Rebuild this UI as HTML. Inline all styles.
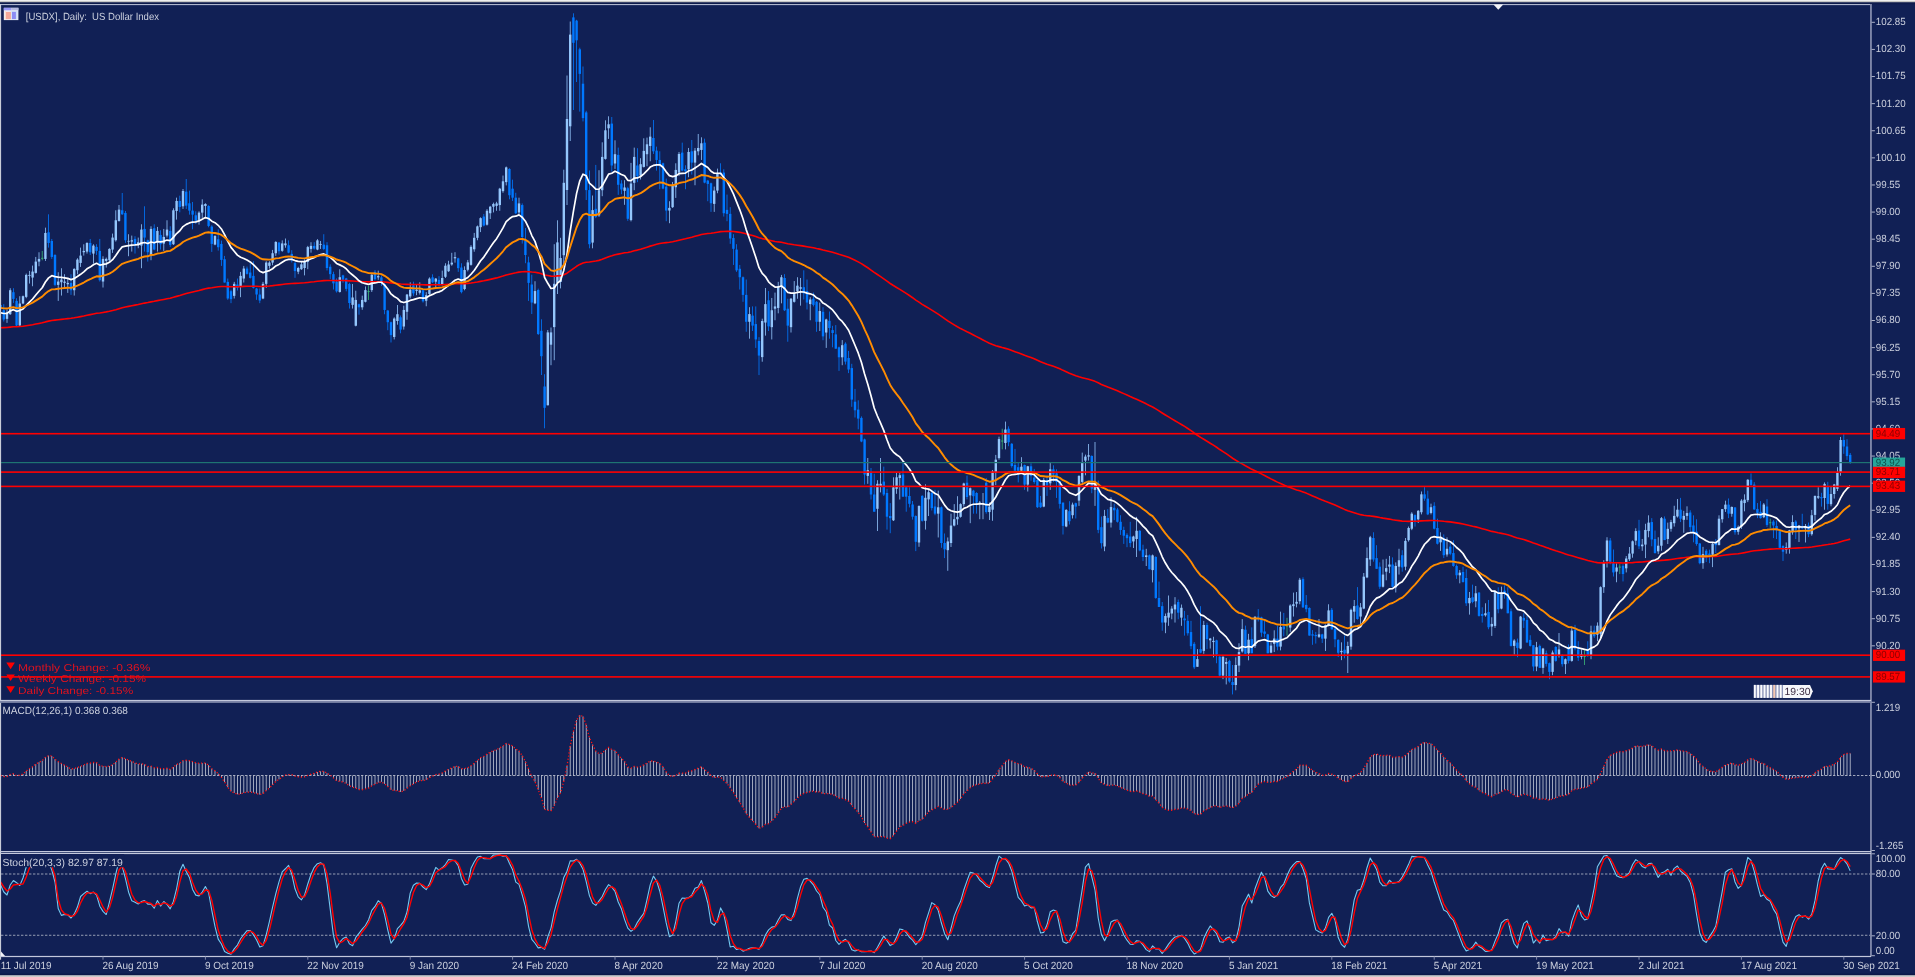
<!DOCTYPE html><html><head><meta charset="utf-8"><style>html,body{margin:0;padding:0;background:#112055;}body{width:1915px;height:977px;overflow:hidden;position:relative}svg{display:block;position:absolute;left:0;top:0}.ov{will-change:transform}</style></head><body><svg width="1915" height="977" viewBox="0 0 1915 977"><rect x="0" y="0" width="1915" height="977" fill="#112055"/><defs><clipPath id="cm"><rect x="1" y="5" width="1869.5" height="695"/></clipPath><clipPath id="cmacd"><rect x="1" y="703" width="1869.5" height="148"/></clipPath><clipPath id="cst"><rect x="1" y="854" width="1869.5" height="101.5"/></clipPath></defs><g clip-path="url(#cm)"><rect x="0.2" y="304.5" width="0.8" height="5" fill="#0078ff"/><rect x="-0.6" y="305" width="2.4" height="4" fill="#0078ff"/><rect x="3.4" y="304.2" width="0.8" height="17.31" fill="#0078ff"/><rect x="2.6" y="310.19" width="2.4" height="9.32" fill="#0078ff"/><rect x="6.6" y="309.53" width="0.8" height="13.32" fill="#94c6fc"/><rect x="5.8" y="312.19" width="2.4" height="6.66" fill="#94c6fc"/><rect x="9.8" y="288.22" width="0.8" height="26.63" fill="#94c6fc"/><rect x="9" y="290.22" width="2.4" height="23.97" fill="#94c6fc"/><rect x="13" y="288.22" width="0.8" height="14.65" fill="#0078ff"/><rect x="12.2" y="292.22" width="2.4" height="6.66" fill="#0078ff"/><rect x="16.2" y="298.21" width="0.8" height="27.96" fill="#0078ff"/><rect x="15.4" y="300.87" width="2.4" height="24.63" fill="#0078ff"/><rect x="19.4" y="296.21" width="0.8" height="29.96" fill="#94c6fc"/><rect x="18.6" y="303.54" width="2.4" height="21.97" fill="#94c6fc"/><rect x="22.6" y="295.55" width="0.8" height="8.66" fill="#94c6fc"/><rect x="21.8" y="296.21" width="2.4" height="7.32" fill="#94c6fc"/><rect x="25.8" y="273.58" width="0.8" height="24.63" fill="#94c6fc"/><rect x="25" y="274.91" width="2.4" height="21.97" fill="#94c6fc"/><rect x="29" y="270.91" width="0.8" height="12.65" fill="#94c6fc"/><rect x="28.2" y="274.91" width="2.4" height="0.93" fill="#94c6fc"/><rect x="32.2" y="265.59" width="0.8" height="20.64" fill="#94c6fc"/><rect x="31.4" y="271.58" width="2.4" height="5.99" fill="#94c6fc"/><rect x="35.4" y="256.93" width="0.8" height="16.64" fill="#94c6fc"/><rect x="34.6" y="261.59" width="2.4" height="11.32" fill="#94c6fc"/><rect x="38.6" y="252.27" width="0.8" height="13.98" fill="#94c6fc"/><rect x="37.8" y="258.93" width="2.4" height="2.66" fill="#94c6fc"/><rect x="41.8" y="250.94" width="0.8" height="9.32" fill="#3cb878"/><rect x="41" y="257.86" width="2.4" height="0.8" fill="#3cb878"/><rect x="45" y="227.64" width="0.8" height="33.29" fill="#94c6fc"/><rect x="44.2" y="232.96" width="2.4" height="25.97" fill="#94c6fc"/><rect x="48.2" y="214.32" width="0.8" height="33.29" fill="#0078ff"/><rect x="47.4" y="232.3" width="2.4" height="10.65" fill="#0078ff"/><rect x="51.4" y="238.95" width="0.8" height="19.97" fill="#0078ff"/><rect x="50.6" y="240.95" width="2.4" height="15.98" fill="#0078ff"/><rect x="54.6" y="254.27" width="0.8" height="31.96" fill="#0078ff"/><rect x="53.8" y="254.93" width="2.4" height="29.96" fill="#0078ff"/><rect x="57.8" y="272.24" width="0.8" height="28.63" fill="#94c6fc"/><rect x="57" y="281.56" width="2.4" height="3.33" fill="#94c6fc"/><rect x="61" y="268.25" width="0.8" height="27.3" fill="#94c6fc"/><rect x="60.2" y="279.57" width="2.4" height="2.66" fill="#94c6fc"/><rect x="64.2" y="274.24" width="0.8" height="14.65" fill="#94c6fc"/><rect x="63.4" y="281.56" width="2.4" height="1.33" fill="#94c6fc"/><rect x="67.4" y="278.9" width="0.8" height="13.98" fill="#94c6fc"/><rect x="66.6" y="282.9" width="2.4" height="1.33" fill="#94c6fc"/><rect x="70.6" y="274.24" width="0.8" height="20.64" fill="#0078ff"/><rect x="69.8" y="282.9" width="2.4" height="7.32" fill="#0078ff"/><rect x="73.8" y="268.25" width="0.8" height="27.3" fill="#94c6fc"/><rect x="73" y="268.91" width="2.4" height="21.3" fill="#94c6fc"/><rect x="77" y="258.26" width="0.8" height="15.98" fill="#94c6fc"/><rect x="76.2" y="259.59" width="2.4" height="10.65" fill="#94c6fc"/><rect x="80.2" y="247.61" width="0.8" height="19.31" fill="#94c6fc"/><rect x="79.4" y="255.6" width="2.4" height="7.32" fill="#94c6fc"/><rect x="83.4" y="244.28" width="0.8" height="11.32" fill="#94c6fc"/><rect x="82.6" y="250.94" width="2.4" height="1.33" fill="#94c6fc"/><rect x="86.6" y="242.28" width="0.8" height="11.32" fill="#94c6fc"/><rect x="85.8" y="242.95" width="2.4" height="8.66" fill="#94c6fc"/><rect x="89.8" y="238.95" width="0.8" height="15.98" fill="#0078ff"/><rect x="89" y="242.95" width="2.4" height="9.32" fill="#0078ff"/><rect x="93" y="244.28" width="0.8" height="19.31" fill="#94c6fc"/><rect x="92.2" y="245.61" width="2.4" height="7.99" fill="#94c6fc"/><rect x="96.2" y="244.24" width="0.8" height="10.65" fill="#0078ff"/><rect x="95.4" y="246.9" width="2.4" height="3.99" fill="#0078ff"/><rect x="99.4" y="238.91" width="0.8" height="42.61" fill="#0078ff"/><rect x="98.6" y="250.9" width="2.4" height="29.29" fill="#0078ff"/><rect x="102.6" y="256.23" width="0.8" height="31.29" fill="#94c6fc"/><rect x="101.8" y="258.89" width="2.4" height="22.64" fill="#94c6fc"/><rect x="105.8" y="257.56" width="0.8" height="9.99" fill="#94c6fc"/><rect x="105" y="258.89" width="2.4" height="2" fill="#94c6fc"/><rect x="109" y="248.24" width="0.8" height="13.32" fill="#94c6fc"/><rect x="108.2" y="248.9" width="2.4" height="11.32" fill="#94c6fc"/><rect x="112.2" y="233.59" width="0.8" height="19.31" fill="#94c6fc"/><rect x="111.4" y="237.58" width="2.4" height="11.98" fill="#94c6fc"/><rect x="115.4" y="210.29" width="0.8" height="31.29" fill="#94c6fc"/><rect x="114.6" y="220.27" width="2.4" height="19.97" fill="#94c6fc"/><rect x="118.6" y="204.96" width="0.8" height="16.64" fill="#94c6fc"/><rect x="117.8" y="209.62" width="2.4" height="11.32" fill="#94c6fc"/><rect x="121.8" y="192.98" width="0.8" height="21.97" fill="#0078ff"/><rect x="121" y="210.29" width="2.4" height="3.99" fill="#0078ff"/><rect x="125" y="210.95" width="0.8" height="31.96" fill="#0078ff"/><rect x="124.2" y="212.95" width="2.4" height="27.3" fill="#0078ff"/><rect x="128.2" y="234.25" width="0.8" height="21.97" fill="#94c6fc"/><rect x="127.4" y="240.85" width="2.4" height="0.8" fill="#94c6fc"/><rect x="131.4" y="235.59" width="0.8" height="15.98" fill="#94c6fc"/><rect x="130.6" y="240.25" width="2.4" height="1.33" fill="#94c6fc"/><rect x="134.6" y="236.25" width="0.8" height="17.31" fill="#0078ff"/><rect x="133.8" y="238.91" width="2.4" height="5.33" fill="#0078ff"/><rect x="137.8" y="237.58" width="0.8" height="10.65" fill="#94c6fc"/><rect x="137" y="242.24" width="2.4" height="2" fill="#94c6fc"/><rect x="141" y="224.27" width="0.8" height="43.94" fill="#94c6fc"/><rect x="140.2" y="229.59" width="2.4" height="15.98" fill="#94c6fc"/><rect x="144.2" y="206.29" width="0.8" height="45.27" fill="#0078ff"/><rect x="143.4" y="228.93" width="2.4" height="8.66" fill="#0078ff"/><rect x="147.4" y="239.58" width="0.8" height="21.97" fill="#0078ff"/><rect x="146.6" y="240.25" width="2.4" height="11.98" fill="#0078ff"/><rect x="150.6" y="226.26" width="0.8" height="33.95" fill="#94c6fc"/><rect x="149.8" y="228.93" width="2.4" height="25.97" fill="#94c6fc"/><rect x="153.8" y="224.27" width="0.8" height="25.97" fill="#0078ff"/><rect x="153" y="228.26" width="2.4" height="21.3" fill="#0078ff"/><rect x="157" y="226.93" width="0.8" height="24.63" fill="#94c6fc"/><rect x="156.2" y="230.93" width="2.4" height="11.98" fill="#94c6fc"/><rect x="160.2" y="230.26" width="0.8" height="19.31" fill="#0078ff"/><rect x="159.4" y="234.92" width="2.4" height="9.32" fill="#0078ff"/><rect x="163.4" y="228.93" width="0.8" height="21.97" fill="#94c6fc"/><rect x="162.6" y="236.92" width="2.4" height="6.66" fill="#94c6fc"/><rect x="166.6" y="220.27" width="0.8" height="17.31" fill="#94c6fc"/><rect x="165.8" y="229.59" width="2.4" height="5.99" fill="#94c6fc"/><rect x="169.8" y="226.26" width="0.8" height="20.64" fill="#0078ff"/><rect x="169" y="230.93" width="2.4" height="13.98" fill="#0078ff"/><rect x="173" y="208.29" width="0.8" height="36.62" fill="#94c6fc"/><rect x="172.2" y="210.29" width="2.4" height="33.95" fill="#94c6fc"/><rect x="176.2" y="197.64" width="0.8" height="21.97" fill="#94c6fc"/><rect x="175.4" y="200.97" width="2.4" height="9.99" fill="#94c6fc"/><rect x="179.4" y="195.64" width="0.8" height="16.64" fill="#0078ff"/><rect x="178.6" y="200.97" width="2.4" height="5.99" fill="#0078ff"/><rect x="182.6" y="188.98" width="0.8" height="19.97" fill="#94c6fc"/><rect x="181.8" y="190.98" width="2.4" height="15.31" fill="#94c6fc"/><rect x="185.8" y="178.99" width="0.8" height="29.96" fill="#0078ff"/><rect x="185" y="191.64" width="2.4" height="13.98" fill="#0078ff"/><rect x="189" y="190.65" width="0.8" height="23.97" fill="#0078ff"/><rect x="188.2" y="203.3" width="2.4" height="7.32" fill="#0078ff"/><rect x="192.2" y="201.97" width="0.8" height="27.3" fill="#0078ff"/><rect x="191.4" y="210.63" width="2.4" height="3.99" fill="#0078ff"/><rect x="195.4" y="211.29" width="0.8" height="12.65" fill="#0078ff"/><rect x="194.6" y="215.29" width="2.4" height="5.33" fill="#0078ff"/><rect x="198.6" y="211.29" width="0.8" height="13.32" fill="#94c6fc"/><rect x="197.8" y="212.62" width="2.4" height="7.32" fill="#94c6fc"/><rect x="201.8" y="199.31" width="0.8" height="18.64" fill="#94c6fc"/><rect x="201" y="204.63" width="2.4" height="7.99" fill="#94c6fc"/><rect x="205" y="203.3" width="0.8" height="13.98" fill="#94c6fc"/><rect x="204.2" y="203.97" width="2.4" height="2" fill="#94c6fc"/><rect x="208.2" y="205.3" width="0.8" height="21.97" fill="#0078ff"/><rect x="207.4" y="205.97" width="2.4" height="19.97" fill="#0078ff"/><rect x="211.4" y="225.27" width="0.8" height="26.63" fill="#0078ff"/><rect x="210.6" y="226.6" width="2.4" height="17.31" fill="#0078ff"/><rect x="214.6" y="235.26" width="0.8" height="9.99" fill="#94c6fc"/><rect x="213.8" y="235.93" width="2.4" height="8.66" fill="#94c6fc"/><rect x="217.8" y="229.27" width="0.8" height="21.3" fill="#0078ff"/><rect x="217" y="239.25" width="2.4" height="7.99" fill="#0078ff"/><rect x="221" y="240.59" width="0.8" height="25.3" fill="#0078ff"/><rect x="220.2" y="243.91" width="2.4" height="15.98" fill="#0078ff"/><rect x="224.2" y="255.9" width="0.8" height="26.63" fill="#0078ff"/><rect x="223.4" y="259.23" width="2.4" height="23.3" fill="#0078ff"/><rect x="227.4" y="278.54" width="0.8" height="21.3" fill="#0078ff"/><rect x="226.6" y="281.86" width="2.4" height="16.64" fill="#0078ff"/><rect x="230.6" y="289.85" width="0.8" height="13.32" fill="#0078ff"/><rect x="229.8" y="291.19" width="2.4" height="7.99" fill="#0078ff"/><rect x="233.8" y="281.86" width="0.8" height="16.64" fill="#94c6fc"/><rect x="233" y="283.86" width="2.4" height="11.98" fill="#94c6fc"/><rect x="237" y="278.54" width="0.8" height="11.98" fill="#0078ff"/><rect x="236.2" y="284.53" width="2.4" height="3.33" fill="#0078ff"/><rect x="240.2" y="271.88" width="0.8" height="25.3" fill="#94c6fc"/><rect x="239.4" y="275.87" width="2.4" height="10.65" fill="#94c6fc"/><rect x="243.4" y="265.89" width="0.8" height="16.64" fill="#94c6fc"/><rect x="242.6" y="268.55" width="2.4" height="9.99" fill="#94c6fc"/><rect x="246.6" y="266.55" width="0.8" height="7.99" fill="#0078ff"/><rect x="245.8" y="268.55" width="2.4" height="5.33" fill="#0078ff"/><rect x="249.8" y="263.22" width="0.8" height="15.31" fill="#0078ff"/><rect x="249" y="272.54" width="2.4" height="5.33" fill="#0078ff"/><rect x="253" y="261.23" width="0.8" height="27.3" fill="#0078ff"/><rect x="252.2" y="275.87" width="2.4" height="11.98" fill="#0078ff"/><rect x="256.2" y="287.86" width="0.8" height="11.98" fill="#0078ff"/><rect x="255.4" y="288.52" width="2.4" height="5.99" fill="#0078ff"/><rect x="259.4" y="288.52" width="0.8" height="14.65" fill="#0078ff"/><rect x="258.6" y="294.51" width="2.4" height="5.99" fill="#0078ff"/><rect x="262.6" y="281.86" width="0.8" height="17.31" fill="#94c6fc"/><rect x="261.8" y="283.86" width="2.4" height="14.65" fill="#94c6fc"/><rect x="265.8" y="261.23" width="0.8" height="26.63" fill="#94c6fc"/><rect x="265" y="262.56" width="2.4" height="21.3" fill="#94c6fc"/><rect x="269" y="261.23" width="0.8" height="7.32" fill="#94c6fc"/><rect x="268.2" y="262.56" width="2.4" height="3.33" fill="#94c6fc"/><rect x="272.2" y="249.91" width="0.8" height="15.31" fill="#94c6fc"/><rect x="271.4" y="253.24" width="2.4" height="9.32" fill="#94c6fc"/><rect x="275.4" y="241.25" width="0.8" height="14.65" fill="#94c6fc"/><rect x="274.6" y="241.92" width="2.4" height="11.32" fill="#94c6fc"/><rect x="278.6" y="241.92" width="0.8" height="12.65" fill="#0078ff"/><rect x="277.8" y="242.58" width="2.4" height="8.66" fill="#0078ff"/><rect x="281.8" y="240.36" width="0.8" height="11.43" fill="#94c6fc"/><rect x="281" y="243.43" width="2.4" height="7.37" fill="#94c6fc"/><rect x="285" y="238.51" width="0.8" height="9.21" fill="#94c6fc"/><rect x="284.2" y="243.43" width="2.4" height="1.84" fill="#94c6fc"/><rect x="288.2" y="240.36" width="0.8" height="12.9" fill="#0078ff"/><rect x="287.4" y="245.27" width="2.4" height="7.37" fill="#0078ff"/><rect x="291.4" y="250.18" width="0.8" height="12.29" fill="#0078ff"/><rect x="290.6" y="253.87" width="2.4" height="4.91" fill="#0078ff"/><rect x="294.6" y="261.86" width="0.8" height="15.97" fill="#0078ff"/><rect x="293.8" y="263.08" width="2.4" height="7.99" fill="#0078ff"/><rect x="297.8" y="266.77" width="0.8" height="7.37" fill="#94c6fc"/><rect x="297" y="268" width="2.4" height="3.69" fill="#94c6fc"/><rect x="301" y="261.86" width="0.8" height="7.99" fill="#94c6fc"/><rect x="300.2" y="264.31" width="2.4" height="4.91" fill="#94c6fc"/><rect x="304.2" y="259.4" width="0.8" height="15.97" fill="#94c6fc"/><rect x="303.4" y="261.86" width="2.4" height="6.14" fill="#94c6fc"/><rect x="307.4" y="245.88" width="0.8" height="23.34" fill="#94c6fc"/><rect x="306.6" y="247.11" width="2.4" height="14.74" fill="#94c6fc"/><rect x="310.6" y="242.2" width="0.8" height="10.44" fill="#94c6fc"/><rect x="309.8" y="245.88" width="2.4" height="3.07" fill="#94c6fc"/><rect x="313.8" y="242.2" width="0.8" height="7.37" fill="#0078ff"/><rect x="313" y="245.88" width="2.4" height="2.7" fill="#0078ff"/><rect x="317" y="239.13" width="0.8" height="11.06" fill="#94c6fc"/><rect x="316.2" y="240.36" width="2.4" height="9.21" fill="#94c6fc"/><rect x="320.2" y="240.97" width="0.8" height="7.99" fill="#94c6fc"/><rect x="319.4" y="243.95" width="2.4" height="0.8" fill="#94c6fc"/><rect x="323.4" y="234.21" width="0.8" height="15.97" fill="#0078ff"/><rect x="322.6" y="244.66" width="2.4" height="4.3" fill="#0078ff"/><rect x="326.6" y="242.2" width="0.8" height="28.26" fill="#0078ff"/><rect x="325.8" y="245.27" width="2.4" height="22.73" fill="#0078ff"/><rect x="329.8" y="264.31" width="0.8" height="14.74" fill="#0078ff"/><rect x="329" y="266.77" width="2.4" height="7.37" fill="#0078ff"/><rect x="333" y="271.68" width="0.8" height="17.81" fill="#0078ff"/><rect x="332.2" y="274.14" width="2.4" height="9.21" fill="#0078ff"/><rect x="336.2" y="278.44" width="0.8" height="14.13" fill="#0078ff"/><rect x="335.4" y="281.51" width="2.4" height="9.83" fill="#0078ff"/><rect x="339.4" y="269.23" width="0.8" height="23.34" fill="#94c6fc"/><rect x="338.6" y="277.21" width="2.4" height="14.74" fill="#94c6fc"/><rect x="342.6" y="274.75" width="0.8" height="7.99" fill="#0078ff"/><rect x="341.8" y="275.37" width="2.4" height="4.3" fill="#0078ff"/><rect x="345.8" y="277.83" width="0.8" height="13.51" fill="#0078ff"/><rect x="345" y="278.44" width="2.4" height="10.44" fill="#0078ff"/><rect x="349" y="282.74" width="0.8" height="25.8" fill="#0078ff"/><rect x="348.2" y="283.97" width="2.4" height="19.04" fill="#0078ff"/><rect x="352.2" y="283.97" width="0.8" height="24.57" fill="#94c6fc"/><rect x="351.4" y="297.48" width="2.4" height="7.37" fill="#94c6fc"/><rect x="355.4" y="290.72" width="0.8" height="35.63" fill="#94c6fc"/><rect x="354.6" y="299.94" width="2.4" height="25.8" fill="#94c6fc"/><rect x="358.6" y="303.62" width="0.8" height="11.06" fill="#0078ff"/><rect x="357.8" y="304.24" width="2.4" height="3.07" fill="#0078ff"/><rect x="361.8" y="295.64" width="0.8" height="14.13" fill="#94c6fc"/><rect x="361" y="299.94" width="2.4" height="7.37" fill="#94c6fc"/><rect x="365" y="286.43" width="0.8" height="15.97" fill="#94c6fc"/><rect x="364.2" y="290.11" width="2.4" height="11.67" fill="#94c6fc"/><rect x="368.2" y="285.81" width="0.8" height="14.13" fill="#3cb878"/><rect x="367.4" y="291.25" width="2.4" height="0.8" fill="#3cb878"/><rect x="371.4" y="274.14" width="0.8" height="17.81" fill="#94c6fc"/><rect x="370.6" y="274.75" width="2.4" height="15.36" fill="#94c6fc"/><rect x="374.6" y="270.01" width="0.8" height="10.44" fill="#0078ff"/><rect x="373.8" y="271.86" width="2.4" height="7.37" fill="#0078ff"/><rect x="377.8" y="270.63" width="0.8" height="9.21" fill="#94c6fc"/><rect x="377" y="276.15" width="2.4" height="1.23" fill="#94c6fc"/><rect x="381" y="275.54" width="0.8" height="10.44" fill="#0078ff"/><rect x="380.2" y="277.38" width="2.4" height="4.91" fill="#0078ff"/><rect x="384.2" y="282.3" width="0.8" height="31.94" fill="#0078ff"/><rect x="383.4" y="284.14" width="2.4" height="25.8" fill="#0078ff"/><rect x="387.4" y="309.94" width="0.8" height="20.27" fill="#0078ff"/><rect x="386.6" y="310.55" width="2.4" height="11.67" fill="#0078ff"/><rect x="390.6" y="321.61" width="0.8" height="20.88" fill="#0078ff"/><rect x="389.8" y="322.22" width="2.4" height="12.9" fill="#0078ff"/><rect x="393.8" y="317.31" width="0.8" height="22.11" fill="#94c6fc"/><rect x="393" y="318.54" width="2.4" height="18.43" fill="#94c6fc"/><rect x="397" y="305.02" width="0.8" height="19.66" fill="#94c6fc"/><rect x="396.2" y="314.24" width="2.4" height="6.76" fill="#94c6fc"/><rect x="400.2" y="315.47" width="0.8" height="17.81" fill="#0078ff"/><rect x="399.4" y="317.31" width="2.4" height="12.29" fill="#0078ff"/><rect x="403.4" y="305.64" width="0.8" height="23.96" fill="#94c6fc"/><rect x="402.6" y="309.94" width="2.4" height="16.58" fill="#94c6fc"/><rect x="406.6" y="293.97" width="0.8" height="25.8" fill="#94c6fc"/><rect x="405.8" y="294.58" width="2.4" height="17.2" fill="#94c6fc"/><rect x="409.8" y="282.3" width="0.8" height="15.97" fill="#94c6fc"/><rect x="409" y="289.67" width="2.4" height="6.76" fill="#94c6fc"/><rect x="413" y="281.68" width="0.8" height="14.13" fill="#0078ff"/><rect x="412.2" y="285.37" width="2.4" height="7.99" fill="#0078ff"/><rect x="416.2" y="284.75" width="0.8" height="10.44" fill="#94c6fc"/><rect x="415.4" y="289.67" width="2.4" height="1.23" fill="#94c6fc"/><rect x="419.4" y="282.3" width="0.8" height="12.29" fill="#94c6fc"/><rect x="418.6" y="290.28" width="2.4" height="2.46" fill="#94c6fc"/><rect x="422.6" y="289.67" width="0.8" height="12.9" fill="#0078ff"/><rect x="421.8" y="290.28" width="2.4" height="11.06" fill="#0078ff"/><rect x="425.8" y="292.13" width="0.8" height="14.13" fill="#94c6fc"/><rect x="425" y="295.2" width="2.4" height="5.53" fill="#94c6fc"/><rect x="429" y="277.38" width="0.8" height="17.81" fill="#94c6fc"/><rect x="428.2" y="278.61" width="2.4" height="15.36" fill="#94c6fc"/><rect x="432.2" y="274.31" width="0.8" height="8.6" fill="#0078ff"/><rect x="431.4" y="277.38" width="2.4" height="4.91" fill="#0078ff"/><rect x="435.4" y="278" width="0.8" height="9.83" fill="#94c6fc"/><rect x="434.6" y="278.61" width="2.4" height="3.07" fill="#94c6fc"/><rect x="438.6" y="276.15" width="0.8" height="10.44" fill="#0078ff"/><rect x="437.8" y="279.84" width="2.4" height="4.91" fill="#0078ff"/><rect x="441.8" y="270.63" width="0.8" height="14.74" fill="#94c6fc"/><rect x="441" y="278" width="2.4" height="6.14" fill="#94c6fc"/><rect x="445" y="263.26" width="0.8" height="14.74" fill="#94c6fc"/><rect x="444.2" y="265.71" width="2.4" height="11.06" fill="#94c6fc"/><rect x="448.2" y="260.8" width="0.8" height="11.06" fill="#94c6fc"/><rect x="447.4" y="264.48" width="2.4" height="6.76" fill="#94c6fc"/><rect x="451.4" y="252.81" width="0.8" height="12.9" fill="#94c6fc"/><rect x="450.6" y="262.64" width="2.4" height="1.84" fill="#94c6fc"/><rect x="454.6" y="252.2" width="0.8" height="10.44" fill="#94c6fc"/><rect x="453.8" y="257.11" width="2.4" height="1.23" fill="#94c6fc"/><rect x="457.8" y="257.73" width="0.8" height="14.13" fill="#0078ff"/><rect x="457" y="258.34" width="2.4" height="9.83" fill="#0078ff"/><rect x="461" y="263.26" width="0.8" height="30.1" fill="#0078ff"/><rect x="460.2" y="267.56" width="2.4" height="24.57" fill="#0078ff"/><rect x="464.2" y="266.33" width="0.8" height="23.96" fill="#94c6fc"/><rect x="463.4" y="270.01" width="2.4" height="19.04" fill="#94c6fc"/><rect x="467.4" y="259.93" width="0.8" height="11.47" fill="#94c6fc"/><rect x="466.6" y="262.39" width="2.4" height="7.37" fill="#94c6fc"/><rect x="470.6" y="245.19" width="0.8" height="20.48" fill="#94c6fc"/><rect x="469.8" y="246.83" width="2.4" height="18.02" fill="#94c6fc"/><rect x="473.8" y="232.9" width="0.8" height="18.84" fill="#94c6fc"/><rect x="473" y="237.82" width="2.4" height="11.47" fill="#94c6fc"/><rect x="477" y="225.53" width="0.8" height="14.74" fill="#94c6fc"/><rect x="476.2" y="226.35" width="2.4" height="11.47" fill="#94c6fc"/><rect x="480.2" y="217.34" width="0.8" height="14.74" fill="#94c6fc"/><rect x="479.4" y="218.16" width="2.4" height="9.01" fill="#94c6fc"/><rect x="483.4" y="214.06" width="0.8" height="12.29" fill="#0078ff"/><rect x="482.6" y="216.52" width="2.4" height="9.01" fill="#0078ff"/><rect x="486.6" y="209.15" width="0.8" height="16.38" fill="#94c6fc"/><rect x="485.8" y="210.79" width="2.4" height="13.93" fill="#94c6fc"/><rect x="489.8" y="205.87" width="0.8" height="13.11" fill="#94c6fc"/><rect x="489" y="206.69" width="2.4" height="6.55" fill="#94c6fc"/><rect x="493" y="202.6" width="0.8" height="9.83" fill="#94c6fc"/><rect x="492.2" y="203.91" width="2.4" height="2.79" fill="#94c6fc"/><rect x="496.2" y="201.78" width="0.8" height="9.01" fill="#94c6fc"/><rect x="495.4" y="203.41" width="2.4" height="2.46" fill="#94c6fc"/><rect x="499.4" y="187.85" width="0.8" height="22.94" fill="#94c6fc"/><rect x="498.6" y="188.67" width="2.4" height="16.38" fill="#94c6fc"/><rect x="502.6" y="175.56" width="0.8" height="17.2" fill="#94c6fc"/><rect x="501.8" y="181.3" width="2.4" height="9.83" fill="#94c6fc"/><rect x="505.8" y="166.55" width="0.8" height="18.84" fill="#94c6fc"/><rect x="505" y="167.37" width="2.4" height="14.74" fill="#94c6fc"/><rect x="509" y="168.19" width="0.8" height="31.13" fill="#0078ff"/><rect x="508.2" y="169.01" width="2.4" height="26.21" fill="#0078ff"/><rect x="512.2" y="179.66" width="0.8" height="21.3" fill="#0078ff"/><rect x="511.4" y="188.67" width="2.4" height="9.01" fill="#0078ff"/><rect x="515.4" y="192.77" width="0.8" height="21.3" fill="#0078ff"/><rect x="514.6" y="197.68" width="2.4" height="15.56" fill="#0078ff"/><rect x="518.6" y="197.68" width="0.8" height="16.38" fill="#94c6fc"/><rect x="517.8" y="203.41" width="2.4" height="9.01" fill="#94c6fc"/><rect x="521.8" y="203.41" width="0.8" height="40.14" fill="#0078ff"/><rect x="521" y="205.05" width="2.4" height="31.95" fill="#0078ff"/><rect x="525" y="227.99" width="0.8" height="35.22" fill="#0078ff"/><rect x="524.2" y="240.28" width="2.4" height="14.74" fill="#0078ff"/><rect x="528.2" y="256.66" width="0.8" height="44.23" fill="#0078ff"/><rect x="527.4" y="262.39" width="2.4" height="20.48" fill="#0078ff"/><rect x="531.4" y="274.68" width="0.8" height="39.32" fill="#0078ff"/><rect x="530.6" y="284.51" width="2.4" height="18.02" fill="#0078ff"/><rect x="534.6" y="281.23" width="0.8" height="22.94" fill="#94c6fc"/><rect x="533.8" y="291.06" width="2.4" height="12.29" fill="#94c6fc"/><rect x="537.8" y="288.6" width="0.8" height="46.4" fill="#0078ff"/><rect x="537" y="290" width="2.4" height="44" fill="#0078ff"/><rect x="541" y="319.3" width="0.8" height="55.7" fill="#0078ff"/><rect x="540.2" y="330.8" width="2.4" height="25.4" fill="#0078ff"/><rect x="544.2" y="374.2" width="0.8" height="54.1" fill="#0078ff"/><rect x="543.4" y="386.5" width="2.4" height="21.3" fill="#0078ff"/><rect x="547.4" y="330" width="0.8" height="75.3" fill="#94c6fc"/><rect x="546.6" y="332.4" width="2.4" height="72.9" fill="#94c6fc"/><rect x="550.6" y="327.5" width="0.8" height="37.7" fill="#94c6fc"/><rect x="549.8" y="332.4" width="2.4" height="12.3" fill="#94c6fc"/><rect x="553.8" y="244.2" width="0.8" height="116" fill="#94c6fc"/><rect x="553" y="283.8" width="2.4" height="43.3" fill="#94c6fc"/><rect x="557" y="220.3" width="0.8" height="73.7" fill="#94c6fc"/><rect x="556.2" y="242.4" width="2.4" height="40.5" fill="#94c6fc"/><rect x="560.2" y="237.8" width="0.8" height="50.6" fill="#94c6fc"/><rect x="559.4" y="258" width="2.4" height="24" fill="#94c6fc"/><rect x="563.4" y="169.7" width="0.8" height="95" fill="#94c6fc"/><rect x="562.6" y="182.8" width="2.4" height="72.4" fill="#94c6fc"/><rect x="566.6" y="75.5" width="0.8" height="129.5" fill="#94c6fc"/><rect x="565.8" y="119" width="2.4" height="71" fill="#94c6fc"/><rect x="569.8" y="21.5" width="0.8" height="119.5" fill="#94c6fc"/><rect x="569" y="34.6" width="2.4" height="91.7" fill="#94c6fc"/><rect x="573" y="13.3" width="0.8" height="96.7" fill="#0078ff"/><rect x="572.2" y="17.4" width="2.4" height="25.4" fill="#0078ff"/><rect x="576.2" y="19.8" width="0.8" height="62.2" fill="#0078ff"/><rect x="575.4" y="20.6" width="2.4" height="19.7" fill="#0078ff"/><rect x="579.4" y="47.7" width="0.8" height="63.9" fill="#0078ff"/><rect x="578.6" y="49.3" width="2.4" height="24.6" fill="#0078ff"/><rect x="582.6" y="66.5" width="0.8" height="54.9" fill="#0078ff"/><rect x="581.8" y="83.7" width="2.4" height="34.4" fill="#0078ff"/><rect x="585.8" y="110.8" width="0.8" height="89.2" fill="#0078ff"/><rect x="585" y="112.4" width="2.4" height="77.7" fill="#0078ff"/><rect x="589" y="170.5" width="0.8" height="77.8" fill="#0078ff"/><rect x="588.2" y="190.1" width="2.4" height="54.1" fill="#0078ff"/><rect x="592.2" y="195.5" width="0.8" height="52.8" fill="#94c6fc"/><rect x="591.4" y="210.1" width="2.4" height="32.5" fill="#94c6fc"/><rect x="595.4" y="164.9" width="0.8" height="53.2" fill="#0078ff"/><rect x="594.6" y="208.8" width="2.4" height="8" fill="#0078ff"/><rect x="598.6" y="170.2" width="0.8" height="46.6" fill="#94c6fc"/><rect x="597.8" y="190.2" width="2.4" height="25.2" fill="#94c6fc"/><rect x="601.8" y="142.3" width="0.8" height="53.9" fill="#94c6fc"/><rect x="601" y="156.9" width="2.4" height="33.3" fill="#94c6fc"/><rect x="605" y="120.3" width="0.8" height="39.3" fill="#94c6fc"/><rect x="604.2" y="130.3" width="2.4" height="28.6" fill="#94c6fc"/><rect x="608.2" y="116.3" width="0.8" height="22.6" fill="#94c6fc"/><rect x="607.4" y="124.3" width="2.4" height="4" fill="#94c6fc"/><rect x="611.4" y="117" width="0.8" height="54.5" fill="#0078ff"/><rect x="610.6" y="123.6" width="2.4" height="41.9" fill="#0078ff"/><rect x="614.6" y="140.3" width="0.8" height="28.6" fill="#94c6fc"/><rect x="613.8" y="154.2" width="2.4" height="9.3" fill="#94c6fc"/><rect x="617.8" y="147.6" width="0.8" height="47.2" fill="#0078ff"/><rect x="617" y="154.9" width="2.4" height="29.9" fill="#0078ff"/><rect x="621" y="180.2" width="0.8" height="14" fill="#0078ff"/><rect x="620.2" y="183.5" width="2.4" height="6" fill="#0078ff"/><rect x="624.2" y="180.2" width="0.8" height="24.6" fill="#94c6fc"/><rect x="623.4" y="187.5" width="2.4" height="3.3" fill="#94c6fc"/><rect x="627.4" y="186.8" width="0.8" height="34" fill="#0078ff"/><rect x="626.6" y="188.2" width="2.4" height="30.6" fill="#0078ff"/><rect x="630.6" y="162.9" width="0.8" height="58.5" fill="#94c6fc"/><rect x="629.8" y="183.5" width="2.4" height="36.6" fill="#94c6fc"/><rect x="633.8" y="147.6" width="0.8" height="42.6" fill="#94c6fc"/><rect x="633" y="156.9" width="2.4" height="25.9" fill="#94c6fc"/><rect x="637" y="148.2" width="0.8" height="34" fill="#0078ff"/><rect x="636.2" y="165.5" width="2.4" height="10.7" fill="#0078ff"/><rect x="640.2" y="158.2" width="0.8" height="21.3" fill="#94c6fc"/><rect x="639.4" y="164.2" width="2.4" height="11.3" fill="#94c6fc"/><rect x="643.4" y="138.3" width="0.8" height="29.2" fill="#94c6fc"/><rect x="642.6" y="150.9" width="2.4" height="16" fill="#94c6fc"/><rect x="646.6" y="137.6" width="0.8" height="28.6" fill="#94c6fc"/><rect x="645.8" y="144.3" width="2.4" height="9.9" fill="#94c6fc"/><rect x="649.8" y="127.32" width="0.8" height="33.95" fill="#94c6fc"/><rect x="649" y="136.64" width="2.4" height="9.32" fill="#94c6fc"/><rect x="653" y="120" width="0.8" height="33.95" fill="#0078ff"/><rect x="652.2" y="137.98" width="2.4" height="13.32" fill="#0078ff"/><rect x="656.2" y="146.63" width="0.8" height="23.97" fill="#0078ff"/><rect x="655.4" y="150.63" width="2.4" height="9.32" fill="#0078ff"/><rect x="659.4" y="151.29" width="0.8" height="37.95" fill="#0078ff"/><rect x="658.6" y="159.95" width="2.4" height="3.99" fill="#0078ff"/><rect x="662.6" y="162.61" width="0.8" height="26.63" fill="#0078ff"/><rect x="661.8" y="163.28" width="2.4" height="25.3" fill="#0078ff"/><rect x="665.8" y="178.59" width="0.8" height="42.61" fill="#0078ff"/><rect x="665" y="186.58" width="2.4" height="23.97" fill="#0078ff"/><rect x="669" y="201.23" width="0.8" height="21.97" fill="#94c6fc"/><rect x="668.2" y="207.88" width="2.4" height="2.66" fill="#94c6fc"/><rect x="672.2" y="181.92" width="0.8" height="25.97" fill="#94c6fc"/><rect x="671.4" y="185.25" width="2.4" height="21.97" fill="#94c6fc"/><rect x="675.4" y="163.28" width="0.8" height="34.62" fill="#94c6fc"/><rect x="674.6" y="169.93" width="2.4" height="17.31" fill="#94c6fc"/><rect x="678.6" y="151.96" width="0.8" height="23.97" fill="#94c6fc"/><rect x="677.8" y="153.95" width="2.4" height="18.64" fill="#94c6fc"/><rect x="681.8" y="142.64" width="0.8" height="28.63" fill="#0078ff"/><rect x="681" y="152.62" width="2.4" height="17.98" fill="#0078ff"/><rect x="685" y="165.27" width="0.8" height="23.97" fill="#0078ff"/><rect x="684.2" y="169.27" width="2.4" height="2" fill="#0078ff"/><rect x="688.2" y="147.96" width="0.8" height="29.29" fill="#94c6fc"/><rect x="687.4" y="151.96" width="2.4" height="17.31" fill="#94c6fc"/><rect x="691.4" y="139.97" width="0.8" height="34.62" fill="#0078ff"/><rect x="690.6" y="151.29" width="2.4" height="11.32" fill="#0078ff"/><rect x="694.6" y="147.96" width="0.8" height="37.28" fill="#94c6fc"/><rect x="693.8" y="150.63" width="2.4" height="11.98" fill="#94c6fc"/><rect x="697.8" y="133.98" width="0.8" height="21.3" fill="#94c6fc"/><rect x="697" y="147.96" width="2.4" height="3.33" fill="#94c6fc"/><rect x="701" y="137.31" width="0.8" height="22.64" fill="#94c6fc"/><rect x="700.2" y="143.3" width="2.4" height="6.66" fill="#94c6fc"/><rect x="704.2" y="138.64" width="0.8" height="44.61" fill="#0078ff"/><rect x="703.4" y="142.64" width="2.4" height="39.95" fill="#0078ff"/><rect x="707.4" y="179.92" width="0.8" height="21.3" fill="#0078ff"/><rect x="706.6" y="180.59" width="2.4" height="3.33" fill="#0078ff"/><rect x="710.6" y="182.58" width="0.8" height="29.29" fill="#0078ff"/><rect x="709.8" y="183.25" width="2.4" height="19.97" fill="#0078ff"/><rect x="713.8" y="186.58" width="0.8" height="25.3" fill="#94c6fc"/><rect x="713" y="190.57" width="2.4" height="13.32" fill="#94c6fc"/><rect x="717" y="168.6" width="0.8" height="24.63" fill="#94c6fc"/><rect x="716.2" y="173.26" width="2.4" height="17.31" fill="#94c6fc"/><rect x="720.2" y="163.28" width="0.8" height="11.98" fill="#0078ff"/><rect x="719.4" y="172.6" width="2.4" height="1.33" fill="#0078ff"/><rect x="723.4" y="169.27" width="0.8" height="47.27" fill="#0078ff"/><rect x="722.6" y="172.6" width="2.4" height="40.61" fill="#0078ff"/><rect x="726.6" y="194.57" width="0.8" height="26.63" fill="#0078ff"/><rect x="725.8" y="209.88" width="2.4" height="3.99" fill="#0078ff"/><rect x="729.8" y="207.22" width="0.8" height="36.62" fill="#0078ff"/><rect x="729" y="213.87" width="2.4" height="24.63" fill="#0078ff"/><rect x="733" y="234.22" width="0.8" height="30.72" fill="#0078ff"/><rect x="732.2" y="238.06" width="2.4" height="10.75" fill="#0078ff"/><rect x="736.2" y="244.2" width="0.8" height="27.65" fill="#0078ff"/><rect x="735.4" y="249.58" width="2.4" height="20.74" fill="#0078ff"/><rect x="739.4" y="264.94" width="0.8" height="24.58" fill="#0078ff"/><rect x="738.6" y="268.78" width="2.4" height="8.45" fill="#0078ff"/><rect x="742.6" y="276.46" width="0.8" height="25.35" fill="#0078ff"/><rect x="741.8" y="277.23" width="2.4" height="17.67" fill="#0078ff"/><rect x="745.8" y="279.53" width="0.8" height="52.23" fill="#0078ff"/><rect x="745" y="294.89" width="2.4" height="26.88" fill="#0078ff"/><rect x="749" y="307.18" width="0.8" height="31.49" fill="#94c6fc"/><rect x="748.2" y="314.09" width="2.4" height="7.68" fill="#94c6fc"/><rect x="752.2" y="306.41" width="0.8" height="24.58" fill="#0078ff"/><rect x="751.4" y="315.63" width="2.4" height="9.98" fill="#0078ff"/><rect x="755.4" y="306.41" width="0.8" height="41.47" fill="#0078ff"/><rect x="754.6" y="324.08" width="2.4" height="15.36" fill="#0078ff"/><rect x="758.6" y="337.14" width="0.8" height="37.94" fill="#0078ff"/><rect x="757.8" y="340.98" width="2.4" height="14.59" fill="#0078ff"/><rect x="761.8" y="318.7" width="0.8" height="43.01" fill="#94c6fc"/><rect x="761" y="321.01" width="2.4" height="36.1" fill="#94c6fc"/><rect x="765" y="287.98" width="0.8" height="47.62" fill="#94c6fc"/><rect x="764.2" y="304.11" width="2.4" height="18.43" fill="#94c6fc"/><rect x="768.2" y="291.05" width="0.8" height="39.94" fill="#0078ff"/><rect x="767.4" y="300.27" width="2.4" height="26.11" fill="#0078ff"/><rect x="771.4" y="297.96" width="0.8" height="41.47" fill="#94c6fc"/><rect x="770.6" y="310.25" width="2.4" height="16.9" fill="#94c6fc"/><rect x="774.6" y="292.59" width="0.8" height="27.65" fill="#94c6fc"/><rect x="773.8" y="306.41" width="2.4" height="2.3" fill="#94c6fc"/><rect x="777.8" y="281.84" width="0.8" height="31.49" fill="#94c6fc"/><rect x="777" y="286.44" width="2.4" height="21.51" fill="#94c6fc"/><rect x="781" y="274.92" width="0.8" height="28.42" fill="#94c6fc"/><rect x="780.2" y="277.23" width="2.4" height="9.22" fill="#94c6fc"/><rect x="784.2" y="274.16" width="0.8" height="36.87" fill="#0078ff"/><rect x="783.4" y="278" width="2.4" height="32.26" fill="#0078ff"/><rect x="787.4" y="298.73" width="0.8" height="43.01" fill="#0078ff"/><rect x="786.6" y="308.72" width="2.4" height="16.9" fill="#0078ff"/><rect x="790.6" y="297.96" width="0.8" height="34.56" fill="#94c6fc"/><rect x="789.8" y="298.73" width="2.4" height="28.42" fill="#94c6fc"/><rect x="793.8" y="281.07" width="0.8" height="21.51" fill="#94c6fc"/><rect x="793" y="294.12" width="2.4" height="7.68" fill="#94c6fc"/><rect x="797" y="277.23" width="0.8" height="21.51" fill="#94c6fc"/><rect x="796.2" y="285.68" width="2.4" height="5.38" fill="#94c6fc"/><rect x="800.2" y="278" width="0.8" height="27.65" fill="#94c6fc"/><rect x="799.4" y="287.21" width="2.4" height="1.54" fill="#94c6fc"/><rect x="803.4" y="270.31" width="0.8" height="29.19" fill="#0078ff"/><rect x="802.6" y="287.21" width="2.4" height="6.14" fill="#0078ff"/><rect x="806.6" y="279.53" width="0.8" height="29.95" fill="#0078ff"/><rect x="805.8" y="291.05" width="2.4" height="11.52" fill="#0078ff"/><rect x="809.8" y="297.2" width="0.8" height="23.04" fill="#94c6fc"/><rect x="809" y="299.5" width="2.4" height="4.61" fill="#94c6fc"/><rect x="813" y="292.59" width="0.8" height="13.82" fill="#0078ff"/><rect x="812.2" y="298.73" width="2.4" height="6.14" fill="#0078ff"/><rect x="816.2" y="301.04" width="0.8" height="30.72" fill="#0078ff"/><rect x="815.4" y="301.8" width="2.4" height="19.97" fill="#0078ff"/><rect x="819.4" y="302.57" width="0.8" height="28.42" fill="#94c6fc"/><rect x="818.6" y="311.02" width="2.4" height="10.75" fill="#94c6fc"/><rect x="822.6" y="307.18" width="0.8" height="33.03" fill="#0078ff"/><rect x="821.8" y="311.79" width="2.4" height="24.58" fill="#0078ff"/><rect x="825.8" y="318.7" width="0.8" height="29.19" fill="#94c6fc"/><rect x="825" y="319.47" width="2.4" height="13.06" fill="#94c6fc"/><rect x="829" y="311.5" width="0.8" height="27.2" fill="#0078ff"/><rect x="828.2" y="320.8" width="2.4" height="7.2" fill="#0078ff"/><rect x="832.2" y="325.8" width="0.8" height="21.5" fill="#0078ff"/><rect x="831.4" y="330.1" width="2.4" height="2.9" fill="#0078ff"/><rect x="835.4" y="325.1" width="0.8" height="23.6" fill="#0078ff"/><rect x="834.6" y="334.4" width="2.4" height="14.3" fill="#0078ff"/><rect x="838.6" y="346.6" width="0.8" height="24.3" fill="#0078ff"/><rect x="837.8" y="347.3" width="2.4" height="10" fill="#0078ff"/><rect x="841.8" y="340.1" width="0.8" height="25.1" fill="#94c6fc"/><rect x="841" y="345.2" width="2.4" height="12.1" fill="#94c6fc"/><rect x="845" y="342.3" width="0.8" height="22.2" fill="#0078ff"/><rect x="844.2" y="343.7" width="2.4" height="17.9" fill="#0078ff"/><rect x="848.2" y="350.9" width="0.8" height="22.2" fill="#0078ff"/><rect x="847.4" y="358" width="2.4" height="11.5" fill="#0078ff"/><rect x="851.4" y="363.8" width="0.8" height="43" fill="#0078ff"/><rect x="850.6" y="368.1" width="2.4" height="31.5" fill="#0078ff"/><rect x="854.6" y="388.9" width="0.8" height="28.6" fill="#0078ff"/><rect x="853.8" y="401.7" width="2.4" height="8.6" fill="#0078ff"/><rect x="857.8" y="400.3" width="0.8" height="29" fill="#0078ff"/><rect x="857" y="409.6" width="2.4" height="9" fill="#0078ff"/><rect x="861" y="416.4" width="0.8" height="25.8" fill="#0078ff"/><rect x="860.2" y="417.9" width="2.4" height="23.6" fill="#0078ff"/><rect x="864.2" y="438.6" width="0.8" height="45.9" fill="#0078ff"/><rect x="863.4" y="439.4" width="2.4" height="35.1" fill="#0078ff"/><rect x="867.4" y="458" width="0.8" height="25.8" fill="#94c6fc"/><rect x="866.6" y="470.2" width="2.4" height="5.7" fill="#94c6fc"/><rect x="870.6" y="468" width="0.8" height="31.5" fill="#0078ff"/><rect x="869.8" y="472.3" width="2.4" height="22.2" fill="#0078ff"/><rect x="873.8" y="473.7" width="0.8" height="38" fill="#0078ff"/><rect x="873" y="494.5" width="2.4" height="17.2" fill="#0078ff"/><rect x="877" y="480.2" width="0.8" height="50.8" fill="#94c6fc"/><rect x="876.2" y="483.8" width="2.4" height="25" fill="#94c6fc"/><rect x="880.2" y="458" width="0.8" height="34.4" fill="#94c6fc"/><rect x="879.4" y="483.8" width="2.4" height="2.1" fill="#94c6fc"/><rect x="883.4" y="466.6" width="0.8" height="29.4" fill="#0078ff"/><rect x="882.6" y="481.6" width="2.4" height="12.9" fill="#0078ff"/><rect x="886.6" y="488.8" width="0.8" height="40.8" fill="#0078ff"/><rect x="885.8" y="493" width="2.4" height="23.7" fill="#0078ff"/><rect x="889.8" y="503.1" width="0.8" height="30.1" fill="#0078ff"/><rect x="889" y="516" width="2.4" height="2.2" fill="#0078ff"/><rect x="893" y="477.3" width="0.8" height="43.7" fill="#94c6fc"/><rect x="892.2" y="487.3" width="2.4" height="33" fill="#94c6fc"/><rect x="896.2" y="473" width="0.8" height="20.8" fill="#94c6fc"/><rect x="895.4" y="477.3" width="2.4" height="11.5" fill="#94c6fc"/><rect x="899.4" y="473" width="0.8" height="26.5" fill="#94c6fc"/><rect x="898.6" y="475.2" width="2.4" height="2.8" fill="#94c6fc"/><rect x="902.6" y="463" width="0.8" height="33.7" fill="#0078ff"/><rect x="901.8" y="474.5" width="2.4" height="22.2" fill="#0078ff"/><rect x="905.8" y="486.6" width="0.8" height="25.1" fill="#0078ff"/><rect x="905" y="487.3" width="2.4" height="9.4" fill="#0078ff"/><rect x="909" y="487.3" width="0.8" height="20.1" fill="#0078ff"/><rect x="908.2" y="496" width="2.4" height="7.8" fill="#0078ff"/><rect x="912.2" y="501" width="0.8" height="18.6" fill="#0078ff"/><rect x="911.4" y="504.5" width="2.4" height="12.2" fill="#0078ff"/><rect x="915.4" y="515.3" width="0.8" height="35.8" fill="#0078ff"/><rect x="914.6" y="516" width="2.4" height="25.8" fill="#0078ff"/><rect x="918.6" y="505.3" width="0.8" height="41.5" fill="#94c6fc"/><rect x="917.8" y="506" width="2.4" height="36.5" fill="#94c6fc"/><rect x="921.8" y="495.24" width="0.8" height="26.35" fill="#0078ff"/><rect x="921" y="495.87" width="2.4" height="24.92" fill="#0078ff"/><rect x="925" y="484.29" width="0.8" height="45.24" fill="#94c6fc"/><rect x="924.2" y="497.78" width="2.4" height="23.02" fill="#94c6fc"/><rect x="928.2" y="489.84" width="0.8" height="26.19" fill="#94c6fc"/><rect x="927.4" y="492.22" width="2.4" height="7.14" fill="#94c6fc"/><rect x="931.4" y="490.63" width="0.8" height="19.84" fill="#0078ff"/><rect x="930.6" y="493.02" width="2.4" height="15.08" fill="#0078ff"/><rect x="934.6" y="489.84" width="0.8" height="25.4" fill="#0078ff"/><rect x="933.8" y="506.51" width="2.4" height="7.14" fill="#0078ff"/><rect x="937.8" y="490.63" width="0.8" height="46.83" fill="#94c6fc"/><rect x="937" y="507.3" width="2.4" height="6.35" fill="#94c6fc"/><rect x="941" y="506.51" width="0.8" height="41.27" fill="#0078ff"/><rect x="940.2" y="507.3" width="2.4" height="35.71" fill="#0078ff"/><rect x="944.2" y="533.49" width="0.8" height="24.6" fill="#0078ff"/><rect x="943.4" y="543.02" width="2.4" height="6.35" fill="#0078ff"/><rect x="947.4" y="537.46" width="0.8" height="33.33" fill="#94c6fc"/><rect x="946.6" y="541.43" width="2.4" height="8.73" fill="#94c6fc"/><rect x="950.6" y="513.65" width="0.8" height="33.33" fill="#94c6fc"/><rect x="949.8" y="525.56" width="2.4" height="17.46" fill="#94c6fc"/><rect x="953.8" y="504.13" width="0.8" height="22.22" fill="#94c6fc"/><rect x="953" y="519.21" width="2.4" height="6.35" fill="#94c6fc"/><rect x="957" y="496.19" width="0.8" height="28.57" fill="#94c6fc"/><rect x="956.2" y="516.83" width="2.4" height="2.38" fill="#94c6fc"/><rect x="960.2" y="503.33" width="0.8" height="14.29" fill="#94c6fc"/><rect x="959.4" y="504.13" width="2.4" height="12.7" fill="#94c6fc"/><rect x="963.4" y="482.7" width="0.8" height="23.81" fill="#94c6fc"/><rect x="962.6" y="483.49" width="2.4" height="20.63" fill="#94c6fc"/><rect x="966.6" y="475.56" width="0.8" height="23.81" fill="#0078ff"/><rect x="965.8" y="482.7" width="2.4" height="14.29" fill="#0078ff"/><rect x="969.8" y="487.46" width="0.8" height="35.71" fill="#94c6fc"/><rect x="969" y="488.25" width="2.4" height="7.14" fill="#94c6fc"/><rect x="973" y="489.84" width="0.8" height="23.81" fill="#0078ff"/><rect x="972.2" y="490.63" width="2.4" height="5.56" fill="#0078ff"/><rect x="976.2" y="492.22" width="0.8" height="21.43" fill="#0078ff"/><rect x="975.4" y="493.02" width="2.4" height="9.52" fill="#0078ff"/><rect x="979.4" y="500.95" width="0.8" height="18.25" fill="#94c6fc"/><rect x="978.6" y="502.54" width="2.4" height="0.8" fill="#94c6fc"/><rect x="982.6" y="493.02" width="0.8" height="26.19" fill="#94c6fc"/><rect x="981.8" y="503.33" width="2.4" height="0.8" fill="#94c6fc"/><rect x="985.8" y="477.94" width="0.8" height="35.71" fill="#0078ff"/><rect x="985" y="482.7" width="2.4" height="29.37" fill="#0078ff"/><rect x="989" y="502.54" width="0.8" height="17.46" fill="#94c6fc"/><rect x="988.2" y="506.51" width="2.4" height="5.56" fill="#94c6fc"/><rect x="992.2" y="470" width="0.8" height="50.79" fill="#94c6fc"/><rect x="991.4" y="471.59" width="2.4" height="38.1" fill="#94c6fc"/><rect x="995.4" y="454.92" width="0.8" height="30.16" fill="#94c6fc"/><rect x="994.6" y="459.68" width="2.4" height="12.7" fill="#94c6fc"/><rect x="998.6" y="436.67" width="0.8" height="23.02" fill="#94c6fc"/><rect x="997.8" y="439.05" width="2.4" height="19.05" fill="#94c6fc"/><rect x="1001.8" y="428.73" width="0.8" height="20.63" fill="#3cb878"/><rect x="1001" y="440.63" width="2.4" height="0.8" fill="#3cb878"/><rect x="1005" y="421.59" width="0.8" height="27.78" fill="#94c6fc"/><rect x="1004.2" y="429.52" width="2.4" height="13.49" fill="#94c6fc"/><rect x="1008.2" y="426.35" width="0.8" height="19.84" fill="#0078ff"/><rect x="1007.4" y="428.73" width="2.4" height="13.49" fill="#0078ff"/><rect x="1011.4" y="443.02" width="0.8" height="24.6" fill="#0078ff"/><rect x="1010.6" y="443.81" width="2.4" height="22.22" fill="#0078ff"/><rect x="1014.6" y="448.9" width="0.8" height="21.8" fill="#0078ff"/><rect x="1013.8" y="465" width="2.4" height="5.7" fill="#0078ff"/><rect x="1017.8" y="462.4" width="0.8" height="20" fill="#0078ff"/><rect x="1017" y="467.2" width="2.4" height="3.5" fill="#0078ff"/><rect x="1021" y="457.2" width="0.8" height="13.5" fill="#94c6fc"/><rect x="1020.2" y="466.7" width="2.4" height="4" fill="#94c6fc"/><rect x="1024.2" y="464.6" width="0.8" height="25.2" fill="#0078ff"/><rect x="1023.4" y="465" width="2.4" height="19.6" fill="#0078ff"/><rect x="1027.4" y="465.9" width="0.8" height="25.6" fill="#94c6fc"/><rect x="1026.6" y="466.3" width="2.4" height="18.3" fill="#94c6fc"/><rect x="1030.6" y="463.3" width="0.8" height="17.4" fill="#0078ff"/><rect x="1029.8" y="466.3" width="2.4" height="9.6" fill="#0078ff"/><rect x="1033.8" y="468.9" width="0.8" height="14.8" fill="#0078ff"/><rect x="1033" y="477.6" width="2.4" height="4.4" fill="#0078ff"/><rect x="1037" y="479.3" width="0.8" height="28.6" fill="#0078ff"/><rect x="1036.2" y="479.9" width="2.4" height="27.3" fill="#0078ff"/><rect x="1040.2" y="495.9" width="0.8" height="12" fill="#0078ff"/><rect x="1039.4" y="502.6" width="2.4" height="4.6" fill="#0078ff"/><rect x="1043.4" y="477.9" width="0.8" height="29.3" fill="#94c6fc"/><rect x="1042.6" y="479.9" width="2.4" height="26.7" fill="#94c6fc"/><rect x="1046.6" y="475.3" width="0.8" height="20.6" fill="#0078ff"/><rect x="1045.8" y="479.9" width="2.4" height="5.4" fill="#0078ff"/><rect x="1049.8" y="462.6" width="0.8" height="27.3" fill="#94c6fc"/><rect x="1049" y="469.3" width="2.4" height="14" fill="#94c6fc"/><rect x="1053" y="465.3" width="0.8" height="16.6" fill="#0078ff"/><rect x="1052.2" y="469.3" width="2.4" height="5.3" fill="#0078ff"/><rect x="1056.2" y="469.3" width="0.8" height="28.6" fill="#0078ff"/><rect x="1055.4" y="473.3" width="2.4" height="8.6" fill="#0078ff"/><rect x="1059.4" y="480.6" width="0.8" height="28" fill="#0078ff"/><rect x="1058.6" y="481.3" width="2.4" height="22.6" fill="#0078ff"/><rect x="1062.6" y="502.6" width="0.8" height="31.9" fill="#0078ff"/><rect x="1061.8" y="502.6" width="2.4" height="23.3" fill="#0078ff"/><rect x="1065.8" y="509.2" width="0.8" height="18" fill="#94c6fc"/><rect x="1065" y="509.9" width="2.4" height="16.6" fill="#94c6fc"/><rect x="1069" y="501.2" width="0.8" height="23.3" fill="#0078ff"/><rect x="1068.2" y="511.2" width="2.4" height="10" fill="#0078ff"/><rect x="1072.2" y="502.6" width="0.8" height="15.9" fill="#94c6fc"/><rect x="1071.4" y="504.6" width="2.4" height="10.6" fill="#94c6fc"/><rect x="1075.4" y="502.6" width="0.8" height="15.9" fill="#0078ff"/><rect x="1074.6" y="503.2" width="2.4" height="3.4" fill="#0078ff"/><rect x="1078.6" y="475.3" width="0.8" height="30.6" fill="#94c6fc"/><rect x="1077.8" y="475.9" width="2.4" height="24.7" fill="#94c6fc"/><rect x="1081.8" y="452.6" width="0.8" height="30.7" fill="#94c6fc"/><rect x="1081" y="462" width="2.4" height="19.9" fill="#94c6fc"/><rect x="1085" y="454.6" width="0.8" height="20.7" fill="#94c6fc"/><rect x="1084.2" y="456.6" width="2.4" height="4" fill="#94c6fc"/><rect x="1088.2" y="444" width="0.8" height="16.6" fill="#94c6fc"/><rect x="1087.4" y="455.3" width="2.4" height="1.3" fill="#94c6fc"/><rect x="1091.4" y="455.3" width="0.8" height="37.9" fill="#0078ff"/><rect x="1090.6" y="456" width="2.4" height="32.6" fill="#0078ff"/><rect x="1094.6" y="442" width="0.8" height="63.9" fill="#94c6fc"/><rect x="1093.8" y="483.3" width="2.4" height="6.6" fill="#94c6fc"/><rect x="1097.8" y="480.6" width="0.8" height="52.6" fill="#0078ff"/><rect x="1097" y="485.9" width="2.4" height="44" fill="#0078ff"/><rect x="1101" y="516.5" width="0.8" height="32" fill="#0078ff"/><rect x="1100.2" y="527.2" width="2.4" height="16" fill="#0078ff"/><rect x="1104.2" y="509.9" width="0.8" height="41.3" fill="#94c6fc"/><rect x="1103.4" y="515.9" width="2.4" height="30.6" fill="#94c6fc"/><rect x="1107.4" y="509.2" width="0.8" height="14" fill="#0078ff"/><rect x="1106.6" y="517.9" width="2.4" height="4.6" fill="#0078ff"/><rect x="1110.6" y="497.2" width="0.8" height="30.31" fill="#94c6fc"/><rect x="1109.8" y="507.03" width="2.4" height="15.56" fill="#94c6fc"/><rect x="1113.8" y="503.75" width="0.8" height="16.38" fill="#0078ff"/><rect x="1113" y="507.85" width="2.4" height="2.46" fill="#0078ff"/><rect x="1117" y="507.85" width="0.8" height="14.74" fill="#0078ff"/><rect x="1116.2" y="509.49" width="2.4" height="12.29" fill="#0078ff"/><rect x="1120.2" y="515.22" width="0.8" height="19.66" fill="#0078ff"/><rect x="1119.4" y="521.78" width="2.4" height="8.19" fill="#0078ff"/><rect x="1123.4" y="526.69" width="0.8" height="17.2" fill="#0078ff"/><rect x="1122.6" y="529.97" width="2.4" height="5.73" fill="#0078ff"/><rect x="1126.6" y="533.24" width="0.8" height="13.93" fill="#0078ff"/><rect x="1125.8" y="534.88" width="2.4" height="3.28" fill="#0078ff"/><rect x="1129.8" y="521.78" width="0.8" height="25.39" fill="#0078ff"/><rect x="1129" y="536.52" width="2.4" height="6.55" fill="#0078ff"/><rect x="1133" y="535.7" width="0.8" height="12.29" fill="#94c6fc"/><rect x="1132.2" y="536.52" width="2.4" height="4.91" fill="#94c6fc"/><rect x="1136.2" y="516.86" width="0.8" height="40.14" fill="#94c6fc"/><rect x="1135.4" y="530.79" width="2.4" height="8.19" fill="#94c6fc"/><rect x="1139.4" y="529.97" width="0.8" height="21.3" fill="#0078ff"/><rect x="1138.6" y="530.79" width="2.4" height="19.66" fill="#0078ff"/><rect x="1142.6" y="544.71" width="0.8" height="16.38" fill="#0078ff"/><rect x="1141.8" y="549.63" width="2.4" height="7.37" fill="#0078ff"/><rect x="1145.8" y="548.81" width="0.8" height="17.2" fill="#94c6fc"/><rect x="1145" y="555.36" width="2.4" height="1.64" fill="#94c6fc"/><rect x="1149" y="554.54" width="0.8" height="14.74" fill="#0078ff"/><rect x="1148.2" y="555.36" width="2.4" height="13.93" fill="#0078ff"/><rect x="1152.2" y="554.54" width="0.8" height="27.85" fill="#94c6fc"/><rect x="1151.4" y="555.36" width="2.4" height="14.74" fill="#94c6fc"/><rect x="1155.4" y="556.18" width="0.8" height="42.6" fill="#0078ff"/><rect x="1154.6" y="557" width="2.4" height="40.96" fill="#0078ff"/><rect x="1158.6" y="581.57" width="0.8" height="25.39" fill="#0078ff"/><rect x="1157.8" y="597.96" width="2.4" height="9.01" fill="#0078ff"/><rect x="1161.8" y="602.05" width="0.8" height="28.67" fill="#0078ff"/><rect x="1161" y="606.15" width="2.4" height="16.38" fill="#0078ff"/><rect x="1165" y="613.52" width="0.8" height="19.66" fill="#94c6fc"/><rect x="1164.2" y="615.98" width="2.4" height="6.55" fill="#94c6fc"/><rect x="1168.2" y="595.5" width="0.8" height="30.31" fill="#94c6fc"/><rect x="1167.4" y="612.7" width="2.4" height="4.91" fill="#94c6fc"/><rect x="1171.4" y="606.15" width="0.8" height="13.11" fill="#94c6fc"/><rect x="1170.6" y="608.6" width="2.4" height="4.91" fill="#94c6fc"/><rect x="1174.6" y="597.14" width="0.8" height="25.39" fill="#94c6fc"/><rect x="1173.8" y="604.51" width="2.4" height="4.91" fill="#94c6fc"/><rect x="1177.8" y="599.59" width="0.8" height="19.66" fill="#0078ff"/><rect x="1177" y="602.05" width="2.4" height="10.65" fill="#0078ff"/><rect x="1181" y="604.51" width="0.8" height="21.3" fill="#94c6fc"/><rect x="1180.2" y="607.79" width="2.4" height="9.83" fill="#94c6fc"/><rect x="1184.2" y="610.88" width="0.8" height="24.71" fill="#0078ff"/><rect x="1183.4" y="618.53" width="2.4" height="1.76" fill="#0078ff"/><rect x="1187.4" y="615" width="0.8" height="20.59" fill="#0078ff"/><rect x="1186.6" y="620.88" width="2.4" height="12.35" fill="#0078ff"/><rect x="1190.6" y="620.88" width="0.8" height="28.24" fill="#0078ff"/><rect x="1189.8" y="632.06" width="2.4" height="14.12" fill="#0078ff"/><rect x="1193.8" y="642.06" width="0.8" height="27.06" fill="#0078ff"/><rect x="1193" y="643.82" width="2.4" height="23.53" fill="#0078ff"/><rect x="1197" y="649.12" width="0.8" height="17.65" fill="#94c6fc"/><rect x="1196.2" y="659.12" width="2.4" height="7.65" fill="#94c6fc"/><rect x="1200.2" y="606.18" width="0.8" height="47.06" fill="#0078ff"/><rect x="1199.4" y="649.12" width="2.4" height="3.53" fill="#0078ff"/><rect x="1203.4" y="620.88" width="0.8" height="32.94" fill="#94c6fc"/><rect x="1202.6" y="625" width="2.4" height="25.88" fill="#94c6fc"/><rect x="1206.6" y="622.65" width="0.8" height="26.47" fill="#0078ff"/><rect x="1205.8" y="625" width="2.4" height="14.12" fill="#0078ff"/><rect x="1209.8" y="637.94" width="0.8" height="10.59" fill="#94c6fc"/><rect x="1209" y="638.53" width="2.4" height="1.76" fill="#94c6fc"/><rect x="1213" y="636.76" width="0.8" height="20.59" fill="#94c6fc"/><rect x="1212.2" y="640.88" width="2.4" height="1.18" fill="#94c6fc"/><rect x="1216.2" y="639.71" width="0.8" height="23.53" fill="#0078ff"/><rect x="1215.4" y="640.29" width="2.4" height="14.12" fill="#0078ff"/><rect x="1219.4" y="655.59" width="0.8" height="21.18" fill="#0078ff"/><rect x="1218.6" y="656.76" width="2.4" height="18.82" fill="#0078ff"/><rect x="1222.6" y="656.18" width="0.8" height="22.94" fill="#94c6fc"/><rect x="1221.8" y="656.76" width="2.4" height="18.82" fill="#94c6fc"/><rect x="1225.8" y="657.94" width="0.8" height="26.47" fill="#94c6fc"/><rect x="1225" y="662.06" width="2.4" height="1.76" fill="#94c6fc"/><rect x="1229" y="659.71" width="0.8" height="22.94" fill="#0078ff"/><rect x="1228.2" y="660.88" width="2.4" height="20.59" fill="#0078ff"/><rect x="1232.2" y="665" width="0.8" height="29.41" fill="#0078ff"/><rect x="1231.4" y="682.06" width="2.4" height="2.94" fill="#0078ff"/><rect x="1235.4" y="657.35" width="0.8" height="32.94" fill="#94c6fc"/><rect x="1234.6" y="665" width="2.4" height="20" fill="#94c6fc"/><rect x="1238.6" y="643.24" width="0.8" height="28.82" fill="#94c6fc"/><rect x="1237.8" y="652.06" width="2.4" height="13.53" fill="#94c6fc"/><rect x="1241.8" y="619.12" width="0.8" height="33.53" fill="#94c6fc"/><rect x="1241" y="629.12" width="2.4" height="22.35" fill="#94c6fc"/><rect x="1245" y="625.59" width="0.8" height="28.24" fill="#0078ff"/><rect x="1244.2" y="629.71" width="2.4" height="24.12" fill="#0078ff"/><rect x="1248.2" y="633.82" width="0.8" height="26.47" fill="#94c6fc"/><rect x="1247.4" y="639.71" width="2.4" height="13.53" fill="#94c6fc"/><rect x="1251.4" y="627.35" width="0.8" height="25.88" fill="#0078ff"/><rect x="1250.6" y="639.12" width="2.4" height="14.12" fill="#0078ff"/><rect x="1254.6" y="616.18" width="0.8" height="31.76" fill="#94c6fc"/><rect x="1253.8" y="616.76" width="2.4" height="29.41" fill="#94c6fc"/><rect x="1257.8" y="609.12" width="0.8" height="12.35" fill="#0078ff"/><rect x="1257" y="616.66" width="2.4" height="0.8" fill="#0078ff"/><rect x="1261" y="616.76" width="0.8" height="20" fill="#0078ff"/><rect x="1260.2" y="617.35" width="2.4" height="15.29" fill="#0078ff"/><rect x="1264.2" y="620.29" width="0.8" height="17.06" fill="#0078ff"/><rect x="1263.4" y="631.47" width="2.4" height="2.35" fill="#0078ff"/><rect x="1267.4" y="633.82" width="0.8" height="19.41" fill="#0078ff"/><rect x="1266.6" y="634.41" width="2.4" height="18.82" fill="#0078ff"/><rect x="1270.6" y="642.65" width="0.8" height="10.59" fill="#94c6fc"/><rect x="1269.8" y="645.59" width="2.4" height="7.06" fill="#94c6fc"/><rect x="1273.8" y="630.29" width="0.8" height="21.76" fill="#94c6fc"/><rect x="1273" y="638.53" width="2.4" height="5.29" fill="#94c6fc"/><rect x="1277" y="625.77" width="0.8" height="24.55" fill="#0078ff"/><rect x="1276.2" y="638.66" width="2.4" height="7.98" fill="#0078ff"/><rect x="1280.2" y="611.65" width="0.8" height="38.67" fill="#94c6fc"/><rect x="1279.4" y="626.99" width="2.4" height="19.64" fill="#94c6fc"/><rect x="1283.4" y="612.88" width="0.8" height="23.32" fill="#0078ff"/><rect x="1282.6" y="626.38" width="2.4" height="3.07" fill="#0078ff"/><rect x="1286.6" y="617.79" width="0.8" height="17.8" fill="#3cb878"/><rect x="1285.8" y="625.67" width="2.4" height="0.8" fill="#3cb878"/><rect x="1289.8" y="604.28" width="0.8" height="27.62" fill="#94c6fc"/><rect x="1289" y="605.51" width="2.4" height="22.1" fill="#94c6fc"/><rect x="1293" y="592.62" width="0.8" height="23.94" fill="#94c6fc"/><rect x="1292.2" y="604.28" width="2.4" height="1.84" fill="#94c6fc"/><rect x="1296.2" y="592.01" width="0.8" height="15.34" fill="#94c6fc"/><rect x="1295.4" y="601.83" width="2.4" height="1.84" fill="#94c6fc"/><rect x="1299.4" y="577.89" width="0.8" height="26.39" fill="#94c6fc"/><rect x="1298.6" y="579.73" width="2.4" height="21.48" fill="#94c6fc"/><rect x="1302.6" y="577.28" width="0.8" height="30.69" fill="#0078ff"/><rect x="1301.8" y="579.12" width="2.4" height="28.23" fill="#0078ff"/><rect x="1305.8" y="595.08" width="0.8" height="17.19" fill="#0078ff"/><rect x="1305" y="604.9" width="2.4" height="4.3" fill="#0078ff"/><rect x="1309" y="607.35" width="0.8" height="28.23" fill="#0078ff"/><rect x="1308.2" y="607.97" width="2.4" height="27.62" fill="#0078ff"/><rect x="1312.2" y="630.06" width="0.8" height="14.73" fill="#0078ff"/><rect x="1311.4" y="634.36" width="2.4" height="1.23" fill="#0078ff"/><rect x="1315.4" y="631.9" width="0.8" height="11.66" fill="#0078ff"/><rect x="1314.6" y="634.97" width="2.4" height="1.23" fill="#0078ff"/><rect x="1318.6" y="619.01" width="0.8" height="19.03" fill="#94c6fc"/><rect x="1317.8" y="634.36" width="2.4" height="2.46" fill="#94c6fc"/><rect x="1321.8" y="633.75" width="0.8" height="9.21" fill="#0078ff"/><rect x="1321" y="634.36" width="2.4" height="4.3" fill="#0078ff"/><rect x="1325" y="624.54" width="0.8" height="26.39" fill="#94c6fc"/><rect x="1324.2" y="625.15" width="2.4" height="13.5" fill="#94c6fc"/><rect x="1328.2" y="604.28" width="0.8" height="22.1" fill="#94c6fc"/><rect x="1327.4" y="610.42" width="2.4" height="15.34" fill="#94c6fc"/><rect x="1331.4" y="607.97" width="0.8" height="21.48" fill="#0078ff"/><rect x="1330.6" y="609.81" width="2.4" height="19.64" fill="#0078ff"/><rect x="1334.6" y="627.61" width="0.8" height="19.64" fill="#0078ff"/><rect x="1333.8" y="628.84" width="2.4" height="10.43" fill="#0078ff"/><rect x="1337.8" y="639.27" width="0.8" height="17.8" fill="#0078ff"/><rect x="1337" y="639.88" width="2.4" height="12.89" fill="#0078ff"/><rect x="1341" y="642.34" width="0.8" height="17.8" fill="#94c6fc"/><rect x="1340.2" y="650.93" width="2.4" height="1.23" fill="#94c6fc"/><rect x="1344.2" y="635.59" width="0.8" height="22.71" fill="#0078ff"/><rect x="1343.4" y="649.7" width="2.4" height="3.68" fill="#0078ff"/><rect x="1347.4" y="641.72" width="0.8" height="31.3" fill="#94c6fc"/><rect x="1346.6" y="646.02" width="2.4" height="7.37" fill="#94c6fc"/><rect x="1350.6" y="608.58" width="0.8" height="41.12" fill="#94c6fc"/><rect x="1349.8" y="609.81" width="2.4" height="36.83" fill="#94c6fc"/><rect x="1353.8" y="599.99" width="0.8" height="22.71" fill="#94c6fc"/><rect x="1353" y="606.12" width="2.4" height="5.52" fill="#94c6fc"/><rect x="1357" y="587.1" width="0.8" height="32.53" fill="#0078ff"/><rect x="1356.2" y="605.51" width="2.4" height="13.5" fill="#0078ff"/><rect x="1360.2" y="603.06" width="0.8" height="20.87" fill="#94c6fc"/><rect x="1359.4" y="607.35" width="2.4" height="9.21" fill="#94c6fc"/><rect x="1363.4" y="572.98" width="0.8" height="36.21" fill="#94c6fc"/><rect x="1362.6" y="576.66" width="2.4" height="31.92" fill="#94c6fc"/><rect x="1366.6" y="547.34" width="0.8" height="30.8" fill="#94c6fc"/><rect x="1365.8" y="558.08" width="2.4" height="19.34" fill="#94c6fc"/><rect x="1369.8" y="535.87" width="0.8" height="30.09" fill="#94c6fc"/><rect x="1369" y="537.31" width="2.4" height="22.21" fill="#94c6fc"/><rect x="1373" y="532.29" width="0.8" height="29.37" fill="#0078ff"/><rect x="1372.2" y="538.02" width="2.4" height="21.49" fill="#0078ff"/><rect x="1376.2" y="545.19" width="0.8" height="23.64" fill="#0078ff"/><rect x="1375.4" y="558.08" width="2.4" height="10.74" fill="#0078ff"/><rect x="1379.4" y="562.38" width="0.8" height="26.5" fill="#0078ff"/><rect x="1378.6" y="566.68" width="2.4" height="20.06" fill="#0078ff"/><rect x="1382.6" y="559.51" width="0.8" height="27.94" fill="#94c6fc"/><rect x="1381.8" y="574.56" width="2.4" height="12.18" fill="#94c6fc"/><rect x="1385.8" y="558.8" width="0.8" height="21.49" fill="#94c6fc"/><rect x="1385" y="568.11" width="2.4" height="3.58" fill="#94c6fc"/><rect x="1389" y="555.93" width="0.8" height="17.19" fill="#94c6fc"/><rect x="1388.2" y="564.53" width="2.4" height="2.15" fill="#94c6fc"/><rect x="1392.2" y="557.36" width="0.8" height="30.09" fill="#0078ff"/><rect x="1391.4" y="564.53" width="2.4" height="22.21" fill="#0078ff"/><rect x="1395.4" y="562.38" width="0.8" height="30.09" fill="#94c6fc"/><rect x="1394.6" y="565.96" width="2.4" height="21.49" fill="#94c6fc"/><rect x="1398.6" y="548.77" width="0.8" height="25.79" fill="#94c6fc"/><rect x="1397.8" y="560.23" width="2.4" height="6.45" fill="#94c6fc"/><rect x="1401.8" y="550.2" width="0.8" height="21.49" fill="#0078ff"/><rect x="1401" y="555.21" width="2.4" height="12.18" fill="#0078ff"/><rect x="1405" y="538.02" width="0.8" height="32.23" fill="#94c6fc"/><rect x="1404.2" y="540.89" width="2.4" height="25.79" fill="#94c6fc"/><rect x="1408.2" y="526.56" width="0.8" height="15.04" fill="#94c6fc"/><rect x="1407.4" y="527.99" width="2.4" height="12.18" fill="#94c6fc"/><rect x="1411.4" y="512.23" width="0.8" height="17.91" fill="#94c6fc"/><rect x="1410.6" y="513.67" width="2.4" height="15.04" fill="#94c6fc"/><rect x="1414.6" y="514.38" width="0.8" height="12.18" fill="#0078ff"/><rect x="1413.8" y="515.1" width="2.4" height="6.45" fill="#0078ff"/><rect x="1417.8" y="510.09" width="0.8" height="12.89" fill="#94c6fc"/><rect x="1417" y="510.8" width="2.4" height="8.6" fill="#94c6fc"/><rect x="1421" y="491.46" width="0.8" height="22.92" fill="#94c6fc"/><rect x="1420.2" y="494.33" width="2.4" height="17.91" fill="#94c6fc"/><rect x="1424.2" y="487.16" width="0.8" height="13.61" fill="#0078ff"/><rect x="1423.4" y="494.33" width="2.4" height="4.3" fill="#0078ff"/><rect x="1427.4" y="490.74" width="0.8" height="24.36" fill="#0078ff"/><rect x="1426.6" y="498.62" width="2.4" height="15.76" fill="#0078ff"/><rect x="1430.6" y="503.64" width="0.8" height="10.74" fill="#94c6fc"/><rect x="1429.8" y="507.22" width="2.4" height="5.73" fill="#94c6fc"/><rect x="1433.8" y="502.21" width="0.8" height="27.22" fill="#0078ff"/><rect x="1433" y="505.79" width="2.4" height="22.92" fill="#0078ff"/><rect x="1437" y="518.68" width="0.8" height="25.79" fill="#0078ff"/><rect x="1436.2" y="527.99" width="2.4" height="15.76" fill="#0078ff"/><rect x="1440.2" y="532.29" width="0.8" height="18.62" fill="#94c6fc"/><rect x="1439.4" y="537.31" width="2.4" height="5.01" fill="#94c6fc"/><rect x="1443.4" y="534.44" width="0.8" height="23.64" fill="#0078ff"/><rect x="1442.6" y="538.02" width="2.4" height="17.19" fill="#0078ff"/><rect x="1446.6" y="537.31" width="0.8" height="19.34" fill="#94c6fc"/><rect x="1445.8" y="548.77" width="2.4" height="5.73" fill="#94c6fc"/><rect x="1449.8" y="543.04" width="0.8" height="12.18" fill="#0078ff"/><rect x="1449" y="546.62" width="2.4" height="7.16" fill="#0078ff"/><rect x="1453" y="540.17" width="0.8" height="26.5" fill="#0078ff"/><rect x="1452.2" y="553.07" width="2.4" height="12.89" fill="#0078ff"/><rect x="1456.2" y="564.53" width="0.8" height="14.33" fill="#0078ff"/><rect x="1455.4" y="565.96" width="2.4" height="9.31" fill="#0078ff"/><rect x="1459.4" y="569.99" width="0.8" height="13.32" fill="#94c6fc"/><rect x="1458.6" y="572.65" width="2.4" height="2.66" fill="#94c6fc"/><rect x="1462.6" y="566.66" width="0.8" height="15.98" fill="#0078ff"/><rect x="1461.8" y="571.98" width="2.4" height="9.99" fill="#0078ff"/><rect x="1465.8" y="569.32" width="0.8" height="36.62" fill="#0078ff"/><rect x="1465" y="577.98" width="2.4" height="25.3" fill="#0078ff"/><rect x="1469" y="591.96" width="0.8" height="22.64" fill="#94c6fc"/><rect x="1468.2" y="597.95" width="2.4" height="5.33" fill="#94c6fc"/><rect x="1472.2" y="584.63" width="0.8" height="18.64" fill="#0078ff"/><rect x="1471.4" y="597.28" width="2.4" height="4.66" fill="#0078ff"/><rect x="1475.4" y="585.97" width="0.8" height="21.3" fill="#94c6fc"/><rect x="1474.6" y="593.29" width="2.4" height="7.99" fill="#94c6fc"/><rect x="1478.6" y="591.96" width="0.8" height="24.63" fill="#0078ff"/><rect x="1477.8" y="592.62" width="2.4" height="23.3" fill="#0078ff"/><rect x="1481.8" y="607.27" width="0.8" height="15.31" fill="#0078ff"/><rect x="1481" y="613.93" width="2.4" height="2" fill="#0078ff"/><rect x="1485" y="603.28" width="0.8" height="13.32" fill="#94c6fc"/><rect x="1484.2" y="613.26" width="2.4" height="2" fill="#94c6fc"/><rect x="1488.2" y="599.95" width="0.8" height="29.29" fill="#0078ff"/><rect x="1487.4" y="611.93" width="2.4" height="15.31" fill="#0078ff"/><rect x="1491.4" y="617.26" width="0.8" height="18.64" fill="#94c6fc"/><rect x="1490.6" y="623.91" width="2.4" height="2.66" fill="#94c6fc"/><rect x="1494.6" y="590.63" width="0.8" height="37.28" fill="#94c6fc"/><rect x="1493.8" y="591.96" width="2.4" height="33.95" fill="#94c6fc"/><rect x="1497.8" y="587.3" width="0.8" height="25.97" fill="#0078ff"/><rect x="1497" y="591.96" width="2.4" height="17.31" fill="#0078ff"/><rect x="1501" y="586.63" width="0.8" height="22.64" fill="#94c6fc"/><rect x="1500.2" y="592.62" width="2.4" height="15.98" fill="#94c6fc"/><rect x="1504.2" y="585.3" width="0.8" height="13.32" fill="#0078ff"/><rect x="1503.4" y="590.63" width="2.4" height="2.66" fill="#0078ff"/><rect x="1507.4" y="587.3" width="0.8" height="25.97" fill="#0078ff"/><rect x="1506.6" y="593.29" width="2.4" height="19.97" fill="#0078ff"/><rect x="1510.6" y="608.6" width="0.8" height="37.95" fill="#0078ff"/><rect x="1509.8" y="611.26" width="2.4" height="34.62" fill="#0078ff"/><rect x="1513.8" y="639.23" width="0.8" height="15.31" fill="#94c6fc"/><rect x="1513" y="640.56" width="2.4" height="5.33" fill="#94c6fc"/><rect x="1517" y="638.56" width="0.8" height="18.64" fill="#0078ff"/><rect x="1516.2" y="642.56" width="2.4" height="5.33" fill="#0078ff"/><rect x="1520.2" y="615.93" width="0.8" height="33.29" fill="#94c6fc"/><rect x="1519.4" y="616.59" width="2.4" height="31.96" fill="#94c6fc"/><rect x="1523.4" y="613.26" width="0.8" height="14.65" fill="#0078ff"/><rect x="1522.6" y="617.92" width="2.4" height="2.66" fill="#0078ff"/><rect x="1526.6" y="615.93" width="0.8" height="26.63" fill="#0078ff"/><rect x="1525.8" y="619.92" width="2.4" height="22.64" fill="#0078ff"/><rect x="1529.8" y="635.23" width="0.8" height="11.32" fill="#0078ff"/><rect x="1529" y="639.89" width="2.4" height="5.99" fill="#0078ff"/><rect x="1533" y="645.22" width="0.8" height="25.97" fill="#0078ff"/><rect x="1532.2" y="645.22" width="2.4" height="21.3" fill="#0078ff"/><rect x="1536.2" y="641.89" width="0.8" height="29.29" fill="#94c6fc"/><rect x="1535.4" y="647.22" width="2.4" height="19.31" fill="#94c6fc"/><rect x="1539.4" y="644.55" width="0.8" height="23.3" fill="#0078ff"/><rect x="1538.6" y="645.89" width="2.4" height="21.97" fill="#0078ff"/><rect x="1542.6" y="647.88" width="0.8" height="25.97" fill="#94c6fc"/><rect x="1541.8" y="648.55" width="2.4" height="19.31" fill="#94c6fc"/><rect x="1545.8" y="650.55" width="0.8" height="15.98" fill="#0078ff"/><rect x="1545" y="653.21" width="2.4" height="10.65" fill="#0078ff"/><rect x="1549" y="662.53" width="0.8" height="16.64" fill="#0078ff"/><rect x="1548.2" y="663.2" width="2.4" height="8.66" fill="#0078ff"/><rect x="1552.2" y="650.55" width="0.8" height="24.63" fill="#94c6fc"/><rect x="1551.4" y="652.54" width="2.4" height="19.31" fill="#94c6fc"/><rect x="1555.4" y="646.15" width="0.8" height="15.56" fill="#0078ff"/><rect x="1554.6" y="646.97" width="2.4" height="13.93" fill="#0078ff"/><rect x="1558.6" y="633.04" width="0.8" height="24.57" fill="#94c6fc"/><rect x="1557.8" y="649.42" width="2.4" height="5.73" fill="#94c6fc"/><rect x="1561.8" y="654.34" width="0.8" height="12.29" fill="#0078ff"/><rect x="1561" y="655.16" width="2.4" height="9.01" fill="#0078ff"/><rect x="1565" y="658.43" width="0.8" height="15.56" fill="#94c6fc"/><rect x="1564.2" y="659.25" width="2.4" height="4.91" fill="#94c6fc"/><rect x="1568.2" y="644.51" width="0.8" height="18.84" fill="#0078ff"/><rect x="1567.4" y="648.6" width="2.4" height="12.29" fill="#0078ff"/><rect x="1571.4" y="628.13" width="0.8" height="33.58" fill="#94c6fc"/><rect x="1570.6" y="630.58" width="2.4" height="30.31" fill="#94c6fc"/><rect x="1574.6" y="624.85" width="0.8" height="25.39" fill="#0078ff"/><rect x="1573.8" y="629.76" width="2.4" height="18.84" fill="#0078ff"/><rect x="1577.8" y="641.23" width="0.8" height="19.66" fill="#0078ff"/><rect x="1577" y="649.42" width="2.4" height="8.19" fill="#0078ff"/><rect x="1581" y="649.42" width="0.8" height="9.83" fill="#94c6fc"/><rect x="1580.2" y="654.34" width="2.4" height="2.46" fill="#94c6fc"/><rect x="1584.2" y="650.24" width="0.8" height="14.74" fill="#3cb878"/><rect x="1583.4" y="655.99" width="2.4" height="0.8" fill="#3cb878"/><rect x="1587.4" y="641.23" width="0.8" height="15.56" fill="#0078ff"/><rect x="1586.6" y="649.42" width="2.4" height="6.55" fill="#0078ff"/><rect x="1590.6" y="625.67" width="0.8" height="33.58" fill="#94c6fc"/><rect x="1589.8" y="631.4" width="2.4" height="24.57" fill="#94c6fc"/><rect x="1593.8" y="625.67" width="0.8" height="12.29" fill="#0078ff"/><rect x="1593" y="630.58" width="2.4" height="5.73" fill="#0078ff"/><rect x="1597" y="622.39" width="0.8" height="18.84" fill="#94c6fc"/><rect x="1596.2" y="625.67" width="2.4" height="9.01" fill="#94c6fc"/><rect x="1600.2" y="586.35" width="0.8" height="51.61" fill="#94c6fc"/><rect x="1599.4" y="587.17" width="2.4" height="46.69" fill="#94c6fc"/><rect x="1603.4" y="560.14" width="0.8" height="32.77" fill="#94c6fc"/><rect x="1602.6" y="562.6" width="2.4" height="24.57" fill="#94c6fc"/><rect x="1606.6" y="537.2" width="0.8" height="30.31" fill="#94c6fc"/><rect x="1605.8" y="540.48" width="2.4" height="20.48" fill="#94c6fc"/><rect x="1609.8" y="538.02" width="0.8" height="26.21" fill="#0078ff"/><rect x="1609" y="540.48" width="2.4" height="21.3" fill="#0078ff"/><rect x="1613" y="549.49" width="0.8" height="27.03" fill="#0078ff"/><rect x="1612.2" y="563.41" width="2.4" height="9.01" fill="#0078ff"/><rect x="1616.2" y="563.41" width="0.8" height="18.84" fill="#94c6fc"/><rect x="1615.4" y="567.51" width="2.4" height="4.1" fill="#94c6fc"/><rect x="1619.4" y="564.23" width="0.8" height="9.83" fill="#3cb878"/><rect x="1618.6" y="566.7" width="2.4" height="0.8" fill="#3cb878"/><rect x="1622.6" y="564.23" width="0.8" height="17.2" fill="#0078ff"/><rect x="1621.8" y="565.87" width="2.4" height="8.19" fill="#0078ff"/><rect x="1625.8" y="556.04" width="0.8" height="16.38" fill="#94c6fc"/><rect x="1625" y="558.5" width="2.4" height="9.83" fill="#94c6fc"/><rect x="1629" y="547.03" width="0.8" height="13.93" fill="#94c6fc"/><rect x="1628.2" y="553.58" width="2.4" height="5.73" fill="#94c6fc"/><rect x="1632.2" y="540.48" width="0.8" height="17.2" fill="#94c6fc"/><rect x="1631.4" y="541.3" width="2.4" height="12.29" fill="#94c6fc"/><rect x="1635.4" y="528.27" width="0.8" height="16.88" fill="#94c6fc"/><rect x="1634.6" y="531.08" width="2.4" height="9.57" fill="#94c6fc"/><rect x="1638.6" y="519.83" width="0.8" height="29.26" fill="#0078ff"/><rect x="1637.8" y="530.52" width="2.4" height="15.76" fill="#0078ff"/><rect x="1641.8" y="538.96" width="0.8" height="11.82" fill="#94c6fc"/><rect x="1641" y="544.59" width="2.4" height="1.69" fill="#94c6fc"/><rect x="1645" y="523.76" width="0.8" height="34.33" fill="#94c6fc"/><rect x="1644.2" y="529.95" width="2.4" height="14.63" fill="#94c6fc"/><rect x="1648.2" y="515.32" width="0.8" height="21.95" fill="#94c6fc"/><rect x="1647.4" y="522.64" width="2.4" height="8.44" fill="#94c6fc"/><rect x="1651.4" y="518.14" width="0.8" height="28.14" fill="#0078ff"/><rect x="1650.6" y="522.08" width="2.4" height="17.45" fill="#0078ff"/><rect x="1654.6" y="530.52" width="0.8" height="23.07" fill="#0078ff"/><rect x="1653.8" y="538.96" width="2.4" height="14.07" fill="#0078ff"/><rect x="1657.8" y="537.27" width="0.8" height="16.88" fill="#94c6fc"/><rect x="1657" y="545.71" width="2.4" height="5.63" fill="#94c6fc"/><rect x="1661" y="517.01" width="0.8" height="33.76" fill="#94c6fc"/><rect x="1660.2" y="518.14" width="2.4" height="27.57" fill="#94c6fc"/><rect x="1664.2" y="516.45" width="0.8" height="23.64" fill="#0078ff"/><rect x="1663.4" y="518.7" width="2.4" height="21.38" fill="#0078ff"/><rect x="1667.4" y="522.64" width="0.8" height="21.38" fill="#94c6fc"/><rect x="1666.6" y="528.83" width="2.4" height="10.13" fill="#94c6fc"/><rect x="1670.6" y="519.83" width="0.8" height="11.82" fill="#94c6fc"/><rect x="1669.8" y="522.08" width="2.4" height="6.75" fill="#94c6fc"/><rect x="1673.8" y="505.76" width="0.8" height="20.82" fill="#94c6fc"/><rect x="1673" y="515.89" width="2.4" height="7.32" fill="#94c6fc"/><rect x="1677" y="499" width="0.8" height="18.57" fill="#94c6fc"/><rect x="1676.2" y="509.7" width="2.4" height="6.75" fill="#94c6fc"/><rect x="1680.2" y="497.88" width="0.8" height="24.2" fill="#0078ff"/><rect x="1679.4" y="509.7" width="2.4" height="9" fill="#0078ff"/><rect x="1683.4" y="510.82" width="0.8" height="21.95" fill="#94c6fc"/><rect x="1682.6" y="515.89" width="2.4" height="3.94" fill="#94c6fc"/><rect x="1686.6" y="506.32" width="0.8" height="13.51" fill="#94c6fc"/><rect x="1685.8" y="513.07" width="2.4" height="2.81" fill="#94c6fc"/><rect x="1689.8" y="510.26" width="0.8" height="21.38" fill="#0078ff"/><rect x="1689" y="512.51" width="2.4" height="14.63" fill="#0078ff"/><rect x="1693" y="515.32" width="0.8" height="27.01" fill="#0078ff"/><rect x="1692.2" y="525.45" width="2.4" height="6.75" fill="#0078ff"/><rect x="1696.2" y="519.26" width="0.8" height="26.45" fill="#0078ff"/><rect x="1695.4" y="531.64" width="2.4" height="12.38" fill="#0078ff"/><rect x="1699.4" y="542.9" width="0.8" height="21.38" fill="#0078ff"/><rect x="1698.6" y="543.46" width="2.4" height="19.7" fill="#0078ff"/><rect x="1702.6" y="546.84" width="0.8" height="21.95" fill="#94c6fc"/><rect x="1701.8" y="554.15" width="2.4" height="9" fill="#94c6fc"/><rect x="1705.8" y="549.09" width="0.8" height="12.94" fill="#0078ff"/><rect x="1705" y="550.78" width="2.4" height="6.75" fill="#0078ff"/><rect x="1709" y="549.65" width="0.8" height="13.51" fill="#0078ff"/><rect x="1708.2" y="553.59" width="2.4" height="1.69" fill="#0078ff"/><rect x="1712.2" y="542.9" width="0.8" height="24.2" fill="#94c6fc"/><rect x="1711.4" y="544.02" width="2.4" height="10.69" fill="#94c6fc"/><rect x="1715.4" y="538.96" width="0.8" height="14.07" fill="#0078ff"/><rect x="1714.6" y="542.9" width="2.4" height="2.25" fill="#0078ff"/><rect x="1718.6" y="515.32" width="0.8" height="29.83" fill="#94c6fc"/><rect x="1717.8" y="518.7" width="2.4" height="26.45" fill="#94c6fc"/><rect x="1721.8" y="509.13" width="0.8" height="13.51" fill="#94c6fc"/><rect x="1721" y="509.13" width="2.4" height="10.13" fill="#94c6fc"/><rect x="1725" y="500.69" width="0.8" height="11.25" fill="#94c6fc"/><rect x="1724.2" y="504.63" width="2.4" height="4.5" fill="#94c6fc"/><rect x="1728.2" y="498.44" width="0.8" height="19.7" fill="#0078ff"/><rect x="1727.4" y="504.63" width="2.4" height="9" fill="#0078ff"/><rect x="1731.4" y="506.48" width="0.8" height="10.21" fill="#94c6fc"/><rect x="1730.6" y="506.96" width="2.4" height="6.81" fill="#94c6fc"/><rect x="1734.6" y="506.96" width="0.8" height="27.72" fill="#0078ff"/><rect x="1733.8" y="507.45" width="2.4" height="24.81" fill="#0078ff"/><rect x="1737.8" y="525.45" width="0.8" height="9.24" fill="#94c6fc"/><rect x="1737" y="526.91" width="2.4" height="4.86" fill="#94c6fc"/><rect x="1741" y="499.18" width="0.8" height="29.67" fill="#94c6fc"/><rect x="1740.2" y="500.64" width="2.4" height="25.78" fill="#94c6fc"/><rect x="1744.2" y="494.32" width="0.8" height="17.02" fill="#94c6fc"/><rect x="1743.4" y="499.67" width="2.4" height="3.4" fill="#94c6fc"/><rect x="1747.4" y="479.24" width="0.8" height="22.86" fill="#94c6fc"/><rect x="1746.6" y="479.73" width="2.4" height="20.43" fill="#94c6fc"/><rect x="1750.6" y="473.4" width="0.8" height="12.16" fill="#0078ff"/><rect x="1749.8" y="479.73" width="2.4" height="5.35" fill="#0078ff"/><rect x="1753.8" y="482.16" width="0.8" height="27.72" fill="#0078ff"/><rect x="1753" y="484.59" width="2.4" height="24.81" fill="#0078ff"/><rect x="1757" y="503.07" width="0.8" height="15.08" fill="#0078ff"/><rect x="1756.2" y="508.91" width="2.4" height="3.89" fill="#0078ff"/><rect x="1760.2" y="501.13" width="0.8" height="17.51" fill="#0078ff"/><rect x="1759.4" y="511.83" width="2.4" height="6.32" fill="#0078ff"/><rect x="1763.4" y="503.07" width="0.8" height="15.08" fill="#94c6fc"/><rect x="1762.6" y="504.53" width="2.4" height="12.65" fill="#94c6fc"/><rect x="1766.6" y="499.18" width="0.8" height="27.72" fill="#0078ff"/><rect x="1765.8" y="506.48" width="2.4" height="18.48" fill="#0078ff"/><rect x="1769.8" y="518.64" width="0.8" height="9.73" fill="#3cb878"/><rect x="1769" y="522.37" width="2.4" height="0.8" fill="#3cb878"/><rect x="1773" y="520.1" width="0.8" height="18" fill="#0078ff"/><rect x="1772.2" y="521.56" width="2.4" height="3.89" fill="#0078ff"/><rect x="1776.2" y="520.58" width="0.8" height="18.48" fill="#0078ff"/><rect x="1775.4" y="525.93" width="2.4" height="4.38" fill="#0078ff"/><rect x="1779.4" y="530.8" width="0.8" height="17.02" fill="#0078ff"/><rect x="1778.6" y="531.28" width="2.4" height="16.54" fill="#0078ff"/><rect x="1782.6" y="545.39" width="0.8" height="15.56" fill="#0078ff"/><rect x="1781.8" y="545.88" width="2.4" height="5.84" fill="#0078ff"/><rect x="1785.8" y="542.47" width="0.8" height="11.19" fill="#94c6fc"/><rect x="1785" y="547.33" width="2.4" height="2.43" fill="#94c6fc"/><rect x="1789" y="529.82" width="0.8" height="23.83" fill="#94c6fc"/><rect x="1788.2" y="530.31" width="2.4" height="18" fill="#94c6fc"/><rect x="1792.2" y="515.23" width="0.8" height="19.46" fill="#94c6fc"/><rect x="1791.4" y="522.04" width="2.4" height="10.21" fill="#94c6fc"/><rect x="1795.4" y="520.1" width="0.8" height="18.97" fill="#0078ff"/><rect x="1794.6" y="521.56" width="2.4" height="8.27" fill="#0078ff"/><rect x="1798.6" y="524.96" width="0.8" height="17.02" fill="#94c6fc"/><rect x="1797.8" y="525.45" width="2.4" height="2.92" fill="#94c6fc"/><rect x="1801.8" y="513.77" width="0.8" height="15.56" fill="#0078ff"/><rect x="1801" y="526.42" width="2.4" height="1.95" fill="#0078ff"/><rect x="1805" y="523.99" width="0.8" height="18.48" fill="#94c6fc"/><rect x="1804.2" y="526.42" width="2.4" height="1.95" fill="#94c6fc"/><rect x="1808.2" y="522.53" width="0.8" height="14.59" fill="#0078ff"/><rect x="1807.4" y="525.45" width="2.4" height="8.75" fill="#0078ff"/><rect x="1811.4" y="509.88" width="0.8" height="25.78" fill="#94c6fc"/><rect x="1810.6" y="515.23" width="2.4" height="18.97" fill="#94c6fc"/><rect x="1814.6" y="495.6" width="0.8" height="25.2" fill="#94c6fc"/><rect x="1813.8" y="495.9" width="2.4" height="19" fill="#94c6fc"/><rect x="1817.8" y="487.3" width="0.8" height="11.7" fill="#94c6fc"/><rect x="1817" y="496.2" width="2.4" height="1.5" fill="#94c6fc"/><rect x="1821" y="492.8" width="0.8" height="13.8" fill="#0078ff"/><rect x="1820.2" y="497.1" width="2.4" height="1.2" fill="#0078ff"/><rect x="1824.2" y="482.4" width="0.8" height="27.3" fill="#94c6fc"/><rect x="1823.4" y="483.9" width="2.4" height="14.1" fill="#94c6fc"/><rect x="1827.4" y="481.8" width="0.8" height="27.9" fill="#0078ff"/><rect x="1826.6" y="487" width="2.4" height="16.9" fill="#0078ff"/><rect x="1830.6" y="487" width="0.8" height="19.3" fill="#94c6fc"/><rect x="1829.8" y="494" width="2.4" height="10.2" fill="#94c6fc"/><rect x="1833.8" y="483.9" width="0.8" height="14.7" fill="#94c6fc"/><rect x="1833" y="484.5" width="2.4" height="9.5" fill="#94c6fc"/><rect x="1837" y="467.2" width="0.8" height="23.8" fill="#94c6fc"/><rect x="1836.2" y="473" width="2.4" height="15.8" fill="#94c6fc"/><rect x="1840.2" y="436.9" width="0.8" height="38.8" fill="#94c6fc"/><rect x="1839.4" y="440" width="2.4" height="32.2" fill="#94c6fc"/><rect x="1843.4" y="434.2" width="0.8" height="19.6" fill="#0078ff"/><rect x="1842.6" y="440" width="2.4" height="6.5" fill="#0078ff"/><rect x="1846.6" y="439.2" width="0.8" height="20.7" fill="#0078ff"/><rect x="1845.8" y="446.5" width="2.4" height="9.6" fill="#0078ff"/><rect x="1849.8" y="453" width="0.8" height="10.8" fill="#0078ff"/><rect x="1849" y="454.9" width="2.4" height="7.1" fill="#0078ff"/><polyline points="0.6,327.7 3.8,327.62 7,327.47 10.2,327.09 13.4,326.81 16.6,326.8 19.8,326.57 23,326.27 26.2,325.76 29.4,325.25 32.6,324.72 35.8,324.09 39,323.44 42.2,322.79 45.4,321.9 48.6,321.11 51.8,320.47 55,320.12 58.2,319.74 61.4,319.34 64.6,318.96 67.8,318.6 71,318.32 74.2,317.83 77.4,317.25 80.6,316.63 83.8,315.98 87,315.25 90.2,314.63 93.4,313.94 96.6,313.31 99.8,312.98 103,312.45 106.2,311.91 109.4,311.29 112.6,310.55 115.8,309.65 119,308.66 122.2,307.72 125.4,307.05 128.6,306.39 131.8,305.73 135,305.12 138.2,304.49 141.4,303.75 144.6,303.09 147.8,302.58 151,301.85 154.2,301.33 157.4,300.63 160.6,300.07 163.8,299.44 167,298.75 170.2,298.21 173.4,297.34 176.6,296.38 179.8,295.49 183,294.45 186.2,293.56 189.4,292.74 192.6,291.96 195.8,291.25 199,290.47 202.2,289.61 205.4,288.76 208.6,288.14 211.8,287.7 215,287.18 218.2,286.78 221.4,286.52 224.6,286.48 227.8,286.6 231,286.72 234.2,286.69 237.4,286.71 240.6,286.6 243.8,286.42 247,286.29 250.2,286.21 253.4,286.23 256.6,286.31 259.8,286.45 263,286.42 266.2,286.19 269.4,285.95 272.6,285.63 275.8,285.19 279,284.85 282.2,284.44 285.4,284.03 288.6,283.72 291.8,283.47 295,283.35 298.2,283.2 301.4,283.01 304.6,282.8 307.8,282.44 311,282.08 314.2,281.75 317.4,281.33 320.6,280.96 323.8,280.64 327,280.52 330.2,280.45 333.4,280.48 336.6,280.59 339.8,280.56 343,280.55 346.2,280.63 349.4,280.85 352.6,281.02 355.8,281.21 359,281.47 362.2,281.65 365.4,281.74 368.6,281.83 371.8,281.76 375,281.74 378.2,281.68 381.4,281.69 384.6,281.97 387.8,282.37 391,282.9 394.2,283.25 397.4,283.56 400.6,284.02 403.8,284.28 407,284.38 410.2,284.43 413.4,284.52 416.6,284.57 419.8,284.63 423,284.79 426.2,284.9 429.4,284.83 432.6,284.81 435.8,284.75 439,284.75 442.2,284.68 445.4,284.49 448.6,284.29 451.8,284.08 455,283.81 458.2,283.65 461.4,283.74 464.6,283.6 467.8,283.39 471,283.03 474.2,282.58 477.4,282.02 480.6,281.38 483.8,280.83 487,280.13 490.2,279.4 493.4,278.65 496.6,277.9 499.8,277.01 503,276.06 506.2,274.98 509.4,274.18 512.6,273.42 515.8,272.82 519,272.13 522.2,271.78 525.4,271.62 528.6,271.73 531.8,272.03 535,272.22 538.2,272.84 541.4,273.67 544.6,275 547.8,275.57 551,276.14 554.2,276.22 557.4,275.88 560.6,275.7 563.8,274.78 567,273.23 570.2,270.85 573.4,268.58 576.6,266.31 579.8,264.4 583,262.94 586.2,262.22 589.4,262.04 592.6,261.52 595.8,261.08 599,260.37 602.2,259.34 605.4,258.06 608.6,256.73 611.8,255.82 615,254.81 618.2,254.11 621.4,253.47 624.6,252.81 627.8,252.47 631,251.79 634.2,250.84 637.4,250.1 640.6,249.24 643.8,248.27 647,247.23 650.2,246.13 653.4,245.19 656.6,244.34 659.8,243.54 663,242.99 666.2,242.67 669.4,242.32 672.6,241.76 675.8,241.04 679,240.17 682.2,239.48 685.4,238.8 688.6,237.94 691.8,237.19 695,236.33 698.2,235.45 701.4,234.53 704.6,234.02 707.8,233.52 711,233.22 714.2,232.79 717.4,232.2 720.6,231.62 723.8,231.44 727,231.26 730.2,231.33 733.4,231.51 736.6,231.89 739.8,232.34 743,232.97 746.2,233.85 749.4,234.65 752.6,235.55 755.8,236.59 759,237.77 762.2,238.6 765.4,239.25 768.6,240.12 771.8,240.82 775,241.47 778.2,241.92 781.4,242.27 784.6,242.94 787.8,243.77 791,244.31 794.2,244.81 797.4,245.22 800.6,245.63 803.8,246.11 807,246.67 810.2,247.2 813.4,247.77 816.6,248.51 819.8,249.13 823,250 826.2,250.69 829.4,251.46 832.6,252.27 835.8,253.23 839,254.26 842.2,255.17 845.4,256.23 848.6,257.35 851.8,258.77 855,260.28 858.2,261.85 861.4,263.64 864.6,265.74 867.8,267.77 871,270.03 874.2,272.43 877.4,274.54 880.6,276.62 883.8,278.79 887,281.15 890.2,283.51 893.4,285.54 896.6,287.45 899.8,289.32 903,291.38 906.2,293.42 909.4,295.52 912.6,297.72 915.8,300.15 919,302.19 922.2,304.37 925.4,306.29 928.6,308.14 931.8,310.13 935,312.16 938.2,314.1 941.4,316.38 944.6,318.7 947.8,320.91 951,322.95 954.2,324.9 957.4,326.81 960.6,328.58 963.8,330.12 967,331.78 970.2,333.33 973.4,334.96 976.6,336.62 979.8,338.27 983,339.92 986.2,341.63 989.4,343.27 992.6,344.55 995.8,345.69 999,346.62 1002.2,347.56 1005.4,348.38 1008.6,349.31 1011.8,350.47 1015,351.67 1018.2,352.85 1021.4,353.98 1024.6,355.28 1027.8,356.39 1031,357.58 1034.2,358.82 1037.4,360.29 1040.6,361.75 1043.8,362.93 1047,364.15 1050.2,365.19 1053.4,366.28 1056.6,367.43 1059.8,368.79 1063,370.35 1066.2,371.74 1069.4,373.23 1072.6,374.54 1075.8,375.85 1079,376.85 1082.2,377.69 1085.4,378.48 1088.6,379.24 1091.8,380.33 1095,381.36 1098.2,382.83 1101.4,384.43 1104.6,385.74 1107.8,387.1 1111,388.29 1114.2,389.51 1117.4,390.82 1120.6,392.21 1123.8,393.63 1127,395.07 1130.2,396.55 1133.4,397.94 1136.6,399.26 1139.8,400.76 1143,402.32 1146.2,403.84 1149.4,405.49 1152.6,406.98 1155.8,408.88 1159,410.85 1162.2,412.96 1165.4,414.98 1168.6,416.94 1171.8,418.85 1175,420.7 1178.2,422.61 1181.4,424.45 1184.6,426.4 1187.8,428.46 1191,430.62 1194.2,432.98 1197.4,435.23 1200.6,437.39 1203.8,439.26 1207,441.25 1210.2,443.21 1213.4,445.18 1216.6,447.26 1219.8,449.53 1223,451.59 1226.2,453.69 1229.4,455.96 1232.6,458.23 1235.8,460.29 1239,462.2 1242.2,463.86 1245.4,465.75 1248.6,467.48 1251.8,469.33 1255,470.8 1258.2,472.26 1261.4,473.85 1264.6,475.44 1267.8,477.21 1271,478.89 1274.2,480.48 1277.4,482.13 1280.6,483.57 1283.8,485.02 1287,486.43 1290.2,487.61 1293.4,488.77 1296.6,489.9 1299.8,490.79 1303,491.95 1306.2,493.12 1309.4,494.53 1312.6,495.94 1315.8,497.33 1319,498.7 1322.2,500.09 1325.4,501.33 1328.6,502.42 1331.8,503.68 1335,505.03 1338.2,506.5 1341.4,507.94 1344.6,509.39 1347.8,510.75 1351,511.73 1354.2,512.67 1357.4,513.73 1360.6,514.66 1363.8,515.28 1367,515.7 1370.2,515.92 1373.4,516.35 1376.6,516.87 1379.8,517.57 1383,518.14 1386.2,518.63 1389.4,519.09 1392.6,519.76 1395.8,520.22 1399,520.62 1402.2,521.09 1405.4,521.28 1408.6,521.35 1411.8,521.27 1415,521.28 1418.2,521.17 1421.4,520.91 1424.6,520.68 1427.8,520.62 1431,520.49 1434.2,520.57 1437.4,520.8 1440.6,520.96 1443.8,521.31 1447,521.58 1450.2,521.9 1453.4,522.34 1456.6,522.86 1459.8,523.36 1463,523.94 1466.2,524.73 1469.4,525.46 1472.6,526.22 1475.8,526.89 1479,527.78 1482.2,528.65 1485.4,529.49 1488.6,530.47 1491.8,531.4 1495,532 1498.2,532.77 1501.4,533.36 1504.6,533.96 1507.8,534.75 1511,535.85 1514.2,536.9 1517.4,538 1520.6,538.78 1523.8,539.6 1527,540.62 1530.2,541.67 1533.4,542.91 1536.6,543.95 1539.8,545.18 1543,546.21 1546.2,547.38 1549.4,548.62 1552.6,549.65 1555.8,550.76 1559,551.74 1562.2,552.86 1565.4,553.92 1568.6,554.98 1571.8,555.74 1575,556.66 1578.2,557.66 1581.4,558.63 1584.6,559.6 1587.8,560.56 1591,561.26 1594.2,562.01 1597.4,562.64 1600.6,562.89 1603.8,562.88 1607,562.66 1610.2,562.65 1613.4,562.75 1616.6,562.8 1619.8,562.84 1623,562.95 1626.2,562.91 1629.4,562.81 1632.6,562.6 1635.8,562.29 1639,562.13 1642.2,561.95 1645.4,561.63 1648.6,561.25 1651.8,561.03 1655,560.95 1658.2,560.8 1661.4,560.37 1664.6,560.17 1667.8,559.86 1671,559.49 1674.2,559.05 1677.4,558.56 1680.6,558.16 1683.8,557.74 1687,557.3 1690.2,557 1693.4,556.75 1696.6,556.63 1699.8,556.69 1703,556.66 1706.2,556.67 1709.4,556.66 1712.6,556.53 1715.8,556.42 1719,556.05 1722.2,555.58 1725.4,555.07 1728.6,554.66 1731.8,554.18 1735,553.97 1738.2,553.7 1741.4,553.17 1744.6,552.64 1747.8,551.91 1751,551.25 1754.2,550.83 1757.4,550.45 1760.6,550.13 1763.8,549.68 1767,549.43 1770.2,549.17 1773.4,548.93 1776.6,548.74 1779.8,548.73 1783,548.76 1786.2,548.75 1789.4,548.57 1792.6,548.3 1795.8,548.12 1799,547.89 1802.2,547.7 1805.4,547.49 1808.6,547.36 1811.8,547.04 1815,546.53 1818.2,546.03 1821.4,545.55 1824.6,544.94 1827.8,544.53 1831,544.03 1834.2,543.43 1837.4,542.73 1840.6,541.71 1843.8,540.76 1847,539.92 1850.2,539.15" fill="none" stroke="#ff0000" stroke-width="1.6" stroke-linejoin="round"/><polyline points="0.6,312.8 3.8,313.51 7,313.37 10.2,310.93 13.4,309.66 16.6,311.33 19.8,310.51 23,309 26.2,305.42 29.4,302.2 32.6,298.98 35.8,295.04 39,291.24 42.2,287.77 45.4,282 48.6,277.89 51.8,275.68 55,276.65 58.2,277.17 61.4,277.42 64.6,277.86 67.8,278.39 71,279.63 74.2,278.51 77.4,276.52 80.6,274.31 83.8,271.85 87,268.81 90.2,267.07 93.4,264.81 96.6,263.35 99.8,265.12 103,264.46 106.2,263.88 109.4,262.3 112.6,259.7 115.8,255.55 119,250.71 122.2,246.88 125.4,246.18 128.6,245.63 131.8,245.06 135,244.97 138.2,244.69 141.4,243.1 144.6,242.52 147.8,243.54 151,242 154.2,242.8 157.4,241.55 160.6,241.83 163.8,241.31 167,240.08 170.2,240.59 173.4,237.4 176.6,233.56 179.8,230.76 183,226.58 186.2,224.37 189.4,222.92 192.6,222.05 195.8,221.9 199,220.92 202.2,219.21 205.4,217.6 208.6,218.48 211.8,221.16 215,222.71 218.2,225.29 221.4,228.94 224.6,234.58 227.8,241.31 231,247.4 234.2,251.24 237.4,255.09 240.6,257.28 243.8,258.47 247,260.09 250.2,261.96 253.4,264.69 256.6,267.83 259.8,271.27 263,272.59 266.2,271.53 269.4,270.59 272.6,268.76 275.8,265.94 279,264.39 282.2,262.18 285.4,260.21 288.6,259.41 291.8,259.35 295,260.58 298.2,261.36 301.4,261.67 304.6,261.69 307.8,260.16 311,258.65 314.2,257.59 317.4,255.78 320.6,254.54 323.8,253.96 327,255.43 330.2,257.4 333.4,260.13 336.6,263.42 339.8,264.87 343,266.43 346.2,268.79 349.4,272.39 352.6,275.03 355.8,277.66 359,280.78 362.2,282.79 365.4,283.56 368.6,284.42 371.8,283.4 375,282.96 378.2,282.24 381.4,282.25 384.6,285.16 387.8,289.06 391,293.91 394.2,296.5 397.4,298.37 400.6,301.66 403.8,302.53 407,301.69 410.2,300.43 413.4,299.68 416.6,298.63 419.8,297.75 423,298.13 426.2,297.82 429.4,295.8 432.6,294.38 435.8,292.72 439,291.88 442.2,290.42 445.4,287.82 448.6,285.36 451.8,282.97 455,280.25 458.2,278.98 461.4,280.36 464.6,279.27 467.8,277.49 471,274.27 474.2,270.43 477.4,265.79 480.6,260.78 483.8,257.07 487,252.19 490.2,247.4 493.4,242.83 496.6,238.68 499.8,233.41 503,227.93 506.2,221.55 509.4,218.78 512.6,216.56 515.8,216.21 519,214.86 522.2,217.19 525.4,221.18 528.6,227.67 531.8,235.55 535,241.39 538.2,251.14 541.4,262.2 544.6,277.53 547.8,283.3 551,288.47 554.2,287.98 557.4,283.18 560.6,280.53 563.8,270.24 567,254.32 570.2,231.19 573.4,211.36 576.6,193.36 579.8,180.78 583,174.18 586.2,175.86 589.4,183.05 592.6,185.9 595.8,189.15 599,189.26 602.2,185.86 605.4,180.01 608.6,174.14 611.8,173.23 615,171.23 618.2,172.66 621.4,174.43 624.6,175.81 627.8,180.33 631,180.67 634.2,178.16 637.4,177.96 640.6,176.51 643.8,173.81 647,170.71 650.2,167.12 653.4,165.46 656.6,164.88 659.8,164.78 663,167.28 666.2,171.84 669.4,175.63 672.6,176.64 675.8,175.94 679,173.62 682.2,173.3 685.4,173.09 688.6,170.87 691.8,170 695,167.96 698.2,165.85 701.4,163.48 704.6,165.49 707.8,167.43 711,171.2 714.2,173.24 717.4,173.24 720.6,173.31 723.8,177.51 727,181.34 730.2,187.36 733.4,193.83 736.6,201.88 739.8,209.81 743,218.76 746.2,229.61 749.4,238.5 752.6,247.67 755.8,257.33 759,267.67 762.2,273.29 765.4,276.53 768.6,281.78 771.8,284.78 775,287.05 778.2,286.99 781.4,285.96 784.6,288.52 787.8,292.42 791,293.09 794.2,293.2 797.4,292.4 800.6,291.86 803.8,292.02 807,293.13 810.2,293.8 813.4,294.96 816.6,297.79 819.8,299.18 823,303.09 826.2,304.82 829.4,307.26 832.6,309.97 835.8,314.04 839,318.6 842.2,321.4 845.4,325.63 848.6,330.25 851.8,337.55 855,345.21 858.2,352.93 861.4,362.25 864.6,374.07 867.8,384.19 871,395.8 874.2,408 877.4,415.98 880.6,423.12 883.8,430.63 887,439.69 890.2,447.96 893.4,452.1 896.6,454.75 899.8,456.9 903,461.09 906.2,464.84 909.4,468.94 912.6,473.97 915.8,481.11 919,483.73 922.2,487.63 925.4,488.7 928.6,489.07 931.8,491.07 935,493.45 938.2,494.91 941.4,499.97 944.6,505.17 947.8,508.99 951,510.73 954.2,511.62 957.4,512.17 960.6,511.32 963.8,508.39 967,507.19 970.2,505.2 973.4,504.25 976.6,504.07 979.8,503.91 983,503.85 986.2,504.71 989.4,504.9 992.6,501.4 995.8,497.01 999,490.9 1002.2,485.65 1005.4,479.75 1008.6,475.8 1011.8,474.77 1015,474.34 1018.2,473.96 1021.4,473.19 1024.6,474.39 1027.8,473.54 1031,473.79 1034.2,474.65 1037.4,478.08 1040.6,481.15 1043.8,481.01 1047,481.47 1050.2,480.18 1053.4,479.6 1056.6,479.84 1059.8,482.37 1063,486.95 1066.2,489.37 1069.4,492.72 1072.6,493.97 1075.8,495.3 1079,493.26 1082.2,489.97 1085.4,486.46 1088.6,483.18 1091.8,483.75 1095,483.7 1098.2,488.56 1101.4,494.31 1104.6,496.59 1107.8,499.31 1111,500.13 1114.2,501.2 1117.4,503.36 1120.6,506.16 1123.8,509.27 1127,512.31 1130.2,515.55 1133.4,517.76 1136.6,519.13 1139.8,522.43 1143,526.07 1146.2,529.15 1149.4,533.37 1152.6,535.69 1155.8,542.24 1159,549.06 1162.2,556.79 1165.4,563.02 1168.6,568.25 1171.8,572.5 1175,575.87 1178.2,579.74 1181.4,582.7 1184.6,586.65 1187.8,591.56 1191,597.31 1194.2,604.68 1197.4,610.41 1200.6,614.86 1203.8,615.92 1207,618.37 1210.2,620.49 1213.4,622.63 1216.6,625.98 1219.8,631.2 1223,633.89 1226.2,636.86 1229.4,641.55 1232.6,646.13 1235.8,648.11 1239,648.53 1242.2,646.49 1245.4,647.26 1248.6,646.46 1251.8,647.18 1255,643.97 1258.2,641.17 1261.4,640.27 1264.6,639.6 1267.8,641.03 1271,641.51 1274.2,641.2 1277.4,641.77 1280.6,640.21 1283.8,639.08 1287,637.71 1290.2,634.32 1293.4,631.16 1296.6,628.07 1299.8,622.98 1303,621.34 1306.2,620.06 1309.4,621.69 1312.6,623.16 1315.8,624.53 1319,625.56 1322.2,626.94 1325.4,626.75 1328.6,625.03 1331.8,625.5 1335,626.95 1338.2,629.67 1341.4,631.91 1344.6,634.17 1347.8,635.41 1351,632.72 1354.2,629.92 1357.4,628.77 1360.6,626.52 1363.8,621.27 1367,614.62 1370.2,606.48 1373.4,601.54 1376.6,598.09 1379.8,596.9 1383,594.55 1386.2,591.76 1389.4,588.9 1392.6,588.67 1395.8,586.28 1399,583.54 1402.2,581.84 1405.4,577.53 1408.6,572.31 1411.8,566.14 1415,561.45 1418.2,556.11 1421.4,549.61 1424.6,544.24 1427.8,541.1 1431,537.53 1434.2,536.61 1437.4,537.36 1440.6,537.35 1443.8,539.23 1447,540.24 1450.2,541.66 1453.4,544.22 1456.6,547.49 1459.8,550.14 1463,553.49 1466.2,558.73 1469.4,562.86 1472.6,566.97 1475.8,569.74 1479,574.6 1482.2,578.95 1485.4,582.56 1488.6,587.27 1491.8,591.13 1495,591.21 1498.2,593.11 1501.4,593.06 1504.6,593.09 1507.8,595.21 1511,600.54 1514.2,604.76 1517.4,609.3 1520.6,610.06 1523.8,611.17 1527,614.47 1530.2,617.78 1533.4,622.91 1536.6,625.47 1539.8,629.93 1543,631.89 1546.2,635.26 1549.4,639.11 1552.6,640.52 1555.8,642.67 1559,643.38 1562.2,645.57 1565.4,647.01 1568.6,648.47 1571.8,646.59 1575,646.8 1578.2,647.94 1581.4,648.61 1584.6,649.43 1587.8,650.12 1591,648.15 1594.2,646.9 1597.4,644.67 1600.6,638.62 1603.8,630.61 1607,621.13 1610.2,614.88 1613.4,610.41 1616.6,605.89 1619.8,601.81 1623,598.89 1626.2,594.64 1629.4,590.32 1632.6,585.16 1635.8,579.46 1639,575.97 1642.2,572.67 1645.4,568.17 1648.6,563.38 1651.8,560.87 1655,560.04 1658.2,558.53 1661.4,554.28 1664.6,552.79 1667.8,550.26 1671,547.3 1674.2,543.99 1677.4,540.38 1680.6,538.1 1683.8,535.76 1687,533.37 1690.2,532.72 1693.4,532.66 1696.6,533.86 1699.8,536.94 1703,538.75 1706.2,540.73 1709.4,542.26 1712.6,542.45 1715.8,542.73 1719,540.2 1722.2,536.93 1725.4,533.53 1728.6,531.44 1731.8,528.86 1735,529.22 1738.2,528.98 1741.4,525.99 1744.6,523.22 1747.8,518.64 1751,515.11 1754.2,514.51 1757.4,514.33 1760.6,514.73 1763.8,513.66 1767,514.85 1770.2,515.68 1773.4,516.71 1776.6,518.14 1779.8,521.27 1783,524.47 1786.2,526.88 1789.4,527.24 1792.6,526.69 1795.8,527.02 1799,526.86 1802.2,527.01 1805.4,526.95 1808.6,527.72 1811.8,526.4 1815,523.19 1818.2,520.35 1821.4,518.03 1824.6,514.44 1827.8,513.33 1831,511.29 1834.2,508.47 1837.4,504.74 1840.6,497.92 1843.8,492.51 1847,488.68 1850.2,485.87" fill="none" stroke="#ffffff" stroke-width="1.7" stroke-linejoin="round"/><polyline points="0.6,307.8 3.8,308.37 7,308.56 10.2,307.66 13.4,307.23 16.6,308.13 19.8,307.9 23,307.33 26.2,305.75 29.4,304.25 32.6,302.65 35.8,300.65 39,298.61 42.2,296.65 45.4,293.54 48.6,291.07 51.8,289.41 55,289.19 58.2,288.81 61.4,288.36 64.6,288.03 67.8,287.78 71,287.9 74.2,286.97 77.4,285.64 80.6,284.17 83.8,282.55 87,280.62 90.2,279.24 93.4,277.6 96.6,276.29 99.8,276.48 103,275.63 106.2,274.81 109.4,273.55 112.6,271.79 115.8,269.28 119,266.37 122.2,263.83 125.4,262.68 128.6,261.62 131.8,260.57 135,259.78 138.2,258.92 141.4,257.49 144.6,256.52 147.8,256.31 151,254.97 154.2,254.71 157.4,253.55 160.6,253.1 163.8,252.31 167,251.2 170.2,250.89 173.4,248.91 176.6,246.57 179.8,244.64 183,242.02 186.2,240.25 189.4,238.8 192.6,237.62 195.8,236.79 199,235.61 202.2,234.1 205.4,232.63 208.6,232.31 211.8,232.87 215,233.02 218.2,233.72 221.4,234.99 224.6,237.31 227.8,240.3 231,243.17 234.2,245.15 237.4,247.24 240.6,248.63 243.8,249.6 247,250.79 250.2,252.11 253.4,253.85 256.6,255.84 259.8,258.02 263,259.28 266.2,259.44 269.4,259.59 272.6,259.28 275.8,258.43 279,258.08 282.2,257.37 285.4,256.69 288.6,256.49 291.8,256.6 295,257.31 298.2,257.83 301.4,258.14 304.6,258.33 307.8,257.78 311,257.2 314.2,256.78 317.4,255.98 320.6,255.4 323.8,255.08 327,255.71 330.2,256.61 333.4,257.91 336.6,259.54 339.8,260.41 343,261.35 346.2,262.69 349.4,264.66 352.6,266.26 355.8,267.9 359,269.82 362.2,271.29 365.4,272.21 368.6,273.16 371.8,273.24 375,273.53 378.2,273.66 381.4,274.08 384.6,275.83 387.8,278.09 391,280.87 394.2,282.71 397.4,284.25 400.6,286.46 403.8,287.61 407,287.95 410.2,288.03 413.4,288.29 416.6,288.36 419.8,288.45 423,289.08 426.2,289.38 429.4,288.85 432.6,288.53 435.8,288.05 439,287.89 442.2,287.41 445.4,286.35 448.6,285.28 451.8,284.18 455,282.86 458.2,282.14 461.4,282.63 464.6,282.01 467.8,281.05 471,279.38 474.2,277.36 477.4,274.87 480.6,272.1 483.8,269.83 487,266.95 490.2,264.01 493.4,261.08 496.6,258.27 499.8,254.87 503,251.28 506.2,247.19 509.4,244.65 512.6,242.36 515.8,240.94 519,239.11 522.2,239.01 525.4,239.79 528.6,241.89 531.8,244.85 535,247.1 538.2,251.34 541.4,256.46 544.6,263.84 547.8,267.18 551,270.37 554.2,271.02 557.4,269.62 560.6,269.06 563.8,264.85 567,257.74 570.2,246.85 573.4,236.9 576.6,227.31 579.8,219.82 583,214.86 586.2,213.65 589.4,215.14 592.6,214.9 595.8,214.99 599,213.78 602.2,211.01 605.4,207.07 608.6,203.03 611.8,201.2 615,198.91 618.2,198.22 621.4,197.79 624.6,197.29 627.8,198.34 631,197.62 634.2,195.63 637.4,194.68 640.6,193.2 643.8,191.13 647,188.85 650.2,186.3 653.4,184.59 656.6,183.39 659.8,182.44 663,182.74 666.2,184.1 669.4,185.26 672.6,185.26 675.8,184.51 679,183.02 682.2,182.41 685.4,181.87 688.6,180.41 691.8,179.54 695,178.13 698.2,176.66 701.4,175.03 704.6,175.4 707.8,175.82 711,177.15 714.2,177.81 717.4,177.59 720.6,177.41 723.8,179.15 727,180.85 730.2,183.66 733.4,186.84 736.6,190.91 739.8,195.12 743,199.99 746.2,205.93 749.4,211.21 752.6,216.79 755.8,222.77 759,229.25 762.2,233.72 765.4,237.16 768.6,241.51 771.8,244.86 775,247.87 778.2,249.75 781.4,251.09 784.6,253.97 787.8,257.47 791,259.48 794.2,261.17 797.4,262.37 800.6,263.58 803.8,265.03 807,266.86 810.2,268.45 813.4,270.23 816.6,272.75 819.8,274.61 823,277.63 826.2,279.67 829.4,282.02 832.6,284.51 835.8,287.64 839,291.04 842.2,293.68 845.4,296.99 848.6,300.53 851.8,305.36 855,310.48 858.2,315.76 861.4,321.89 864.6,329.34 867.8,336.21 871,343.93 874.2,352.11 877.4,358.54 880.6,364.65 883.8,370.98 887,378.09 890.2,384.92 893.4,389.92 896.6,394.18 899.8,398.13 903,402.94 906.2,407.51 909.4,412.21 912.6,417.31 915.8,423.38 919,427.41 922.2,431.97 925.4,435.18 928.6,437.96 931.8,441.38 935,444.91 938.2,447.95 941.4,452.59 944.6,457.31 947.8,461.41 951,464.54 954.2,467.21 957.4,469.63 960.6,471.31 963.8,471.9 967,473.13 970.2,473.87 973.4,474.95 976.6,476.3 979.8,477.58 983,478.84 986.2,480.46 989.4,481.73 992.6,481.23 995.8,480.18 999,478.18 1002.2,476.36 1005.4,474.08 1008.6,472.52 1011.8,472.21 1015,472.13 1018.2,472.06 1021.4,471.8 1024.6,472.43 1027.8,472.13 1031,472.31 1034.2,472.78 1037.4,474.46 1040.6,476.06 1043.8,476.25 1047,476.69 1050.2,476.33 1053.4,476.24 1056.6,476.52 1059.8,477.86 1063,480.2 1066.2,481.65 1069.4,483.58 1072.6,484.6 1075.8,485.68 1079,485.2 1082.2,484.07 1085.4,482.73 1088.6,481.39 1091.8,481.74 1095,481.82 1098.2,484.16 1101.4,487.04 1104.6,488.45 1107.8,490.11 1111,490.94 1114.2,491.88 1117.4,493.34 1120.6,495.13 1123.8,497.11 1127,499.11 1130.2,501.25 1133.4,502.97 1136.6,504.33 1139.8,506.58 1143,509.04 1146.2,511.3 1149.4,514.13 1152.6,516.14 1155.8,520.13 1159,524.37 1162.2,529.15 1165.4,533.39 1168.6,537.26 1171.8,540.74 1175,543.85 1178.2,547.21 1181.4,550.16 1184.6,553.58 1187.8,557.47 1191,561.8 1194.2,566.95 1197.4,571.44 1200.6,575.4 1203.8,577.82 1207,580.81 1210.2,583.63 1213.4,586.42 1216.6,589.74 1219.8,593.93 1223,596.99 1226.2,600.16 1229.4,604.13 1232.6,608.08 1235.8,610.85 1239,612.86 1242.2,613.66 1245.4,615.61 1248.6,616.79 1251.8,618.57 1255,618.48 1258.2,618.42 1261.4,619.12 1264.6,619.84 1267.8,621.47 1271,622.64 1274.2,623.42 1277.4,624.55 1280.6,624.67 1283.8,624.9 1287,624.96 1290.2,624.01 1293.4,623.05 1296.6,622.01 1299.8,619.95 1303,619.34 1306.2,618.84 1309.4,619.66 1312.6,620.43 1315.8,621.2 1319,621.85 1322.2,622.67 1325.4,622.79 1328.6,622.18 1331.8,622.54 1335,623.35 1338.2,624.79 1341.4,626.06 1344.6,627.4 1347.8,628.31 1351,627.4 1354.2,626.37 1357.4,626.01 1360.6,625.1 1363.8,622.73 1367,619.58 1370.2,615.57 1373.4,612.83 1376.6,610.69 1379.8,609.52 1383,607.81 1386.2,605.88 1389.4,603.86 1392.6,603.02 1395.8,601.22 1399,599.22 1402.2,597.66 1405.4,594.89 1408.6,591.63 1411.8,587.83 1415,584.59 1418.2,580.99 1421.4,576.77 1424.6,572.96 1427.8,570.1 1431,567.03 1434.2,565.16 1437.4,564.12 1440.6,562.81 1443.8,562.44 1447,561.77 1450.2,561.38 1453.4,561.61 1456.6,562.27 1459.8,562.78 1463,563.71 1466.2,565.64 1469.4,567.22 1472.6,568.91 1475.8,570.1 1479,572.34 1482.2,574.46 1485.4,576.36 1488.6,578.84 1491.8,581.04 1495,581.57 1498.2,582.92 1501.4,583.4 1504.6,583.88 1507.8,585.31 1511,588.27 1514.2,590.82 1517.4,593.6 1520.6,594.72 1523.8,595.98 1527,598.26 1530.2,600.58 1533.4,603.8 1536.6,605.91 1539.8,608.94 1543,610.87 1546.2,613.45 1549.4,616.3 1552.6,618.07 1555.8,620.16 1559,621.59 1562.2,623.66 1565.4,625.4 1568.6,627.13 1571.8,627.3 1575,628.34 1578.2,629.77 1581.4,630.96 1584.6,632.21 1587.8,633.36 1591,633.27 1594.2,633.42 1597.4,633.04 1600.6,630.8 1603.8,627.47 1607,623.23 1610.2,620.23 1613.4,617.9 1616.6,615.44 1619.8,613.08 1623,611.18 1626.2,608.61 1629.4,605.93 1632.6,602.77 1635.8,599.28 1639,596.69 1642.2,594.15 1645.4,591.02 1648.6,587.68 1651.8,585.33 1655,583.76 1658.2,581.9 1661.4,578.79 1664.6,576.9 1667.8,574.56 1671,572 1674.2,569.26 1677.4,566.36 1680.6,564.03 1683.8,561.68 1687,559.31 1690.2,557.74 1693.4,556.5 1696.6,555.89 1699.8,556.24 1703,556.14 1706.2,556.21 1709.4,556.16 1712.6,555.57 1715.8,555.06 1719,553.29 1722.2,551.13 1725.4,548.87 1728.6,547.15 1731.8,545.19 1735,544.56 1738.2,543.7 1741.4,541.6 1744.6,539.55 1747.8,536.63 1751,534.12 1754.2,532.91 1757.4,531.93 1760.6,531.26 1763.8,529.95 1767,529.71 1770.2,529.37 1773.4,529.18 1776.6,529.24 1779.8,530.14 1783,531.19 1786.2,531.98 1789.4,531.9 1792.6,531.42 1795.8,531.34 1799,531.05 1802.2,530.92 1805.4,530.7 1808.6,530.87 1811.8,530.11 1815,528.44 1818.2,526.87 1821.4,525.48 1824.6,523.45 1827.8,522.49 1831,521.1 1834.2,519.32 1837.4,517.06 1840.6,513.3 1843.8,510.04 1847,507.41 1850.2,505.2" fill="none" stroke="#ff8c00" stroke-width="1.9" stroke-linejoin="round"/><rect x="0" y="432.9" width="1871" height="1.6" fill="#ff0000"/><rect x="0" y="471.3" width="1871" height="1.6" fill="#ff0000"/><rect x="0" y="485.6" width="1871" height="1.6" fill="#ff0000"/><rect x="0" y="654.4" width="1871" height="1.6" fill="#ff0000"/><rect x="0" y="676.1" width="1871" height="1.6" fill="#ff0000"/><rect x="0" y="462" width="1871" height="1.2" fill="#1e7472"/></g><g clip-path="url(#cmacd)"><line x1="1" y1="775.5" x2="1871" y2="775.5" stroke="#c8ccd8" stroke-width="0.8" stroke-dasharray="2.4 1.6"/><rect x="0.2" y="775.5" width="0.8" height="0" fill="#c4c8d6"/><rect x="3.4" y="775.5" width="0.8" height="1.02" fill="#c4c8d6"/><rect x="6.6" y="775.5" width="0.8" height="1.1" fill="#c4c8d6"/><rect x="9.8" y="774.51" width="0.8" height="0.99" fill="#c4c8d6"/><rect x="13" y="773.73" width="0.8" height="1.77" fill="#c4c8d6"/><rect x="16.2" y="775.5" width="0.8" height="0.22" fill="#c4c8d6"/><rect x="19.4" y="775.15" width="0.8" height="0.35" fill="#c4c8d6"/><rect x="22.6" y="773.99" width="0.8" height="1.51" fill="#c4c8d6"/><rect x="25.8" y="771.02" width="0.8" height="4.48" fill="#c4c8d6"/><rect x="29" y="768.75" width="0.8" height="6.75" fill="#c4c8d6"/><rect x="32.2" y="766.72" width="0.8" height="8.78" fill="#c4c8d6"/><rect x="35.4" y="764.26" width="0.8" height="11.24" fill="#c4c8d6"/><rect x="38.6" y="762.21" width="0.8" height="13.29" fill="#c4c8d6"/><rect x="41.8" y="760.68" width="0.8" height="14.82" fill="#c4c8d6"/><rect x="45" y="757.19" width="0.8" height="18.31" fill="#c4c8d6"/><rect x="48.2" y="755.64" width="0.8" height="19.86" fill="#c4c8d6"/><rect x="51.4" y="756.01" width="0.8" height="19.49" fill="#c4c8d6"/><rect x="54.6" y="759.24" width="0.8" height="16.26" fill="#c4c8d6"/><rect x="57.8" y="761.64" width="0.8" height="13.86" fill="#c4c8d6"/><rect x="61" y="763.48" width="0.8" height="12.02" fill="#c4c8d6"/><rect x="64.2" y="765.25" width="0.8" height="10.25" fill="#c4c8d6"/><rect x="67.4" y="766.89" width="0.8" height="8.61" fill="#c4c8d6"/><rect x="70.6" y="768.98" width="0.8" height="6.52" fill="#c4c8d6"/><rect x="73.8" y="768.62" width="0.8" height="6.88" fill="#c4c8d6"/><rect x="77" y="767.51" width="0.8" height="7.99" fill="#c4c8d6"/><rect x="80.2" y="766.34" width="0.8" height="9.16" fill="#c4c8d6"/><rect x="83.4" y="765.07" width="0.8" height="10.43" fill="#c4c8d6"/><rect x="86.6" y="763.43" width="0.8" height="12.07" fill="#c4c8d6"/><rect x="89.8" y="763.18" width="0.8" height="12.32" fill="#c4c8d6"/><rect x="93" y="762.48" width="0.8" height="13.02" fill="#c4c8d6"/><rect x="96.2" y="762.59" width="0.8" height="12.91" fill="#c4c8d6"/><rect x="99.4" y="765.68" width="0.8" height="9.82" fill="#c4c8d6"/><rect x="102.6" y="766.13" width="0.8" height="9.37" fill="#c4c8d6"/><rect x="105.8" y="766.6" width="0.8" height="8.9" fill="#c4c8d6"/><rect x="109" y="766.09" width="0.8" height="9.41" fill="#c4c8d6"/><rect x="112.2" y="764.7" width="0.8" height="10.8" fill="#c4c8d6"/><rect x="115.4" y="762.05" width="0.8" height="13.45" fill="#c4c8d6"/><rect x="118.6" y="759.09" width="0.8" height="16.41" fill="#c4c8d6"/><rect x="121.8" y="757.41" width="0.8" height="18.09" fill="#c4c8d6"/><rect x="125" y="758.83" width="0.8" height="16.67" fill="#c4c8d6"/><rect x="128.2" y="760.19" width="0.8" height="15.31" fill="#c4c8d6"/><rect x="131.4" y="761.37" width="0.8" height="14.13" fill="#c4c8d6"/><rect x="134.6" y="762.85" width="0.8" height="12.65" fill="#c4c8d6"/><rect x="137.8" y="763.95" width="0.8" height="11.55" fill="#c4c8d6"/><rect x="141" y="763.72" width="0.8" height="11.78" fill="#c4c8d6"/><rect x="144.2" y="764.45" width="0.8" height="11.05" fill="#c4c8d6"/><rect x="147.4" y="766.57" width="0.8" height="8.93" fill="#c4c8d6"/><rect x="150.6" y="766.06" width="0.8" height="9.44" fill="#c4c8d6"/><rect x="153.8" y="767.79" width="0.8" height="7.71" fill="#c4c8d6"/><rect x="157" y="767.41" width="0.8" height="8.09" fill="#c4c8d6"/><rect x="160.2" y="768.5" width="0.8" height="7" fill="#c4c8d6"/><rect x="163.4" y="768.72" width="0.8" height="6.78" fill="#c4c8d6"/><rect x="166.6" y="768.26" width="0.8" height="7.24" fill="#c4c8d6"/><rect x="169.8" y="769.47" width="0.8" height="6.03" fill="#c4c8d6"/><rect x="173" y="767.12" width="0.8" height="8.38" fill="#c4c8d6"/><rect x="176.2" y="764.47" width="0.8" height="11.03" fill="#c4c8d6"/><rect x="179.4" y="763.1" width="0.8" height="12.4" fill="#c4c8d6"/><rect x="182.6" y="760.61" width="0.8" height="14.89" fill="#c4c8d6"/><rect x="185.8" y="760.26" width="0.8" height="15.24" fill="#c4c8d6"/><rect x="189" y="760.64" width="0.8" height="14.86" fill="#c4c8d6"/><rect x="192.2" y="761.5" width="0.8" height="14" fill="#c4c8d6"/><rect x="195.4" y="762.91" width="0.8" height="12.59" fill="#c4c8d6"/><rect x="198.6" y="763.39" width="0.8" height="12.11" fill="#c4c8d6"/><rect x="201.8" y="763.12" width="0.8" height="12.38" fill="#c4c8d6"/><rect x="205" y="762.99" width="0.8" height="12.51" fill="#c4c8d6"/><rect x="208.2" y="765.16" width="0.8" height="10.34" fill="#c4c8d6"/><rect x="211.4" y="768.74" width="0.8" height="6.76" fill="#c4c8d6"/><rect x="214.6" y="770.84" width="0.8" height="4.66" fill="#c4c8d6"/><rect x="217.8" y="773.63" width="0.8" height="1.87" fill="#c4c8d6"/><rect x="221" y="775.5" width="0.8" height="1.58" fill="#c4c8d6"/><rect x="224.2" y="775.5" width="0.8" height="6.46" fill="#c4c8d6"/><rect x="227.4" y="775.5" width="0.8" height="11.77" fill="#c4c8d6"/><rect x="230.6" y="775.5" width="0.8" height="15.86" fill="#c4c8d6"/><rect x="233.8" y="775.5" width="0.8" height="17.39" fill="#c4c8d6"/><rect x="237" y="775.5" width="0.8" height="18.79" fill="#c4c8d6"/><rect x="240.2" y="775.5" width="0.8" height="18.5" fill="#c4c8d6"/><rect x="243.4" y="775.5" width="0.8" height="17.34" fill="#c4c8d6"/><rect x="246.6" y="775.5" width="0.8" height="16.76" fill="#c4c8d6"/><rect x="249.8" y="775.5" width="0.8" height="16.51" fill="#c4c8d6"/><rect x="253" y="775.5" width="0.8" height="17.09" fill="#c4c8d6"/><rect x="256.2" y="775.5" width="0.8" height="18" fill="#c4c8d6"/><rect x="259.4" y="775.5" width="0.8" height="19.09" fill="#c4c8d6"/><rect x="262.6" y="775.5" width="0.8" height="18.11" fill="#c4c8d6"/><rect x="265.8" y="775.5" width="0.8" height="15.06" fill="#c4c8d6"/><rect x="269" y="775.5" width="0.8" height="12.49" fill="#c4c8d6"/><rect x="272.2" y="775.5" width="0.8" height="9.44" fill="#c4c8d6"/><rect x="275.4" y="775.5" width="0.8" height="5.83" fill="#c4c8d6"/><rect x="278.6" y="775.5" width="0.8" height="3.85" fill="#c4c8d6"/><rect x="281.8" y="775.5" width="0.8" height="1.49" fill="#c4c8d6"/><rect x="285" y="775.13" width="0.8" height="0.37" fill="#c4c8d6"/><rect x="288.2" y="774.57" width="0.8" height="0.93" fill="#c4c8d6"/><rect x="291.4" y="774.74" width="0.8" height="0.76" fill="#c4c8d6"/><rect x="294.6" y="775.5" width="0.8" height="0.58" fill="#c4c8d6"/><rect x="297.8" y="775.5" width="0.8" height="1.32" fill="#c4c8d6"/><rect x="301" y="775.5" width="0.8" height="1.53" fill="#c4c8d6"/><rect x="304.2" y="775.5" width="0.8" height="1.44" fill="#c4c8d6"/><rect x="307.4" y="775.41" width="0.8" height="0.09" fill="#c4c8d6"/><rect x="310.6" y="774.1" width="0.8" height="1.4" fill="#c4c8d6"/><rect x="313.8" y="773.35" width="0.8" height="2.15" fill="#c4c8d6"/><rect x="317" y="771.98" width="0.8" height="3.52" fill="#c4c8d6"/><rect x="320.2" y="771.31" width="0.8" height="4.19" fill="#c4c8d6"/><rect x="323.4" y="771.32" width="0.8" height="4.18" fill="#c4c8d6"/><rect x="326.6" y="773.22" width="0.8" height="2.28" fill="#c4c8d6"/><rect x="329.8" y="775.33" width="0.8" height="0.17" fill="#c4c8d6"/><rect x="333" y="775.5" width="0.8" height="2.39" fill="#c4c8d6"/><rect x="336.2" y="775.5" width="0.8" height="5.14" fill="#c4c8d6"/><rect x="339.4" y="775.5" width="0.8" height="5.86" fill="#c4c8d6"/><rect x="342.6" y="775.5" width="0.8" height="6.6" fill="#c4c8d6"/><rect x="345.8" y="775.5" width="0.8" height="8" fill="#c4c8d6"/><rect x="349" y="775.5" width="0.8" height="10.38" fill="#c4c8d6"/><rect x="352.2" y="775.5" width="0.8" height="11.59" fill="#c4c8d6"/><rect x="355.4" y="775.5" width="0.8" height="12.64" fill="#c4c8d6"/><rect x="358.6" y="775.5" width="0.8" height="14.04" fill="#c4c8d6"/><rect x="361.8" y="775.5" width="0.8" height="14.26" fill="#c4c8d6"/><rect x="365" y="775.5" width="0.8" height="13.31" fill="#c4c8d6"/><rect x="368.2" y="775.5" width="0.8" height="12.57" fill="#c4c8d6"/><rect x="371.4" y="775.5" width="0.8" height="10.2" fill="#c4c8d6"/><rect x="374.6" y="775.5" width="0.8" height="8.66" fill="#c4c8d6"/><rect x="377.8" y="775.5" width="0.8" height="7.06" fill="#c4c8d6"/><rect x="381" y="775.5" width="0.8" height="6.32" fill="#c4c8d6"/><rect x="384.2" y="775.5" width="0.8" height="8.36" fill="#c4c8d6"/><rect x="387.4" y="775.5" width="0.8" height="11.06" fill="#c4c8d6"/><rect x="390.6" y="775.5" width="0.8" height="14.3" fill="#c4c8d6"/><rect x="393.8" y="775.5" width="0.8" height="15.06" fill="#c4c8d6"/><rect x="397" y="775.5" width="0.8" height="15.07" fill="#c4c8d6"/><rect x="400.2" y="775.5" width="0.8" height="16.4" fill="#c4c8d6"/><rect x="403.4" y="775.5" width="0.8" height="15.34" fill="#c4c8d6"/><rect x="406.6" y="775.5" width="0.8" height="12.84" fill="#c4c8d6"/><rect x="409.8" y="775.5" width="0.8" height="10.26" fill="#c4c8d6"/><rect x="413" y="775.5" width="0.8" height="8.48" fill="#c4c8d6"/><rect x="416.2" y="775.5" width="0.8" height="6.63" fill="#c4c8d6"/><rect x="419.4" y="775.5" width="0.8" height="5.16" fill="#c4c8d6"/><rect x="422.6" y="775.5" width="0.8" height="5.03" fill="#c4c8d6"/><rect x="425.8" y="775.5" width="0.8" height="4.28" fill="#c4c8d6"/><rect x="429" y="775.5" width="0.8" height="2.02" fill="#c4c8d6"/><rect x="432.2" y="775.5" width="0.8" height="0.59" fill="#c4c8d6"/><rect x="435.4" y="774.6" width="0.8" height="0.9" fill="#c4c8d6"/><rect x="438.6" y="774.04" width="0.8" height="1.46" fill="#c4c8d6"/><rect x="441.8" y="772.96" width="0.8" height="2.54" fill="#c4c8d6"/><rect x="445" y="770.95" width="0.8" height="4.55" fill="#c4c8d6"/><rect x="448.2" y="769.31" width="0.8" height="6.19" fill="#c4c8d6"/><rect x="451.4" y="767.91" width="0.8" height="7.59" fill="#c4c8d6"/><rect x="454.6" y="766.37" width="0.8" height="9.13" fill="#c4c8d6"/><rect x="457.8" y="766.34" width="0.8" height="9.16" fill="#c4c8d6"/><rect x="461" y="768.75" width="0.8" height="6.75" fill="#c4c8d6"/><rect x="464.2" y="768.56" width="0.8" height="6.94" fill="#c4c8d6"/><rect x="467.4" y="767.75" width="0.8" height="7.75" fill="#c4c8d6"/><rect x="470.6" y="765.69" width="0.8" height="9.81" fill="#c4c8d6"/><rect x="473.8" y="763.32" width="0.8" height="12.18" fill="#c4c8d6"/><rect x="477" y="760.48" width="0.8" height="15.02" fill="#c4c8d6"/><rect x="480.2" y="757.62" width="0.8" height="17.88" fill="#c4c8d6"/><rect x="483.4" y="756.31" width="0.8" height="19.19" fill="#c4c8d6"/><rect x="486.6" y="754.07" width="0.8" height="21.43" fill="#c4c8d6"/><rect x="489.8" y="752.15" width="0.8" height="23.35" fill="#c4c8d6"/><rect x="493" y="750.65" width="0.8" height="24.85" fill="#c4c8d6"/><rect x="496.2" y="749.7" width="0.8" height="25.8" fill="#c4c8d6"/><rect x="499.4" y="747.82" width="0.8" height="27.68" fill="#c4c8d6"/><rect x="502.6" y="745.95" width="0.8" height="29.55" fill="#c4c8d6"/><rect x="505.8" y="743.46" width="0.8" height="32.04" fill="#c4c8d6"/><rect x="509" y="744.59" width="0.8" height="30.91" fill="#c4c8d6"/><rect x="512.2" y="746.06" width="0.8" height="29.44" fill="#c4c8d6"/><rect x="515.4" y="749.07" width="0.8" height="26.43" fill="#c4c8d6"/><rect x="518.6" y="750.77" width="0.8" height="24.73" fill="#c4c8d6"/><rect x="521.8" y="755.65" width="0.8" height="19.85" fill="#c4c8d6"/><rect x="525" y="761.45" width="0.8" height="14.05" fill="#c4c8d6"/><rect x="528.2" y="768.87" width="0.8" height="6.63" fill="#c4c8d6"/><rect x="531.4" y="775.5" width="0.8" height="1.17" fill="#c4c8d6"/><rect x="534.6" y="775.5" width="0.8" height="6.16" fill="#c4c8d6"/><rect x="537.8" y="775.5" width="0.8" height="14.17" fill="#c4c8d6"/><rect x="541" y="775.5" width="0.8" height="22.45" fill="#c4c8d6"/><rect x="544.2" y="775.5" width="0.8" height="33.7" fill="#c4c8d6"/><rect x="547.4" y="775.5" width="0.8" height="34.79" fill="#c4c8d6"/><rect x="550.6" y="775.5" width="0.8" height="35.25" fill="#c4c8d6"/><rect x="553.8" y="775.5" width="0.8" height="30.48" fill="#c4c8d6"/><rect x="557" y="775.5" width="0.8" height="22.36" fill="#c4c8d6"/><rect x="560.2" y="775.5" width="0.8" height="17.27" fill="#c4c8d6"/><rect x="563.4" y="775.5" width="0.8" height="5.76" fill="#c4c8d6"/><rect x="566.6" y="765.97" width="0.8" height="9.53" fill="#c4c8d6"/><rect x="569.8" y="745.88" width="0.8" height="29.62" fill="#c4c8d6"/><rect x="573" y="731.28" width="0.8" height="44.22" fill="#c4c8d6"/><rect x="576.2" y="720.1" width="0.8" height="55.4" fill="#c4c8d6"/><rect x="579.4" y="715.25" width="0.8" height="60.25" fill="#c4c8d6"/><rect x="582.6" y="716.43" width="0.8" height="59.07" fill="#c4c8d6"/><rect x="585.8" y="725.04" width="0.8" height="50.46" fill="#c4c8d6"/><rect x="589" y="737.62" width="0.8" height="37.88" fill="#c4c8d6"/><rect x="592.2" y="744.59" width="0.8" height="30.91" fill="#c4c8d6"/><rect x="595.4" y="751.06" width="0.8" height="24.44" fill="#c4c8d6"/><rect x="598.6" y="753.82" width="0.8" height="21.68" fill="#c4c8d6"/><rect x="601.8" y="752.98" width="0.8" height="22.52" fill="#c4c8d6"/><rect x="605" y="750" width="0.8" height="25.5" fill="#c4c8d6"/><rect x="608.2" y="747.36" width="0.8" height="28.14" fill="#c4c8d6"/><rect x="611.4" y="749.63" width="0.8" height="25.87" fill="#c4c8d6"/><rect x="614.6" y="750.6" width="0.8" height="24.9" fill="#c4c8d6"/><rect x="617.8" y="754.63" width="0.8" height="20.87" fill="#c4c8d6"/><rect x="621" y="758.47" width="0.8" height="17.03" fill="#c4c8d6"/><rect x="624.2" y="761.49" width="0.8" height="14.01" fill="#c4c8d6"/><rect x="627.4" y="767.06" width="0.8" height="8.44" fill="#c4c8d6"/><rect x="630.6" y="768.08" width="0.8" height="7.42" fill="#c4c8d6"/><rect x="633.8" y="766.37" width="0.8" height="9.13" fill="#c4c8d6"/><rect x="637" y="767.02" width="0.8" height="8.48" fill="#c4c8d6"/><rect x="640.2" y="766.46" width="0.8" height="9.04" fill="#c4c8d6"/><rect x="643.4" y="764.83" width="0.8" height="10.67" fill="#c4c8d6"/><rect x="646.6" y="763.03" width="0.8" height="12.47" fill="#c4c8d6"/><rect x="649.8" y="761.01" width="0.8" height="14.49" fill="#c4c8d6"/><rect x="653" y="761.03" width="0.8" height="14.47" fill="#c4c8d6"/><rect x="656.2" y="762.04" width="0.8" height="13.46" fill="#c4c8d6"/><rect x="659.4" y="763.38" width="0.8" height="12.12" fill="#c4c8d6"/><rect x="662.6" y="766.97" width="0.8" height="8.53" fill="#c4c8d6"/><rect x="665.8" y="772.01" width="0.8" height="3.49" fill="#c4c8d6"/><rect x="669" y="775.5" width="0.8" height="0.24" fill="#c4c8d6"/><rect x="672.2" y="775.5" width="0.8" height="0.96" fill="#c4c8d6"/><rect x="675.4" y="775.5" width="0.8" height="0.03" fill="#c4c8d6"/><rect x="678.6" y="773.23" width="0.8" height="2.27" fill="#c4c8d6"/><rect x="681.8" y="773.09" width="0.8" height="2.41" fill="#c4c8d6"/><rect x="685" y="773.06" width="0.8" height="2.44" fill="#c4c8d6"/><rect x="688.2" y="771.19" width="0.8" height="4.31" fill="#c4c8d6"/><rect x="691.4" y="770.81" width="0.8" height="4.69" fill="#c4c8d6"/><rect x="694.6" y="769.4" width="0.8" height="6.1" fill="#c4c8d6"/><rect x="697.8" y="768.11" width="0.8" height="7.39" fill="#c4c8d6"/><rect x="701" y="766.72" width="0.8" height="8.78" fill="#c4c8d6"/><rect x="704.2" y="769.56" width="0.8" height="5.94" fill="#c4c8d6"/><rect x="707.4" y="771.98" width="0.8" height="3.52" fill="#c4c8d6"/><rect x="710.6" y="775.5" width="0.8" height="0.3" fill="#c4c8d6"/><rect x="713.8" y="775.5" width="0.8" height="2.06" fill="#c4c8d6"/><rect x="717" y="775.5" width="0.8" height="1.72" fill="#c4c8d6"/><rect x="720.2" y="775.5" width="0.8" height="1.51" fill="#c4c8d6"/><rect x="723.4" y="775.5" width="0.8" height="5.14" fill="#c4c8d6"/><rect x="726.6" y="775.5" width="0.8" height="8" fill="#c4c8d6"/><rect x="729.8" y="775.5" width="0.8" height="12.54" fill="#c4c8d6"/><rect x="733" y="775.5" width="0.8" height="16.96" fill="#c4c8d6"/><rect x="736.2" y="775.5" width="0.8" height="22.33" fill="#c4c8d6"/><rect x="739.4" y="775.5" width="0.8" height="26.94" fill="#c4c8d6"/><rect x="742.6" y="775.5" width="0.8" height="31.98" fill="#c4c8d6"/><rect x="745.8" y="775.5" width="0.8" height="38.17" fill="#c4c8d6"/><rect x="749" y="775.5" width="0.8" height="41.84" fill="#c4c8d6"/><rect x="752.2" y="775.5" width="0.8" height="45.36" fill="#c4c8d6"/><rect x="755.4" y="775.5" width="0.8" height="48.95" fill="#c4c8d6"/><rect x="758.6" y="775.5" width="0.8" height="52.77" fill="#c4c8d6"/><rect x="761.8" y="775.5" width="0.8" height="51.8" fill="#c4c8d6"/><rect x="765" y="775.5" width="0.8" height="48.8" fill="#c4c8d6"/><rect x="768.2" y="775.5" width="0.8" height="48.07" fill="#c4c8d6"/><rect x="771.4" y="775.5" width="0.8" height="45.37" fill="#c4c8d6"/><rect x="774.6" y="775.5" width="0.8" height="42.37" fill="#c4c8d6"/><rect x="777.8" y="775.5" width="0.8" height="37.59" fill="#c4c8d6"/><rect x="781" y="775.5" width="0.8" height="32.53" fill="#c4c8d6"/><rect x="784.2" y="775.5" width="0.8" height="31.4" fill="#c4c8d6"/><rect x="787.4" y="775.5" width="0.8" height="31.65" fill="#c4c8d6"/><rect x="790.6" y="775.5" width="0.8" height="28.87" fill="#c4c8d6"/><rect x="793.8" y="775.5" width="0.8" height="25.92" fill="#c4c8d6"/><rect x="797" y="775.5" width="0.8" height="22.49" fill="#c4c8d6"/><rect x="800.2" y="775.5" width="0.8" height="19.69" fill="#c4c8d6"/><rect x="803.4" y="775.5" width="0.8" height="17.88" fill="#c4c8d6"/><rect x="806.6" y="775.5" width="0.8" height="17.14" fill="#c4c8d6"/><rect x="809.8" y="775.5" width="0.8" height="16.08" fill="#c4c8d6"/><rect x="813" y="775.5" width="0.8" height="15.58" fill="#c4c8d6"/><rect x="816.2" y="775.5" width="0.8" height="16.66" fill="#c4c8d6"/><rect x="819.4" y="775.5" width="0.8" height="16.27" fill="#c4c8d6"/><rect x="822.6" y="775.5" width="0.8" height="18.25" fill="#c4c8d6"/><rect x="825.8" y="775.5" width="0.8" height="17.94" fill="#c4c8d6"/><rect x="829" y="775.5" width="0.8" height="18.33" fill="#c4c8d6"/><rect x="832.2" y="775.5" width="0.8" height="18.91" fill="#c4c8d6"/><rect x="835.4" y="775.5" width="0.8" height="20.67" fill="#c4c8d6"/><rect x="838.6" y="775.5" width="0.8" height="22.66" fill="#c4c8d6"/><rect x="841.8" y="775.5" width="0.8" height="22.78" fill="#c4c8d6"/><rect x="845" y="775.5" width="0.8" height="24.21" fill="#c4c8d6"/><rect x="848.2" y="775.5" width="0.8" height="25.83" fill="#c4c8d6"/><rect x="851.4" y="775.5" width="0.8" height="29.73" fill="#c4c8d6"/><rect x="854.6" y="775.5" width="0.8" height="33.48" fill="#c4c8d6"/><rect x="857.8" y="775.5" width="0.8" height="36.85" fill="#c4c8d6"/><rect x="861" y="775.5" width="0.8" height="41.3" fill="#c4c8d6"/><rect x="864.2" y="775.5" width="0.8" height="47.53" fill="#c4c8d6"/><rect x="867.4" y="775.5" width="0.8" height="51.45" fill="#c4c8d6"/><rect x="870.6" y="775.5" width="0.8" height="56.3" fill="#c4c8d6"/><rect x="873.8" y="775.5" width="0.8" height="61.13" fill="#c4c8d6"/><rect x="877" y="775.5" width="0.8" height="61.5" fill="#c4c8d6"/><rect x="880.2" y="775.5" width="0.8" height="61.09" fill="#c4c8d6"/><rect x="883.4" y="775.5" width="0.8" height="61.12" fill="#c4c8d6"/><rect x="886.6" y="775.5" width="0.8" height="62.6" fill="#c4c8d6"/><rect x="889.8" y="775.5" width="0.8" height="63.2" fill="#c4c8d6"/><rect x="893" y="775.5" width="0.8" height="59.94" fill="#c4c8d6"/><rect x="896.2" y="775.5" width="0.8" height="55.72" fill="#c4c8d6"/><rect x="899.4" y="775.5" width="0.8" height="51.59" fill="#c4c8d6"/><rect x="902.6" y="775.5" width="0.8" height="49.85" fill="#c4c8d6"/><rect x="905.8" y="775.5" width="0.8" height="47.92" fill="#c4c8d6"/><rect x="909" y="775.5" width="0.8" height="46.55" fill="#c4c8d6"/><rect x="912.2" y="775.5" width="0.8" height="46.2" fill="#c4c8d6"/><rect x="915.4" y="775.5" width="0.8" height="47.85" fill="#c4c8d6"/><rect x="918.6" y="775.5" width="0.8" height="45.11" fill="#c4c8d6"/><rect x="921.8" y="775.5" width="0.8" height="43.89" fill="#c4c8d6"/><rect x="925" y="775.5" width="0.8" height="40.19" fill="#c4c8d6"/><rect x="928.2" y="775.5" width="0.8" height="36.3" fill="#c4c8d6"/><rect x="931.4" y="775.5" width="0.8" height="34.37" fill="#c4c8d6"/><rect x="934.6" y="775.5" width="0.8" height="33.02" fill="#c4c8d6"/><rect x="937.8" y="775.5" width="0.8" height="30.96" fill="#c4c8d6"/><rect x="941" y="775.5" width="0.8" height="32.47" fill="#c4c8d6"/><rect x="944.2" y="775.5" width="0.8" height="33.91" fill="#c4c8d6"/><rect x="947.4" y="775.5" width="0.8" height="33.87" fill="#c4c8d6"/><rect x="950.6" y="775.5" width="0.8" height="31.91" fill="#c4c8d6"/><rect x="953.8" y="775.5" width="0.8" height="29.39" fill="#c4c8d6"/><rect x="957" y="775.5" width="0.8" height="26.85" fill="#c4c8d6"/><rect x="960.2" y="775.5" width="0.8" height="23.32" fill="#c4c8d6"/><rect x="963.4" y="775.5" width="0.8" height="18.28" fill="#c4c8d6"/><rect x="966.6" y="775.5" width="0.8" height="15.44" fill="#c4c8d6"/><rect x="969.8" y="775.5" width="0.8" height="12.19" fill="#c4c8d6"/><rect x="973" y="775.5" width="0.8" height="10.27" fill="#c4c8d6"/><rect x="976.2" y="775.5" width="0.8" height="9.27" fill="#c4c8d6"/><rect x="979.4" y="775.5" width="0.8" height="8.38" fill="#c4c8d6"/><rect x="982.6" y="775.5" width="0.8" height="7.67" fill="#c4c8d6"/><rect x="985.8" y="775.5" width="0.8" height="7.87" fill="#c4c8d6"/><rect x="989" y="775.5" width="0.8" height="7.4" fill="#c4c8d6"/><rect x="992.2" y="775.5" width="0.8" height="3.54" fill="#c4c8d6"/><rect x="995.4" y="774.83" width="0.8" height="0.67" fill="#c4c8d6"/><rect x="998.6" y="769.52" width="0.8" height="5.98" fill="#c4c8d6"/><rect x="1001.8" y="765.63" width="0.8" height="9.87" fill="#c4c8d6"/><rect x="1005" y="761.57" width="0.8" height="13.93" fill="#c4c8d6"/><rect x="1008.2" y="759.78" width="0.8" height="15.72" fill="#c4c8d6"/><rect x="1011.4" y="760.88" width="0.8" height="14.62" fill="#c4c8d6"/><rect x="1014.6" y="762.36" width="0.8" height="13.14" fill="#c4c8d6"/><rect x="1017.8" y="763.67" width="0.8" height="11.83" fill="#c4c8d6"/><rect x="1021" y="764.44" width="0.8" height="11.06" fill="#c4c8d6"/><rect x="1024.2" y="766.91" width="0.8" height="8.59" fill="#c4c8d6"/><rect x="1027.4" y="767.17" width="0.8" height="8.33" fill="#c4c8d6"/><rect x="1030.6" y="768.4" width="0.8" height="7.1" fill="#c4c8d6"/><rect x="1033.8" y="770.03" width="0.8" height="5.47" fill="#c4c8d6"/><rect x="1037" y="773.83" width="0.8" height="1.67" fill="#c4c8d6"/><rect x="1040.2" y="775.5" width="0.8" height="1.33" fill="#c4c8d6"/><rect x="1043.4" y="775.5" width="0.8" height="1" fill="#c4c8d6"/><rect x="1046.6" y="775.5" width="0.8" height="1.26" fill="#c4c8d6"/><rect x="1049.8" y="775.39" width="0.8" height="0.11" fill="#c4c8d6"/><rect x="1053" y="774.83" width="0.8" height="0.67" fill="#c4c8d6"/><rect x="1056.2" y="775.12" width="0.8" height="0.38" fill="#c4c8d6"/><rect x="1059.4" y="775.5" width="0.8" height="1.98" fill="#c4c8d6"/><rect x="1062.6" y="775.5" width="0.8" height="5.96" fill="#c4c8d6"/><rect x="1065.8" y="775.5" width="0.8" height="7.44" fill="#c4c8d6"/><rect x="1069" y="775.5" width="0.8" height="9.63" fill="#c4c8d6"/><rect x="1072.2" y="775.5" width="0.8" height="9.61" fill="#c4c8d6"/><rect x="1075.4" y="775.5" width="0.8" height="9.68" fill="#c4c8d6"/><rect x="1078.6" y="775.5" width="0.8" height="6.64" fill="#c4c8d6"/><rect x="1081.8" y="775.5" width="0.8" height="2.83" fill="#c4c8d6"/><rect x="1085" y="774.78" width="0.8" height="0.72" fill="#c4c8d6"/><rect x="1088.2" y="771.89" width="0.8" height="3.61" fill="#c4c8d6"/><rect x="1091.4" y="772.9" width="0.8" height="2.6" fill="#c4c8d6"/><rect x="1094.6" y="773.21" width="0.8" height="2.29" fill="#c4c8d6"/><rect x="1097.8" y="775.5" width="0.8" height="2.51" fill="#c4c8d6"/><rect x="1101" y="775.5" width="0.8" height="7.54" fill="#c4c8d6"/><rect x="1104.2" y="775.5" width="0.8" height="8.74" fill="#c4c8d6"/><rect x="1107.4" y="775.5" width="0.8" height="10.22" fill="#c4c8d6"/><rect x="1110.6" y="775.5" width="0.8" height="9.76" fill="#c4c8d6"/><rect x="1113.8" y="775.5" width="0.8" height="9.6" fill="#c4c8d6"/><rect x="1117" y="775.5" width="0.8" height="10.49" fill="#c4c8d6"/><rect x="1120.2" y="775.5" width="0.8" height="11.86" fill="#c4c8d6"/><rect x="1123.4" y="775.5" width="0.8" height="13.36" fill="#c4c8d6"/><rect x="1126.6" y="775.5" width="0.8" height="14.62" fill="#c4c8d6"/><rect x="1129.8" y="775.5" width="0.8" height="15.92" fill="#c4c8d6"/><rect x="1133" y="775.5" width="0.8" height="16.12" fill="#c4c8d6"/><rect x="1136.2" y="775.5" width="0.8" height="15.53" fill="#c4c8d6"/><rect x="1139.4" y="775.5" width="0.8" height="16.81" fill="#c4c8d6"/><rect x="1142.6" y="775.5" width="0.8" height="18.25" fill="#c4c8d6"/><rect x="1145.8" y="775.5" width="0.8" height="19.02" fill="#c4c8d6"/><rect x="1149" y="775.5" width="0.8" height="20.76" fill="#c4c8d6"/><rect x="1152.2" y="775.5" width="0.8" height="20.53" fill="#c4c8d6"/><rect x="1155.4" y="775.5" width="0.8" height="24.26" fill="#c4c8d6"/><rect x="1158.6" y="775.5" width="0.8" height="27.79" fill="#c4c8d6"/><rect x="1161.8" y="775.5" width="0.8" height="31.74" fill="#c4c8d6"/><rect x="1165" y="775.5" width="0.8" height="33.85" fill="#c4c8d6"/><rect x="1168.2" y="775.5" width="0.8" height="34.79" fill="#c4c8d6"/><rect x="1171.4" y="775.5" width="0.8" height="34.73" fill="#c4c8d6"/><rect x="1174.6" y="775.5" width="0.8" height="33.89" fill="#c4c8d6"/><rect x="1177.8" y="775.5" width="0.8" height="33.65" fill="#c4c8d6"/><rect x="1181" y="775.5" width="0.8" height="32.59" fill="#c4c8d6"/><rect x="1184.2" y="775.5" width="0.8" height="32.61" fill="#c4c8d6"/><rect x="1187.4" y="775.5" width="0.8" height="33.52" fill="#c4c8d6"/><rect x="1190.6" y="775.5" width="0.8" height="35.1" fill="#c4c8d6"/><rect x="1193.8" y="775.5" width="0.8" height="38" fill="#c4c8d6"/><rect x="1197" y="775.5" width="0.8" height="39.04" fill="#c4c8d6"/><rect x="1200.2" y="775.5" width="0.8" height="38.78" fill="#c4c8d6"/><rect x="1203.4" y="775.5" width="0.8" height="35.45" fill="#c4c8d6"/><rect x="1206.6" y="775.5" width="0.8" height="33.8" fill="#c4c8d6"/><rect x="1209.8" y="775.5" width="0.8" height="32.07" fill="#c4c8d6"/><rect x="1213" y="775.5" width="0.8" height="30.58" fill="#c4c8d6"/><rect x="1216.2" y="775.5" width="0.8" height="30.38" fill="#c4c8d6"/><rect x="1219.4" y="775.5" width="0.8" height="31.94" fill="#c4c8d6"/><rect x="1222.6" y="775.5" width="0.8" height="30.96" fill="#c4c8d6"/><rect x="1225.8" y="775.5" width="0.8" height="30.36" fill="#c4c8d6"/><rect x="1229" y="775.5" width="0.8" height="31.43" fill="#c4c8d6"/><rect x="1232.2" y="775.5" width="0.8" height="32.26" fill="#c4c8d6"/><rect x="1235.4" y="775.5" width="0.8" height="30.59" fill="#c4c8d6"/><rect x="1238.6" y="775.5" width="0.8" height="27.67" fill="#c4c8d6"/><rect x="1241.8" y="775.5" width="0.8" height="22.84" fill="#c4c8d6"/><rect x="1245" y="775.5" width="0.8" height="21.2" fill="#c4c8d6"/><rect x="1248.2" y="775.5" width="0.8" height="18.3" fill="#c4c8d6"/><rect x="1251.4" y="775.5" width="0.8" height="17.13" fill="#c4c8d6"/><rect x="1254.6" y="775.5" width="0.8" height="12.48" fill="#c4c8d6"/><rect x="1257.8" y="775.5" width="0.8" height="8.74" fill="#c4c8d6"/><rect x="1261" y="775.5" width="0.8" height="7.21" fill="#c4c8d6"/><rect x="1264.2" y="775.5" width="0.8" height="6.03" fill="#c4c8d6"/><rect x="1267.4" y="775.5" width="0.8" height="6.94" fill="#c4c8d6"/><rect x="1270.6" y="775.5" width="0.8" height="6.82" fill="#c4c8d6"/><rect x="1273.8" y="775.5" width="0.8" height="5.96" fill="#c4c8d6"/><rect x="1277" y="775.5" width="0.8" height="6.01" fill="#c4c8d6"/><rect x="1280.2" y="775.5" width="0.8" height="4.07" fill="#c4c8d6"/><rect x="1283.4" y="775.5" width="0.8" height="2.75" fill="#c4c8d6"/><rect x="1286.6" y="775.5" width="0.8" height="1.35" fill="#c4c8d6"/><rect x="1289.8" y="773.73" width="0.8" height="1.77" fill="#c4c8d6"/><rect x="1293" y="771.19" width="0.8" height="4.31" fill="#c4c8d6"/><rect x="1296.2" y="769.01" width="0.8" height="6.49" fill="#c4c8d6"/><rect x="1299.4" y="765.23" width="0.8" height="10.27" fill="#c4c8d6"/><rect x="1302.6" y="765.07" width="0.8" height="10.43" fill="#c4c8d6"/><rect x="1305.8" y="765.25" width="0.8" height="10.25" fill="#c4c8d6"/><rect x="1309" y="768.07" width="0.8" height="7.43" fill="#c4c8d6"/><rect x="1312.2" y="770.36" width="0.8" height="5.14" fill="#c4c8d6"/><rect x="1315.4" y="772.28" width="0.8" height="3.22" fill="#c4c8d6"/><rect x="1318.6" y="773.64" width="0.8" height="1.86" fill="#c4c8d6"/><rect x="1321.8" y="775.14" width="0.8" height="0.36" fill="#c4c8d6"/><rect x="1325" y="775.01" width="0.8" height="0.49" fill="#c4c8d6"/><rect x="1328.2" y="773.48" width="0.8" height="2.02" fill="#c4c8d6"/><rect x="1331.4" y="774.15" width="0.8" height="1.35" fill="#c4c8d6"/><rect x="1334.6" y="775.5" width="0.8" height="0.15" fill="#c4c8d6"/><rect x="1337.8" y="775.5" width="0.8" height="2.64" fill="#c4c8d6"/><rect x="1341" y="775.5" width="0.8" height="4.38" fill="#c4c8d6"/><rect x="1344.2" y="775.5" width="0.8" height="5.93" fill="#c4c8d6"/><rect x="1347.4" y="775.5" width="0.8" height="6.36" fill="#c4c8d6"/><rect x="1350.6" y="775.5" width="0.8" height="3.11" fill="#c4c8d6"/><rect x="1353.8" y="775.5" width="0.8" height="0.16" fill="#c4c8d6"/><rect x="1357" y="774.6" width="0.8" height="0.9" fill="#c4c8d6"/><rect x="1360.2" y="772.65" width="0.8" height="2.85" fill="#c4c8d6"/><rect x="1363.4" y="768.17" width="0.8" height="7.33" fill="#c4c8d6"/><rect x="1366.6" y="762.93" width="0.8" height="12.57" fill="#c4c8d6"/><rect x="1369.8" y="756.95" width="0.8" height="18.55" fill="#c4c8d6"/><rect x="1373" y="754.63" width="0.8" height="20.87" fill="#c4c8d6"/><rect x="1376.2" y="753.96" width="0.8" height="21.54" fill="#c4c8d6"/><rect x="1379.4" y="755.43" width="0.8" height="20.07" fill="#c4c8d6"/><rect x="1382.6" y="755.62" width="0.8" height="19.88" fill="#c4c8d6"/><rect x="1385.8" y="755.37" width="0.8" height="20.13" fill="#c4c8d6"/><rect x="1389" y="755.05" width="0.8" height="20.45" fill="#c4c8d6"/><rect x="1392.2" y="757.2" width="0.8" height="18.3" fill="#c4c8d6"/><rect x="1395.4" y="757.06" width="0.8" height="18.44" fill="#c4c8d6"/><rect x="1398.6" y="756.61" width="0.8" height="18.89" fill="#c4c8d6"/><rect x="1401.8" y="757.17" width="0.8" height="18.33" fill="#c4c8d6"/><rect x="1405" y="755.24" width="0.8" height="20.26" fill="#c4c8d6"/><rect x="1408.2" y="752.7" width="0.8" height="22.8" fill="#c4c8d6"/><rect x="1411.4" y="749.58" width="0.8" height="25.92" fill="#c4c8d6"/><rect x="1414.6" y="748.2" width="0.8" height="27.3" fill="#c4c8d6"/><rect x="1417.8" y="746.38" width="0.8" height="29.12" fill="#c4c8d6"/><rect x="1421" y="743.68" width="0.8" height="31.82" fill="#c4c8d6"/><rect x="1424.2" y="742.35" width="0.8" height="33.15" fill="#c4c8d6"/><rect x="1427.4" y="743.21" width="0.8" height="32.29" fill="#c4c8d6"/><rect x="1430.6" y="743.57" width="0.8" height="31.93" fill="#c4c8d6"/><rect x="1433.8" y="746.3" width="0.8" height="29.2" fill="#c4c8d6"/><rect x="1437" y="750.23" width="0.8" height="25.27" fill="#c4c8d6"/><rect x="1440.2" y="752.98" width="0.8" height="22.52" fill="#c4c8d6"/><rect x="1443.4" y="757.13" width="0.8" height="18.37" fill="#c4c8d6"/><rect x="1446.6" y="759.96" width="0.8" height="15.54" fill="#c4c8d6"/><rect x="1449.8" y="762.84" width="0.8" height="12.66" fill="#c4c8d6"/><rect x="1453" y="766.43" width="0.8" height="9.07" fill="#c4c8d6"/><rect x="1456.2" y="770.25" width="0.8" height="5.25" fill="#c4c8d6"/><rect x="1459.4" y="773.05" width="0.8" height="2.45" fill="#c4c8d6"/><rect x="1462.6" y="775.5" width="0.8" height="0.68" fill="#c4c8d6"/><rect x="1465.8" y="775.5" width="0.8" height="5.2" fill="#c4c8d6"/><rect x="1469" y="775.5" width="0.8" height="8.16" fill="#c4c8d6"/><rect x="1472.2" y="775.5" width="0.8" height="10.77" fill="#c4c8d6"/><rect x="1475.4" y="775.5" width="0.8" height="11.86" fill="#c4c8d6"/><rect x="1478.6" y="775.5" width="0.8" height="14.78" fill="#c4c8d6"/><rect x="1481.8" y="775.5" width="0.8" height="16.89" fill="#c4c8d6"/><rect x="1485" y="775.5" width="0.8" height="18.1" fill="#c4c8d6"/><rect x="1488.2" y="775.5" width="0.8" height="20.2" fill="#c4c8d6"/><rect x="1491.4" y="775.5" width="0.8" height="21.29" fill="#c4c8d6"/><rect x="1494.6" y="775.5" width="0.8" height="18.79" fill="#c4c8d6"/><rect x="1497.8" y="775.5" width="0.8" height="18.31" fill="#c4c8d6"/><rect x="1501" y="775.5" width="0.8" height="16.1" fill="#c4c8d6"/><rect x="1504.2" y="775.5" width="0.8" height="14.25" fill="#c4c8d6"/><rect x="1507.4" y="775.5" width="0.8" height="14.58" fill="#c4c8d6"/><rect x="1510.6" y="775.5" width="0.8" height="17.85" fill="#c4c8d6"/><rect x="1513.8" y="775.5" width="0.8" height="19.69" fill="#c4c8d6"/><rect x="1517" y="775.5" width="0.8" height="21.62" fill="#c4c8d6"/><rect x="1520.2" y="775.5" width="0.8" height="19.84" fill="#c4c8d6"/><rect x="1523.4" y="775.5" width="0.8" height="18.61" fill="#c4c8d6"/><rect x="1526.6" y="775.5" width="0.8" height="19.57" fill="#c4c8d6"/><rect x="1529.8" y="775.5" width="0.8" height="20.42" fill="#c4c8d6"/><rect x="1533" y="775.5" width="0.8" height="22.87" fill="#c4c8d6"/><rect x="1536.2" y="775.5" width="0.8" height="22.64" fill="#c4c8d6"/><rect x="1539.4" y="775.5" width="0.8" height="24.22" fill="#c4c8d6"/><rect x="1542.6" y="775.5" width="0.8" height="23.3" fill="#c4c8d6"/><rect x="1545.8" y="775.5" width="0.8" height="23.8" fill="#c4c8d6"/><rect x="1549" y="775.5" width="0.8" height="24.7" fill="#c4c8d6"/><rect x="1552.2" y="775.5" width="0.8" height="23.25" fill="#c4c8d6"/><rect x="1555.4" y="775.5" width="0.8" height="22.65" fill="#c4c8d6"/><rect x="1558.6" y="775.5" width="0.8" height="20.81" fill="#c4c8d6"/><rect x="1561.8" y="775.5" width="0.8" height="20.57" fill="#c4c8d6"/><rect x="1565" y="775.5" width="0.8" height="19.67" fill="#c4c8d6"/><rect x="1568.2" y="775.5" width="0.8" height="18.9" fill="#c4c8d6"/><rect x="1571.4" y="775.5" width="0.8" height="15.13" fill="#c4c8d6"/><rect x="1574.6" y="775.5" width="0.8" height="13.76" fill="#c4c8d6"/><rect x="1577.8" y="775.5" width="0.8" height="13.4" fill="#c4c8d6"/><rect x="1581" y="775.5" width="0.8" height="12.65" fill="#c4c8d6"/><rect x="1584.2" y="775.5" width="0.8" height="12.12" fill="#c4c8d6"/><rect x="1587.4" y="775.5" width="0.8" height="11.52" fill="#c4c8d6"/><rect x="1590.6" y="775.5" width="0.8" height="8.53" fill="#c4c8d6"/><rect x="1593.8" y="775.5" width="0.8" height="6.57" fill="#c4c8d6"/><rect x="1597" y="775.5" width="0.8" height="3.93" fill="#c4c8d6"/><rect x="1600.2" y="773.56" width="0.8" height="1.94" fill="#c4c8d6"/><rect x="1603.4" y="766.59" width="0.8" height="8.91" fill="#c4c8d6"/><rect x="1606.6" y="759.09" width="0.8" height="16.41" fill="#c4c8d6"/><rect x="1609.8" y="755.46" width="0.8" height="20.04" fill="#c4c8d6"/><rect x="1613" y="753.89" width="0.8" height="21.61" fill="#c4c8d6"/><rect x="1616.2" y="752.43" width="0.8" height="23.07" fill="#c4c8d6"/><rect x="1619.4" y="751.5" width="0.8" height="24" fill="#c4c8d6"/><rect x="1622.6" y="751.73" width="0.8" height="23.77" fill="#c4c8d6"/><rect x="1625.8" y="750.66" width="0.8" height="24.84" fill="#c4c8d6"/><rect x="1629" y="749.63" width="0.8" height="25.87" fill="#c4c8d6"/><rect x="1632.2" y="747.92" width="0.8" height="27.58" fill="#c4c8d6"/><rect x="1635.4" y="745.9" width="0.8" height="29.6" fill="#c4c8d6"/><rect x="1638.6" y="746.14" width="0.8" height="29.36" fill="#c4c8d6"/><rect x="1641.8" y="746.49" width="0.8" height="29.01" fill="#c4c8d6"/><rect x="1645" y="745.68" width="0.8" height="29.82" fill="#c4c8d6"/><rect x="1648.2" y="744.66" width="0.8" height="30.84" fill="#c4c8d6"/><rect x="1651.4" y="745.87" width="0.8" height="29.63" fill="#c4c8d6"/><rect x="1654.6" y="748.46" width="0.8" height="27.04" fill="#c4c8d6"/><rect x="1657.8" y="750.09" width="0.8" height="25.41" fill="#c4c8d6"/><rect x="1661" y="748.97" width="0.8" height="26.53" fill="#c4c8d6"/><rect x="1664.2" y="750.53" width="0.8" height="24.97" fill="#c4c8d6"/><rect x="1667.4" y="750.95" width="0.8" height="24.55" fill="#c4c8d6"/><rect x="1670.6" y="750.89" width="0.8" height="24.61" fill="#c4c8d6"/><rect x="1673.8" y="750.53" width="0.8" height="24.97" fill="#c4c8d6"/><rect x="1677" y="749.92" width="0.8" height="25.58" fill="#c4c8d6"/><rect x="1680.2" y="750.62" width="0.8" height="24.88" fill="#c4c8d6"/><rect x="1683.4" y="751.17" width="0.8" height="24.33" fill="#c4c8d6"/><rect x="1686.6" y="751.61" width="0.8" height="23.89" fill="#c4c8d6"/><rect x="1689.8" y="753.6" width="0.8" height="21.9" fill="#c4c8d6"/><rect x="1693" y="755.89" width="0.8" height="19.61" fill="#c4c8d6"/><rect x="1696.2" y="759.07" width="0.8" height="16.43" fill="#c4c8d6"/><rect x="1699.4" y="763.6" width="0.8" height="11.9" fill="#c4c8d6"/><rect x="1702.6" y="766.42" width="0.8" height="9.08" fill="#c4c8d6"/><rect x="1705.8" y="769.05" width="0.8" height="6.45" fill="#c4c8d6"/><rect x="1709" y="770.97" width="0.8" height="4.53" fill="#c4c8d6"/><rect x="1712.2" y="771.43" width="0.8" height="4.07" fill="#c4c8d6"/><rect x="1715.4" y="771.95" width="0.8" height="3.55" fill="#c4c8d6"/><rect x="1718.6" y="769.82" width="0.8" height="5.68" fill="#c4c8d6"/><rect x="1721.8" y="767.28" width="0.8" height="8.22" fill="#c4c8d6"/><rect x="1725" y="764.95" width="0.8" height="10.55" fill="#c4c8d6"/><rect x="1728.2" y="764.13" width="0.8" height="11.37" fill="#c4c8d6"/><rect x="1731.4" y="762.96" width="0.8" height="12.54" fill="#c4c8d6"/><rect x="1734.6" y="764.64" width="0.8" height="10.86" fill="#c4c8d6"/><rect x="1737.8" y="765.57" width="0.8" height="9.93" fill="#c4c8d6"/><rect x="1741" y="763.85" width="0.8" height="11.65" fill="#c4c8d6"/><rect x="1744.2" y="762.55" width="0.8" height="12.95" fill="#c4c8d6"/><rect x="1747.4" y="759.73" width="0.8" height="15.77" fill="#c4c8d6"/><rect x="1750.6" y="758.22" width="0.8" height="17.28" fill="#c4c8d6"/><rect x="1753.8" y="759.6" width="0.8" height="15.9" fill="#c4c8d6"/><rect x="1757" y="761.2" width="0.8" height="14.3" fill="#c4c8d6"/><rect x="1760.2" y="763.13" width="0.8" height="12.37" fill="#c4c8d6"/><rect x="1763.4" y="763.46" width="0.8" height="12.04" fill="#c4c8d6"/><rect x="1766.6" y="765.85" width="0.8" height="9.65" fill="#c4c8d6"/><rect x="1769.8" y="767.61" width="0.8" height="7.89" fill="#c4c8d6"/><rect x="1773" y="769.35" width="0.8" height="6.15" fill="#c4c8d6"/><rect x="1776.2" y="771.25" width="0.8" height="4.25" fill="#c4c8d6"/><rect x="1779.4" y="774.49" width="0.8" height="1.01" fill="#c4c8d6"/><rect x="1782.6" y="775.5" width="0.8" height="1.92" fill="#c4c8d6"/><rect x="1785.8" y="775.5" width="0.8" height="3.77" fill="#c4c8d6"/><rect x="1789" y="775.5" width="0.8" height="3.52" fill="#c4c8d6"/><rect x="1792.2" y="775.5" width="0.8" height="2.48" fill="#c4c8d6"/><rect x="1795.4" y="775.5" width="0.8" height="2.39" fill="#c4c8d6"/><rect x="1798.6" y="775.5" width="0.8" height="1.87" fill="#c4c8d6"/><rect x="1801.8" y="775.5" width="0.8" height="1.72" fill="#c4c8d6"/><rect x="1805" y="775.5" width="0.8" height="1.4" fill="#c4c8d6"/><rect x="1808.2" y="775.5" width="0.8" height="1.89" fill="#c4c8d6"/><rect x="1811.4" y="775.5" width="0.8" height="0.4" fill="#c4c8d6"/><rect x="1814.6" y="772.85" width="0.8" height="2.65" fill="#c4c8d6"/><rect x="1817.8" y="770.52" width="0.8" height="4.98" fill="#c4c8d6"/><rect x="1821" y="768.96" width="0.8" height="6.54" fill="#c4c8d6"/><rect x="1824.2" y="766.4" width="0.8" height="9.1" fill="#c4c8d6"/><rect x="1827.4" y="766.45" width="0.8" height="9.05" fill="#c4c8d6"/><rect x="1830.6" y="765.63" width="0.8" height="9.87" fill="#c4c8d6"/><rect x="1833.8" y="764.18" width="0.8" height="11.32" fill="#c4c8d6"/><rect x="1837" y="762.05" width="0.8" height="13.45" fill="#c4c8d6"/><rect x="1840.2" y="757.32" width="0.8" height="18.18" fill="#c4c8d6"/><rect x="1843.4" y="754.46" width="0.8" height="21.04" fill="#c4c8d6"/><rect x="1846.6" y="753.39" width="0.8" height="22.11" fill="#c4c8d6"/><rect x="1849.8" y="753.37" width="0.8" height="22.13" fill="#c4c8d6"/><polyline points="0.6,775.5 3.8,776.52 7,776.6 10.2,774.51 13.4,773.73 16.6,775.72 19.8,775.15 23,773.99 26.2,771.02 29.4,768.75 32.6,766.72 35.8,764.26 39,762.21 42.2,760.68 45.4,757.19 48.6,755.64 51.8,756.01 55,759.24 58.2,761.64 61.4,763.48 64.6,765.25 67.8,766.89 71,768.98 74.2,768.62 77.4,767.51 80.6,766.34 83.8,765.07 87,763.43 90.2,763.18 93.4,762.48 96.6,762.59 99.8,765.68 103,766.13 106.2,766.6 109.4,766.09 112.6,764.7 115.8,762.05 119,759.09 122.2,757.41 125.4,758.83 128.6,760.19 131.8,761.37 135,762.85 138.2,763.95 141.4,763.72 144.6,764.45 147.8,766.57 151,766.06 154.2,767.79 157.4,767.41 160.6,768.5 163.8,768.72 167,768.26 170.2,769.47 173.4,767.12 176.6,764.47 179.8,763.1 183,760.61 186.2,760.26 189.4,760.64 192.6,761.5 195.8,762.91 199,763.39 202.2,763.12 205.4,762.99 208.6,765.16 211.8,768.74 215,770.84 218.2,773.63 221.4,777.08 224.6,781.96 227.8,787.27 231,791.36 234.2,792.89 237.4,794.29 240.6,794 243.8,792.84 247,792.26 250.2,792.01 253.4,792.59 256.6,793.5 259.8,794.59 263,793.61 266.2,790.56 269.4,787.99 272.6,784.94 275.8,781.33 279,779.35 282.2,776.99 285.4,775.13 288.6,774.57 291.8,774.74 295,776.08 298.2,776.82 301.4,777.03 304.6,776.94 307.8,775.41 311,774.1 314.2,773.35 317.4,771.98 320.6,771.31 323.8,771.32 327,773.22 330.2,775.33 333.4,777.89 336.6,780.64 339.8,781.36 343,782.1 346.2,783.5 349.4,785.88 352.6,787.09 355.8,788.14 359,789.54 362.2,789.76 365.4,788.81 368.6,788.07 371.8,785.7 375,784.16 378.2,782.56 381.4,781.82 384.6,783.86 387.8,786.56 391,789.8 394.2,790.56 397.4,790.57 400.6,791.9 403.8,790.84 407,788.34 410.2,785.76 413.4,783.98 416.6,782.13 419.8,780.66 423,780.53 426.2,779.78 429.4,777.52 432.6,776.09 435.8,774.6 439,774.04 442.2,772.96 445.4,770.95 448.6,769.31 451.8,767.91 455,766.37 458.2,766.34 461.4,768.75 464.6,768.56 467.8,767.75 471,765.69 474.2,763.32 477.4,760.48 480.6,757.62 483.8,756.31 487,754.07 490.2,752.15 493.4,750.65 496.6,749.7 499.8,747.82 503,745.95 506.2,743.46 509.4,744.59 512.6,746.06 515.8,749.07 519,750.77 522.2,755.65 525.4,761.45 528.6,768.87 531.8,776.67 535,781.66 538.2,789.67 541.4,797.95 544.6,809.2 547.8,810.29 551,810.75 554.2,805.98 557.4,797.86 560.6,792.77 563.8,781.26 567,765.97 570.2,745.88 573.4,731.28 576.6,720.1 579.8,715.25 583,716.43 586.2,725.04 589.4,737.62 592.6,744.59 595.8,751.06 599,753.82 602.2,752.98 605.4,750 608.6,747.36 611.8,749.63 615,750.6 618.2,754.63 621.4,758.47 624.6,761.49 627.8,767.06 631,768.08 634.2,766.37 637.4,767.02 640.6,766.46 643.8,764.83 647,763.03 650.2,761.01 653.4,761.03 656.6,762.04 659.8,763.38 663,766.97 666.2,772.01 669.4,775.74 672.6,776.46 675.8,775.53 679,773.23 682.2,773.09 685.4,773.06 688.6,771.19 691.8,770.81 695,769.4 698.2,768.11 701.4,766.72 704.6,769.56 707.8,771.98 711,775.8 714.2,777.56 717.4,777.22 720.6,777.01 723.8,780.64 727,783.5 730.2,788.04 733.4,792.46 736.6,797.83 739.8,802.44 743,807.48 746.2,813.67 749.4,817.34 752.6,820.86 755.8,824.45 759,828.27 762.2,827.3 765.4,824.3 768.6,823.57 771.8,820.87 775,817.87 778.2,813.09 781.4,808.03 784.6,806.9 787.8,807.15 791,804.37 794.2,801.42 797.4,797.99 800.6,795.19 803.8,793.38 807,792.64 810.2,791.58 813.4,791.08 816.6,792.16 819.8,791.77 823,793.75 826.2,793.44 829.4,793.83 832.6,794.41 835.8,796.17 839,798.16 842.2,798.28 845.4,799.71 848.6,801.33 851.8,805.23 855,808.98 858.2,812.35 861.4,816.8 864.6,823.03 867.8,826.95 871,831.8 874.2,836.63 877.4,837 880.6,836.59 883.8,836.62 887,838.1 890.2,838.7 893.4,835.44 896.6,831.22 899.8,827.09 903,825.35 906.2,823.42 909.4,822.05 912.6,821.7 915.8,823.35 919,820.61 922.2,819.39 925.4,815.69 928.6,811.8 931.8,809.87 935,808.52 938.2,806.46 941.4,807.97 944.6,809.41 947.8,809.37 951,807.41 954.2,804.89 957.4,802.35 960.6,798.82 963.8,793.78 967,790.94 970.2,787.69 973.4,785.77 976.6,784.77 979.8,783.88 983,783.17 986.2,783.37 989.4,782.9 992.6,779.04 995.8,774.83 999,769.52 1002.2,765.63 1005.4,761.57 1008.6,759.78 1011.8,760.88 1015,762.36 1018.2,763.67 1021.4,764.44 1024.6,766.91 1027.8,767.17 1031,768.4 1034.2,770.03 1037.4,773.83 1040.6,776.83 1043.8,776.5 1047,776.76 1050.2,775.39 1053.4,774.83 1056.6,775.12 1059.8,777.48 1063,781.46 1066.2,782.94 1069.4,785.13 1072.6,785.11 1075.8,785.18 1079,782.14 1082.2,778.33 1085.4,774.78 1088.6,771.89 1091.8,772.9 1095,773.21 1098.2,778.01 1101.4,783.04 1104.6,784.24 1107.8,785.72 1111,785.26 1114.2,785.1 1117.4,785.99 1120.6,787.36 1123.8,788.86 1127,790.12 1130.2,791.42 1133.4,791.62 1136.6,791.03 1139.8,792.31 1143,793.75 1146.2,794.52 1149.4,796.26 1152.6,796.03 1155.8,799.76 1159,803.29 1162.2,807.24 1165.4,809.35 1168.6,810.29 1171.8,810.23 1175,809.39 1178.2,809.15 1181.4,808.09 1184.6,808.11 1187.8,809.02 1191,810.6 1194.2,813.5 1197.4,814.54 1200.6,814.28 1203.8,810.95 1207,809.3 1210.2,807.57 1213.4,806.08 1216.6,805.88 1219.8,807.44 1223,806.46 1226.2,805.86 1229.4,806.93 1232.6,807.76 1235.8,806.09 1239,803.17 1242.2,798.34 1245.4,796.7 1248.6,793.8 1251.8,792.63 1255,787.98 1258.2,784.24 1261.4,782.71 1264.6,781.53 1267.8,782.44 1271,782.32 1274.2,781.46 1277.4,781.51 1280.6,779.57 1283.8,778.25 1287,776.85 1290.2,773.73 1293.4,771.19 1296.6,769.01 1299.8,765.23 1303,765.07 1306.2,765.25 1309.4,768.07 1312.6,770.36 1315.8,772.28 1319,773.64 1322.2,775.14 1325.4,775.01 1328.6,773.48 1331.8,774.15 1335,775.65 1338.2,778.14 1341.4,779.88 1344.6,781.43 1347.8,781.86 1351,778.61 1354.2,775.66 1357.4,774.6 1360.6,772.65 1363.8,768.17 1367,762.93 1370.2,756.95 1373.4,754.63 1376.6,753.96 1379.8,755.43 1383,755.62 1386.2,755.37 1389.4,755.05 1392.6,757.2 1395.8,757.06 1399,756.61 1402.2,757.17 1405.4,755.24 1408.6,752.7 1411.8,749.58 1415,748.2 1418.2,746.38 1421.4,743.68 1424.6,742.35 1427.8,743.21 1431,743.57 1434.2,746.3 1437.4,750.23 1440.6,752.98 1443.8,757.13 1447,759.96 1450.2,762.84 1453.4,766.43 1456.6,770.25 1459.8,773.05 1463,776.18 1466.2,780.7 1469.4,783.66 1472.6,786.27 1475.8,787.36 1479,790.28 1482.2,792.39 1485.4,793.6 1488.6,795.7 1491.8,796.79 1495,794.29 1498.2,793.81 1501.4,791.6 1504.6,789.75 1507.8,790.08 1511,793.35 1514.2,795.19 1517.4,797.12 1520.6,795.34 1523.8,794.11 1527,795.07 1530.2,795.92 1533.4,798.37 1536.6,798.14 1539.8,799.72 1543,798.8 1546.2,799.3 1549.4,800.2 1552.6,798.75 1555.8,798.15 1559,796.31 1562.2,796.07 1565.4,795.17 1568.6,794.4 1571.8,790.63 1575,789.26 1578.2,788.9 1581.4,788.15 1584.6,787.62 1587.8,787.02 1591,784.03 1594.2,782.07 1597.4,779.43 1600.6,773.56 1603.8,766.59 1607,759.09 1610.2,755.46 1613.4,753.89 1616.6,752.43 1619.8,751.5 1623,751.73 1626.2,750.66 1629.4,749.63 1632.6,747.92 1635.8,745.9 1639,746.14 1642.2,746.49 1645.4,745.68 1648.6,744.66 1651.8,745.87 1655,748.46 1658.2,750.09 1661.4,748.97 1664.6,750.53 1667.8,750.95 1671,750.89 1674.2,750.53 1677.4,749.92 1680.6,750.62 1683.8,751.17 1687,751.61 1690.2,753.6 1693.4,755.89 1696.6,759.07 1699.8,763.6 1703,766.42 1706.2,769.05 1709.4,770.97 1712.6,771.43 1715.8,771.95 1719,769.82 1722.2,767.28 1725.4,764.95 1728.6,764.13 1731.8,762.96 1735,764.64 1738.2,765.57 1741.4,763.85 1744.6,762.55 1747.8,759.73 1751,758.22 1754.2,759.6 1757.4,761.2 1760.6,763.13 1763.8,763.46 1767,765.85 1770.2,767.61 1773.4,769.35 1776.6,771.25 1779.8,774.49 1783,777.42 1786.2,779.27 1789.4,779.02 1792.6,777.98 1795.8,777.89 1799,777.37 1802.2,777.22 1805.4,776.9 1808.6,777.39 1811.8,775.9 1815,772.85 1818.2,770.52 1821.4,768.96 1824.6,766.4 1827.8,766.45 1831,765.63 1834.2,764.18 1837.4,762.05 1840.6,757.32 1843.8,754.46 1847,753.39 1850.2,753.37" fill="none" stroke="#ff1010" stroke-width="1.3" stroke-dasharray="1.2 2"/></g><g clip-path="url(#cst)"><line x1="1" y1="874" x2="1871" y2="874" stroke="#b8bccc" stroke-width="0.8" stroke-dasharray="2.4 1.6"/><line x1="1" y1="935.27" x2="1871" y2="935.27" stroke="#b8bccc" stroke-width="0.8" stroke-dasharray="2.4 1.6"/><polyline points="0.6,885 3.8,892 7,895 10.2,885 13.4,880.5 16.6,882.7 19.8,885.5 23,878 26.2,867 29.4,860 32.6,857 35.8,856 39,856 42.2,856 45.4,856 48.6,862 51.8,870 55,882 58.2,908.49 61.4,915.37 64.6,914.36 67.8,914.77 71,918.01 74.2,914.16 77.4,907.07 80.6,896.53 83.8,893.68 87,891.31 90.2,893.65 93.4,892.07 96.6,895.19 99.8,906.17 103,911.4 106.2,914.54 109.4,902.23 112.6,888.89 115.8,873.86 119,861.07 122.2,866.27 125.4,878.41 128.6,892.24 131.8,900.86 135,902.18 138.2,903.94 141.4,901.6 144.6,900.56 147.8,904.16 151,903.92 154.2,908.23 157.4,900.56 160.6,906.07 163.8,901.52 167,904.51 170.2,908.8 173.4,901.47 176.6,888.52 179.8,871.34 183,864.23 186.2,871.43 189.4,877.46 192.6,889.4 195.8,895.12 199,895.88 202.2,892.07 205.4,886.54 208.6,892.75 211.8,910.3 215,926.4 218.2,939.08 221.4,944.01 224.6,951.57 227.8,953.3 231,954.14 234.2,948.89 237.4,945.11 240.6,938.72 243.8,934.53 247,930.69 250.2,930.45 253.4,934.74 256.6,939.99 259.8,946.97 263,945.66 266.2,934.92 269.4,921.66 272.6,907.1 275.8,893.6 279,881.89 282.2,871.85 285.4,868.76 288.6,865.32 291.8,874.27 295,888.82 298.2,896.91 301.4,899.82 304.6,894.97 307.8,883.97 311,874.27 314.2,867.28 317.4,863.73 320.6,862.76 323.8,865.19 327,883.69 330.2,908.84 333.4,935.17 336.6,947.78 339.8,942.2 343,938.5 346.2,937.07 349.4,943.88 352.6,945.7 355.8,937.46 359,933.38 362.2,929.15 365.4,925.51 368.6,919.73 371.8,910.42 375,906.4 378.2,900.68 381.4,903.46 384.6,914.81 387.8,930.02 391,943.14 394.2,938.93 397.4,928.62 400.6,925.45 403.8,921.33 407,912.01 410.2,893.09 413.4,885.31 416.6,883 419.8,883.29 423,887.04 426.2,889.63 429.4,884.15 432.6,875.21 435.8,867.42 439,870.06 442.2,867.79 445.4,864.54 448.6,859.5 451.8,860.08 455,860.85 458.2,865.73 461.4,878.47 464.6,884.99 467.8,884.26 471,868.27 474.2,862.04 477.4,857.07 480.6,856.32 483.8,858.68 487,858.68 490.2,858.67 493.4,854.96 496.6,854.99 499.8,854.91 503,856.23 506.2,855.72 509.4,863.26 512.6,869.84 515.8,882.16 519,884.36 522.2,894.92 525.4,906.56 528.6,926.61 531.8,939.39 535,943.23 538.2,947.9 541.4,947.38 544.6,949.26 547.8,936.84 551,928.09 554.2,911.96 557.4,900.25 560.6,890.58 563.8,877.44 567,871.19 570.2,860.85 573.4,861.06 576.6,859.32 579.8,863.18 583,869.35 586.2,881.64 589.4,895.61 592.6,903.16 595.8,905.35 599,900.92 602.2,896.55 605.4,889.46 608.6,884.63 611.8,887.08 615,891.41 618.2,902.01 621.4,908.85 624.6,919.6 627.8,928.13 631,931.42 634.2,928.8 637.4,922.32 640.6,917.62 643.8,913.3 647,899.62 650.2,884.85 653.4,876.17 656.6,880.96 659.8,891.26 663,906.55 666.2,922.94 669.4,936.7 672.6,935.12 675.8,921.3 679,903.28 682.2,897.94 685.4,898.38 688.6,897.72 691.8,895.08 695,888.27 698.2,886.95 701.4,880.59 704.6,891.13 707.8,902.99 711,922.75 714.2,925.39 717.4,920.28 720.6,907.89 723.8,914.04 727,929.53 730.2,946.97 733.4,946.18 736.6,949.5 739.8,948.49 743,951.11 746.2,949.98 749.4,948.27 752.6,947.69 755.8,948.15 759,949.35 762.2,943.61 765.4,935.06 768.6,929.84 771.8,927.15 775,926.42 778.2,920 781.4,914.69 784.6,914.92 787.8,919.48 791,920.57 794.2,912.54 797.4,898.39 800.6,886.64 803.8,879.2 807,878.35 810.2,881.02 813.4,884.77 816.6,891.01 819.8,894.75 823,907.27 826.2,911.74 829.4,925.19 832.6,927.97 835.8,940.49 839,944.36 842.2,941.34 845.4,939.25 848.6,942.73 851.8,949.66 855,950.94 858.2,949.91 861.4,951.73 864.6,951.69 867.8,951.38 871,950.92 874.2,952.58 877.4,947.57 880.6,941.47 883.8,936.1 887,940.8 890.2,945.59 893.4,943.87 896.6,937 899.8,928.91 903,929.85 906.2,932.52 909.4,937.23 912.6,940.19 915.8,944.73 919,940.69 922.2,936.38 925.4,922.67 928.6,912.93 931.8,902.63 935,904.75 938.2,910.27 941.4,923.03 944.6,933.69 947.8,939.77 951,928.31 954.2,915.85 957.4,908.08 960.6,901.31 963.8,890.03 967,880.86 970.2,872.27 973.4,873.14 976.6,875.13 979.8,880.24 983,882.79 986.2,886.19 989.4,887.61 992.6,877.78 995.8,865.78 999,856.11 1002.2,858.64 1005.4,859 1008.6,863.05 1011.8,871.17 1015,884.31 1018.2,897.28 1021.4,900.87 1024.6,905.99 1027.8,904.79 1031,907.87 1034.2,907.42 1037.4,921.77 1040.6,933.06 1043.8,932.34 1047,924.82 1050.2,911.82 1053.4,910 1056.6,911.33 1059.8,926.88 1063,941.68 1066.2,943.33 1069.4,941.48 1072.6,933.55 1075.8,930.24 1079,908.97 1082.2,889.37 1085.4,867.17 1088.6,863.49 1091.8,876.84 1095,889.87 1098.2,918 1101.4,934.29 1104.6,940.72 1107.8,933.92 1111,921.98 1114.2,920.23 1117.4,920.01 1120.6,927.16 1123.8,935.08 1127,940.18 1130.2,944.27 1133.4,944.52 1136.6,940.68 1139.8,941.41 1143,944.92 1146.2,949.63 1149.4,951.63 1152.6,945.88 1155.8,949 1159,948.98 1162.2,953.49 1165.4,949.15 1168.6,944.15 1171.8,940.11 1175,936.94 1178.2,936.43 1181.4,935.27 1184.6,938.44 1187.8,943.33 1191,950.01 1194.2,953.91 1197.4,952.26 1200.6,949.2 1203.8,938.36 1207,931.6 1210.2,925.94 1213.4,929.74 1216.6,933.75 1219.8,941.74 1223,942.32 1226.2,938.2 1229.4,937.09 1232.6,942.82 1235.8,940.65 1239,927.05 1242.2,906.06 1245.4,900.24 1248.6,894.13 1251.8,903.05 1255,888.75 1258.2,880.12 1261.4,872.18 1264.6,877.9 1267.8,891.17 1271,895.6 1274.2,897.47 1277.4,894.84 1280.6,887.42 1283.8,883.79 1287,875.59 1290.2,868.66 1293.4,864.57 1296.6,861.56 1299.8,861.67 1303,869.04 1306.2,878.63 1309.4,902.9 1312.6,916.26 1315.8,929.88 1319,931.7 1322.2,933.07 1325.4,928.12 1328.6,917.39 1331.8,913.26 1335,919.93 1338.2,937.59 1341.4,944.39 1344.6,947.27 1347.8,938.92 1351,919.6 1354.2,899.83 1357.4,890.23 1360.6,889.36 1363.8,880.02 1367,867.71 1370.2,858.03 1373.4,863.54 1376.6,869.47 1379.8,882.16 1383,885.8 1386.2,885.63 1389.4,880.25 1392.6,883.2 1395.8,882.68 1399,881.64 1402.2,876.96 1405.4,870.9 1408.6,864.34 1411.8,856.33 1415,856.71 1418.2,856.79 1421.4,857.25 1424.6,857.74 1427.8,865.36 1431,871.61 1434.2,882.29 1437.4,891.78 1440.6,901.51 1443.8,910.08 1447,911.7 1450.2,917.02 1453.4,920.5 1456.6,929.07 1459.8,937.6 1463,945.69 1466.2,950.89 1469.4,949.54 1472.6,946.96 1475.8,942.18 1479,946.5 1482.2,948.25 1485.4,951.45 1488.6,951.21 1491.8,949.86 1495,941.13 1498.2,933.78 1501.4,922.9 1504.6,920.04 1507.8,919.2 1511,933.73 1514.2,943.78 1517.4,947.89 1520.6,933.77 1523.8,923.41 1527,920.81 1530.2,930.24 1533.4,943.04 1536.6,939.05 1539.8,943.07 1543,935.07 1546.2,940.7 1549.4,939.64 1552.6,939.46 1555.8,936.76 1559,928.62 1562.2,932.84 1565.4,932.24 1568.6,936.27 1571.8,921.12 1575,912.12 1578.2,904.88 1581.4,915.95 1584.6,919.97 1587.8,918.62 1591,903.51 1594.2,888.07 1597.4,866.72 1600.6,861.36 1603.8,856.06 1607,855.46 1610.2,861.25 1613.4,868.84 1616.6,875.65 1619.8,877.25 1623,877.73 1626.2,875.48 1629.4,872.54 1632.6,864.44 1635.8,859.63 1639,861.89 1642.2,866.49 1645.4,867.96 1648.6,863.5 1651.8,863.39 1655,870.66 1658.2,877.39 1661.4,872.91 1664.6,871.72 1667.8,869.28 1671,875.32 1674.2,868.32 1677.4,865.99 1680.6,871.05 1683.8,873.77 1687,876.4 1690.2,882.41 1693.4,894.24 1696.6,914.64 1699.8,933.24 1703,940.28 1706.2,942.45 1709.4,936.79 1712.6,931.92 1715.8,925.98 1719,908.42 1722.2,891.67 1725.4,872.21 1728.6,869.78 1731.8,868.74 1735,882 1738.2,888.38 1741.4,885.34 1744.6,871.11 1747.8,857.31 1751,860.46 1754.2,871.11 1757.4,884.64 1760.6,896.45 1763.8,894.71 1767,899.32 1770.2,901.27 1773.4,909.15 1776.6,914.13 1779.8,929.16 1783,942.19 1786.2,946.34 1789.4,934.9 1792.6,923.36 1795.8,916.55 1799,914.66 1802.2,917.12 1805.4,915.79 1808.6,919.2 1811.8,914.09 1815,900.38 1818.2,881 1821.4,868.77 1824.6,863.25 1827.8,868.84 1831,869.01 1834.2,869.48 1837.4,861.96 1840.6,857.56 1843.8,859.85 1847,863.86 1850.2,870.89" fill="none" stroke="#74c8f0" stroke-width="1.1" stroke-linejoin="round"/><polyline points="0.6,882 3.8,887 7,891 10.2,889 13.4,885 16.6,884.5 19.8,884.3 23,884 26.2,877 29.4,868 32.6,862 35.8,858 39,858 42.2,858 45.4,858 48.6,860 51.8,866 55,876 58.2,899.46 61.4,909.97 64.6,913.72 67.8,914.73 71,916.32 74.2,915.54 77.4,911.25 80.6,902.98 83.8,896.86 87,892.97 90.2,892.87 93.4,892.47 96.6,893.89 99.8,900.16 103,906.96 106.2,912.1 109.4,907.86 112.6,897.61 115.8,883.6 119,869.97 122.2,865.8 125.4,871.48 128.6,883.3 131.8,894.25 135,900.09 138.2,902.84 141.4,902.48 144.6,901.47 147.8,902.53 151,903.44 154.2,906.11 157.4,903.68 160.6,904.6 163.8,902.88 167,903.77 170.2,906.15 173.4,904.42 176.6,896.22 179.8,882.09 183,870.65 186.2,869.01 189.4,873.24 192.6,882.42 195.8,890.27 199,894.54 202.2,893.85 205.4,889.94 208.6,890.56 211.8,900.49 215,915.43 218.2,930.06 221.4,939.43 224.6,946.97 227.8,951.17 231,953.43 234.2,951.37 237.4,947.88 240.6,942.55 243.8,937.69 247,933.31 250.2,931.21 253.4,932.63 256.6,936.65 259.8,942.6 263,945.15 266.2,940.51 269.4,930.08 272.6,916.59 275.8,902.78 279,890 282.2,878.82 285.4,871.98 288.6,867.56 291.8,870.37 295,880.06 298.2,890.44 301.4,897.02 304.6,896.91 307.8,890.28 311,880.95 314.2,872.39 317.4,866.67 320.6,863.83 323.8,864.14 327,874.04 330.2,893.18 333.4,917.81 336.6,937.09 339.8,942.89 343,941.28 346.2,938.4 349.4,940.71 352.6,943.65 355.8,941.28 359,936.79 362.2,931.94 365.4,928.04 368.6,923.23 371.8,916.04 375,909.96 378.2,904.21 381.4,903.02 384.6,908.67 387.8,920.53 391,934.05 394.2,938.85 397.4,934.48 400.6,928.75 403.8,923.92 407,917.35 410.2,904.1 413.4,892.35 416.6,885.45 419.8,883.53 423,885.11 426.2,887.71 429.4,886.46 432.6,880.59 435.8,872.8 439,870.04 442.2,868.48 445.4,866.54 448.6,862.56 451.8,860.63 455,860.37 458.2,863.16 461.4,871.29 464.6,879.61 467.8,883.54 471,876.39 474.2,867.82 477.4,860.59 480.6,857.53 483.8,857.63 487,858.29 490.2,858.68 493.4,856.82 496.6,855.59 499.8,854.94 503,855.58 506.2,855.75 509.4,859.57 512.6,865.29 515.8,874.9 519,881.21 522.2,889.27 525.4,898.98 528.6,914.64 531.8,929.66 535,939.18 538.2,944.92 541.4,946.86 544.6,948.4 547.8,942.73 551,934.53 554.2,921.48 557.4,908.8 560.6,897.37 563.8,885.62 567,876.51 570.2,867.06 573.4,862.68 576.6,860.15 579.8,861.54 583,865.62 586.2,874.47 589.4,886.58 592.6,897.06 595.8,903 599,902.77 602.2,899.48 605.4,893.73 608.6,888.23 611.8,886.66 615,888.83 618.2,895.99 621.4,903.66 624.6,913.09 627.8,922.07 631,928.35 634.2,929.56 637.4,926 640.6,921.05 643.8,916.25 647,907.18 650.2,894.52 653.4,882.97 656.6,880.01 659.8,885.31 663,897.19 666.2,912.2 669.4,927.09 672.6,933.62 675.8,928.47 679,914.59 682.2,903.61 685.4,899.05 688.6,897.97 691.8,896.51 695,892.12 698.2,888.75 701.4,883.99 704.6,886.92 707.8,895.3 711,910.89 714.2,920.78 717.4,922.39 720.6,914.94 723.8,913.03 727,920.76 730.2,935.67 733.4,943.67 736.6,947.97 739.8,948.44 743,949.97 746.2,950.11 749.4,949.31 752.6,948.27 755.8,948.02 759,948.67 762.2,946.28 765.4,940.29 768.6,933.87 771.8,929.37 775,927.23 778.2,923.33 781.4,918.41 784.6,915.69 787.8,917.16 791,919.26 794.2,916.37 797.4,906.8 800.6,894.87 803.8,884.88 807,880.02 810.2,879.83 813.4,882.45 816.6,887.26 819.8,891.84 823,900.39 826.2,907.42 829.4,917.72 832.6,924.34 835.8,933.77 839,940.34 842.2,942.21 845.4,940.8 848.6,941.34 851.8,945.62 855,949.15 858.2,950.21 861.4,950.99 864.6,951.41 867.8,951.54 871,951.2 874.2,951.82 877.4,949.8 880.6,945.36 883.8,939.8 887,939.35 890.2,942.41 893.4,943.93 896.6,940.72 899.8,934.1 903,930.73 906.2,931.03 909.4,934.43 912.6,937.93 915.8,941.97 919,941.95 922.2,939.21 925.4,930.24 928.6,920.08 931.8,909.4 935,905.41 938.2,907.16 941.4,915.73 944.6,926.24 947.8,934.95 951,933.02 954.2,923.99 957.4,914.04 960.6,905.99 963.8,896.8 967,887.32 970.2,878.09 973.4,874.14 976.6,873.99 979.8,877.35 983,880.66 986.2,884.07 989.4,886.34 992.6,882.46 995.8,873.42 999,862.95 1002.2,858.99 1005.4,858.4 1008.6,860.96 1011.8,866.43 1015,876.39 1018.2,888.61 1021.4,896.91 1024.6,902.83 1027.8,904.53 1031,906.53 1034.2,907.13 1037.4,914.67 1040.6,925.02 1043.8,930.82 1047,928.7 1050.2,919.57 1053.4,913.08 1056.6,910.97 1059.8,918.89 1063,931.69 1066.2,940.04 1069.4,942.13 1072.6,937.82 1075.8,933.22 1079,920.16 1082.2,902.71 1085.4,881.53 1088.6,869.03 1091.8,870.78 1095,881.13 1098.2,901.76 1101.4,921.46 1104.6,934.79 1107.8,936.25 1111,929.08 1114.2,923.1 1117.4,920.41 1120.6,923.62 1123.8,929.93 1127,936.31 1130.2,941.37 1133.4,943.72 1136.6,942.56 1139.8,941.69 1143,943.04 1146.2,946.69 1149.4,949.85 1152.6,948.42 1155.8,948.4 1159,948.47 1162.2,951.24 1165.4,950.57 1168.6,947.37 1171.8,942.96 1175,939.2 1178.2,937.21 1181.4,935.94 1184.6,937.05 1187.8,940.36 1191,945.86 1194.2,950.85 1197.4,952.44 1200.6,951.01 1203.8,944.29 1207,936.79 1210.2,929.9 1213.4,928.78 1216.6,931.11 1219.8,937.08 1223,940.69 1226.2,940.16 1229.4,938.33 1232.6,940.14 1235.8,940.78 1239,934.21 1242.2,918.82 1245.4,906.65 1248.6,898.15 1251.8,899.61 1255,894.41 1258.2,886.82 1261.4,877.59 1264.6,876.36 1267.8,883.58 1271,891.17 1274.2,895.8 1277.4,895.84 1280.6,891.57 1283.8,886.84 1287,880.29 1290.2,873.49 1293.4,867.77 1296.6,863.75 1299.8,862.11 1303,865.34 1306.2,872.6 1309.4,889.17 1312.6,905.53 1315.8,920.84 1319,928.52 1322.2,932.08 1325.4,930.37 1328.6,923.58 1331.8,917.12 1335,917.29 1338.2,927.65 1341.4,938.05 1344.6,944.7 1347.8,942.62 1351,930.65 1354.2,912.94 1357.4,898.33 1360.6,891.4 1363.8,884.83 1367,875.42 1370.2,864.92 1373.4,862.4 1376.6,865.59 1379.8,874.83 1383,881.87 1386.2,885.11 1389.4,882.97 1392.6,882.62 1395.8,882.45 1399,882.25 1402.2,879.47 1405.4,874.71 1408.6,868.63 1411.8,861.43 1415,857.86 1418.2,856.69 1421.4,857.01 1424.6,857.42 1427.8,861.47 1431,867.21 1434.2,875.91 1437.4,885.25 1440.6,895.06 1443.8,904.17 1447,909.46 1450.2,914.09 1453.4,917.87 1456.6,924.2 1459.8,931.91 1463,940.22 1466.2,946.94 1469.4,949.35 1472.6,948.48 1475.8,945 1479,945.14 1482.2,946.65 1485.4,949.56 1488.6,950.8 1491.8,950.58 1495,945.72 1498.2,938.91 1501.4,929.56 1504.6,923.29 1507.8,920.1 1511,926.61 1514.2,936.33 1517.4,944.16 1520.6,940.14 1523.8,930.94 1527,923.84 1530.2,925.96 1533.4,935.07 1536.6,938.91 1539.8,941.72 1543,938.4 1546.2,939.22 1549.4,939.23 1552.6,939.73 1555.8,938.14 1559,933.14 1562.2,932.09 1565.4,931.84 1568.6,934.35 1571.8,928.02 1575,919.14 1578.2,910 1581.4,911.62 1584.6,916.11 1587.8,918.62 1591,911.29 1594.2,898.31 1597.4,879.97 1600.6,867.6 1603.8,859.61 1607,856.65 1610.2,858.46 1613.4,864.08 1616.6,870.98 1619.8,875.32 1623,877.22 1626.2,876.53 1629.4,874.38 1632.6,868.98 1635.8,863.39 1639,861.56 1642.2,863.81 1645.4,866.46 1648.6,865.48 1651.8,864.19 1655,867.04 1658.2,872.81 1661.4,874.03 1664.6,873.06 1667.8,870.7 1671,872.7 1674.2,870.81 1677.4,868.32 1680.6,868.91 1683.8,871.57 1687,874.63 1690.2,878.97 1693.4,887.33 1696.6,902.47 1699.8,920.54 1703,933.66 1706.2,940.19 1709.4,939.26 1712.6,935.3 1715.8,929.76 1719,918.19 1722.2,902.97 1725.4,884.73 1728.6,874.24 1731.8,869.67 1735,875.55 1738.2,882.98 1741.4,885.8 1744.6,878.73 1747.8,866.58 1751,861.19 1754.2,865.26 1757.4,876.1 1760.6,888.29 1763.8,893.61 1767,897.31 1770.2,899.53 1773.4,904.88 1776.6,910.32 1779.8,920.82 1783,933.17 1786.2,942.1 1789.4,939.93 1792.6,931.04 1795.8,921.88 1799,916.74 1802.2,916.2 1805.4,916.05 1808.6,917.72 1811.8,916.08 1815,908.09 1818.2,892.98 1821.4,878.11 1824.6,868.05 1827.8,866.96 1831,867.99 1834.2,869.22 1837.4,865.64 1840.6,861.01 1843.8,859.44 1847,861.47 1850.2,866.7" fill="none" stroke="#ff0000" stroke-width="1.4" stroke-linejoin="round"/></g><defs><linearGradient id="tg" x1="0" y1="0" x2="0" y2="1"><stop offset="0" stop-color="#efefef"/><stop offset="0.35" stop-color="#b8b8b6"/><stop offset="1" stop-color="#0e1b4c"/></linearGradient></defs><rect x="0" y="0" width="1915" height="1.0" fill="#efefef"/><rect x="0" y="1.0" width="1915" height="1.9" fill="url(#tg)"/><rect x="0" y="2.9" width="1915" height="1.2" fill="#0e1b4c"/><rect x="0" y="4.1" width="1871" height="1" fill="#c3c8dc"/><rect x="0" y="4" width="1.1" height="955.7" fill="#c8ccd8"/><polygon points="1,951.5 1,956.3 5.3,956.3" fill="#f4f4f8"/><rect x="1870" y="4" width="1.9" height="952.5" fill="#7d85a8"/><rect x="0" y="699.9" width="1871" height="1.1" fill="#c3c8dc"/><rect x="0" y="701" width="1871" height="1.9" fill="#7d85a8"/><rect x="0" y="851" width="1871" height="1.2" fill="#c3c8dc"/><rect x="0" y="852.9" width="1871" height="1.2" fill="#c3c8dc"/><rect x="0" y="955.9" width="1871" height="1.2" fill="#c3c8dc"/><rect x="0" y="973.6" width="1915" height="1.6" fill="#0c1848"/><rect x="0" y="975.2" width="1915" height="1.8" fill="#c9c9c9"/><polygon points="1493.4,4.5 1503.2,4.5 1498.3,9.8" fill="#f2f2f6"/><rect x="1871.5" y="21.8" width="3.4" height="1" fill="#aab0c8"/><rect x="1871.5" y="48.91" width="3.4" height="1" fill="#aab0c8"/><rect x="1871.5" y="76.02" width="3.4" height="1" fill="#aab0c8"/><rect x="1871.5" y="103.13" width="3.4" height="1" fill="#aab0c8"/><rect x="1871.5" y="130.24" width="3.4" height="1" fill="#aab0c8"/><rect x="1871.5" y="157.35" width="3.4" height="1" fill="#aab0c8"/><rect x="1871.5" y="184.46" width="3.4" height="1" fill="#aab0c8"/><rect x="1871.5" y="211.57" width="3.4" height="1" fill="#aab0c8"/><rect x="1871.5" y="238.68" width="3.4" height="1" fill="#aab0c8"/><rect x="1871.5" y="265.79" width="3.4" height="1" fill="#aab0c8"/><rect x="1871.5" y="292.89" width="3.4" height="1" fill="#aab0c8"/><rect x="1871.5" y="320" width="3.4" height="1" fill="#aab0c8"/><rect x="1871.5" y="347.11" width="3.4" height="1" fill="#aab0c8"/><rect x="1871.5" y="374.22" width="3.4" height="1" fill="#aab0c8"/><rect x="1871.5" y="401.33" width="3.4" height="1" fill="#aab0c8"/><rect x="1871.5" y="428.44" width="3.4" height="1" fill="#aab0c8"/><rect x="1871.5" y="455.55" width="3.4" height="1" fill="#aab0c8"/><rect x="1871.5" y="482.66" width="3.4" height="1" fill="#aab0c8"/><rect x="1871.5" y="509.77" width="3.4" height="1" fill="#aab0c8"/><rect x="1871.5" y="536.88" width="3.4" height="1" fill="#aab0c8"/><rect x="1871.5" y="563.99" width="3.4" height="1" fill="#aab0c8"/><rect x="1871.5" y="591.1" width="3.4" height="1" fill="#aab0c8"/><rect x="1871.5" y="618.21" width="3.4" height="1" fill="#aab0c8"/><rect x="1871.5" y="645.32" width="3.4" height="1" fill="#aab0c8"/><rect x="1871.5" y="701.8" width="3.4" height="1" fill="#aab0c8"/><rect x="1871.5" y="775" width="3.4" height="1" fill="#aab0c8"/><rect x="1871.5" y="850" width="3.4" height="1" fill="#aab0c8"/><rect x="1871.5" y="853.3" width="3.4" height="1" fill="#aab0c8"/><rect x="1871.5" y="873.5" width="3.4" height="1" fill="#aab0c8"/><rect x="1871.5" y="935.3" width="3.4" height="1" fill="#aab0c8"/><rect x="1871.5" y="955.2" width="3.4" height="1" fill="#aab0c8"/><rect x="102.5" y="956.5" width="1" height="3.2" fill="#7d85a8"/><rect x="204.9" y="956.5" width="1" height="3.2" fill="#7d85a8"/><rect x="307.3" y="956.5" width="1" height="3.2" fill="#7d85a8"/><rect x="409.7" y="956.5" width="1" height="3.2" fill="#7d85a8"/><rect x="512.1" y="956.5" width="1" height="3.2" fill="#7d85a8"/><rect x="614.5" y="956.5" width="1" height="3.2" fill="#7d85a8"/><rect x="716.9" y="956.5" width="1" height="3.2" fill="#7d85a8"/><rect x="819.3" y="956.5" width="1" height="3.2" fill="#7d85a8"/><rect x="921.7" y="956.5" width="1" height="3.2" fill="#7d85a8"/><rect x="1024.1" y="956.5" width="1" height="3.2" fill="#7d85a8"/><rect x="1126.5" y="956.5" width="1" height="3.2" fill="#7d85a8"/><rect x="1228.9" y="956.5" width="1" height="3.2" fill="#7d85a8"/><rect x="1331.3" y="956.5" width="1" height="3.2" fill="#7d85a8"/><rect x="1433.7" y="956.5" width="1" height="3.2" fill="#7d85a8"/><rect x="1536.1" y="956.5" width="1" height="3.2" fill="#7d85a8"/><rect x="1638.5" y="956.5" width="1" height="3.2" fill="#7d85a8"/><rect x="1740.9" y="956.5" width="1" height="3.2" fill="#7d85a8"/><rect x="1843.3" y="956.5" width="1" height="3.2" fill="#7d85a8"/></svg><svg class="ov" width="1915" height="977" viewBox="0 0 1915 977" font-family="&quot;Liberation Sans&quot;, sans-serif" text-rendering="geometricPrecision"><text transform="translate(1875.8,25.2) scale(0.938,1)" font-size="10.4" fill="#ccd0de" text-anchor="start" >102.85</text><text transform="translate(1875.8,52.31) scale(0.938,1)" font-size="10.4" fill="#ccd0de" text-anchor="start" >102.30</text><text transform="translate(1875.8,79.42) scale(0.938,1)" font-size="10.4" fill="#ccd0de" text-anchor="start" >101.75</text><text transform="translate(1875.8,106.53) scale(0.938,1)" font-size="10.4" fill="#ccd0de" text-anchor="start" >101.20</text><text transform="translate(1875.8,133.64) scale(0.938,1)" font-size="10.4" fill="#ccd0de" text-anchor="start" >100.65</text><text transform="translate(1875.8,160.75) scale(0.938,1)" font-size="10.4" fill="#ccd0de" text-anchor="start" >100.10</text><text transform="translate(1875.8,187.86) scale(0.938,1)" font-size="10.4" fill="#ccd0de" text-anchor="start" >99.55</text><text transform="translate(1875.8,214.97) scale(0.938,1)" font-size="10.4" fill="#ccd0de" text-anchor="start" >99.00</text><text transform="translate(1875.8,242.08) scale(0.938,1)" font-size="10.4" fill="#ccd0de" text-anchor="start" >98.45</text><text transform="translate(1875.8,269.19) scale(0.938,1)" font-size="10.4" fill="#ccd0de" text-anchor="start" >97.90</text><text transform="translate(1875.8,296.29) scale(0.938,1)" font-size="10.4" fill="#ccd0de" text-anchor="start" >97.35</text><text transform="translate(1875.8,323.4) scale(0.938,1)" font-size="10.4" fill="#ccd0de" text-anchor="start" >96.80</text><text transform="translate(1875.8,350.51) scale(0.938,1)" font-size="10.4" fill="#ccd0de" text-anchor="start" >96.25</text><text transform="translate(1875.8,377.62) scale(0.938,1)" font-size="10.4" fill="#ccd0de" text-anchor="start" >95.70</text><text transform="translate(1875.8,404.73) scale(0.938,1)" font-size="10.4" fill="#ccd0de" text-anchor="start" >95.15</text><text transform="translate(1875.8,431.84) scale(0.938,1)" font-size="10.4" fill="#ccd0de" text-anchor="start" >94.60</text><text transform="translate(1875.8,458.95) scale(0.938,1)" font-size="10.4" fill="#ccd0de" text-anchor="start" >94.05</text><text transform="translate(1875.8,486.06) scale(0.938,1)" font-size="10.4" fill="#ccd0de" text-anchor="start" >93.50</text><text transform="translate(1875.8,513.17) scale(0.938,1)" font-size="10.4" fill="#ccd0de" text-anchor="start" >92.95</text><text transform="translate(1875.8,540.28) scale(0.938,1)" font-size="10.4" fill="#ccd0de" text-anchor="start" >92.40</text><text transform="translate(1875.8,567.39) scale(0.938,1)" font-size="10.4" fill="#ccd0de" text-anchor="start" >91.85</text><text transform="translate(1875.8,594.5) scale(0.938,1)" font-size="10.4" fill="#ccd0de" text-anchor="start" >91.30</text><text transform="translate(1875.8,621.61) scale(0.938,1)" font-size="10.4" fill="#ccd0de" text-anchor="start" >90.75</text><text transform="translate(1875.8,648.72) scale(0.938,1)" font-size="10.4" fill="#ccd0de" text-anchor="start" >90.20</text><rect x="1872.9" y="427.95" width="32.2" height="11.3" fill="#ff0000"/><text transform="translate(1875.8,436.5) scale(0.938,1)" font-size="10.4" fill="#8a0000" text-anchor="start" >94.49</text><rect x="1872.9" y="457.55" width="32.2" height="11.3" fill="#26a69a"/><text transform="translate(1875.8,466.1) scale(0.938,1)" font-size="10.4" fill="#0d4f4a" text-anchor="start" >93.92</text><rect x="1872.9" y="466.75" width="32.2" height="11.3" fill="#ff0000"/><text transform="translate(1875.8,475.3) scale(0.938,1)" font-size="10.4" fill="#8a0000" text-anchor="start" >93.71</text><rect x="1872.9" y="480.65" width="32.2" height="11.3" fill="#ff0000"/><text transform="translate(1875.8,489.2) scale(0.938,1)" font-size="10.4" fill="#8a0000" text-anchor="start" >93.43</text><rect x="1872.9" y="649.65" width="32.2" height="11.3" fill="#ff0000"/><text transform="translate(1875.8,658.2) scale(0.938,1)" font-size="10.4" fill="#8a0000" text-anchor="start" >90.00</text><rect x="1872.9" y="671.25" width="32.2" height="11.3" fill="#ff0000"/><text transform="translate(1875.8,679.8) scale(0.938,1)" font-size="10.4" fill="#8a0000" text-anchor="start" >89.57</text><g><rect x="3.8" y="7.8" width="14.6" height="12.3" fill="#eceef6"/><rect x="3.8" y="7.8" width="7.4" height="2.5" fill="#9a98f8"/><rect x="11.2" y="7.8" width="7.2" height="2.5" fill="#b4b8e0"/><rect x="4.8" y="11" width="1.1" height="8.3" fill="#fde0d0"/><rect x="5.9" y="11.9" width="5" height="7.3" fill="#f4a898"/><rect x="11.3" y="10.8" width="6.3" height="8.6" fill="#d0e0f8"/><rect x="12" y="11.9" width="3.9" height="7.2" fill="#8c8cf4"/></g><text x="25.8" y="20" font-size="10.4" fill="#ccd0de" text-anchor="start"  textLength="133.2" lengthAdjust="spacingAndGlyphs">[USDX], Daily:&#160; US Dollar Index</text><polygon points="6.3,662.5 14.9,662.5 10.6,669.2" fill="#ff0000"/><text x="18" y="670.5" font-size="10" fill="#e0121e" text-anchor="start"  textLength="132.4" lengthAdjust="spacingAndGlyphs">Monthly Change: -0.36%</text><polygon points="6.3,674.4 14.9,674.4 10.6,681.1" fill="#ff0000"/><text x="18" y="682.4" font-size="10" fill="#e0121e" text-anchor="start"  textLength="128.2" lengthAdjust="spacingAndGlyphs">Weekly Change: -0.15%</text><polygon points="6.3,686.3 14.9,686.3 10.6,693" fill="#ff0000"/><text x="18" y="694.3" font-size="10" fill="#e0121e" text-anchor="start"  textLength="115.2" lengthAdjust="spacingAndGlyphs">Daily Change: -0.15%</text><g><rect x="1753.8" y="684.9" width="29.5" height="13" fill="#8a92b6"/><rect x="1753.85" y="684.9" width="1.9" height="13" fill="#fbfbfd"/><rect x="1757.09" y="684.9" width="1.9" height="13" fill="#fbfbfd"/><rect x="1760.33" y="684.9" width="1.9" height="13" fill="#fbfbfd"/><rect x="1763.57" y="684.9" width="1.9" height="13" fill="#fbfbfd"/><rect x="1766.81" y="684.9" width="1.9" height="13" fill="#fbfbfd"/><rect x="1770.05" y="684.9" width="1.9" height="13" fill="#fbfbfd"/><rect x="1773.29" y="684.9" width="1.9" height="13" fill="#f8c8b0"/><rect x="1776.53" y="684.9" width="1.9" height="13" fill="#fbfbfd"/><rect x="1779.77" y="684.9" width="1.9" height="13" fill="#fbfbfd"/><polygon points="1783,684.9 1810,684.9 1812.8,691.3 1810,697.9 1783,697.9" fill="#f6f6fa"/></g><text x="1784.5" y="695.3" font-size="10.4" fill="#3a2a40" text-anchor="start" >19:30</text><text x="2.5" y="714.3" font-size="10.4" fill="#ccd0de" text-anchor="start"  textLength="125.4" lengthAdjust="spacingAndGlyphs">MACD(12,26,1) 0.368 0.368</text><text transform="translate(1875.8,710.5) scale(0.938,1)" font-size="10.4" fill="#ccd0de" text-anchor="start" >1.219</text><text transform="translate(1875.8,778.4) scale(0.938,1)" font-size="10.4" fill="#ccd0de" text-anchor="start" >0.000</text><text transform="translate(1875.8,849.2) scale(0.938,1)" font-size="10.4" fill="#ccd0de" text-anchor="start" >-1.265</text><rect x="1.1" y="854.1" width="123" height="13.1" fill="#112055"/><text x="2.5" y="866.1" font-size="10.4" fill="#ccd0de" text-anchor="start"  textLength="120.4" lengthAdjust="spacingAndGlyphs">Stoch(20,3,3) 82.97 87.19</text><text transform="translate(1875.8,861.8) scale(0.938,1)" font-size="10.4" fill="#ccd0de" text-anchor="start" >100.00</text><text transform="translate(1875.8,876.9) scale(0.938,1)" font-size="10.4" fill="#ccd0de" text-anchor="start" >80.00</text><text transform="translate(1875.8,938.7) scale(0.938,1)" font-size="10.4" fill="#ccd0de" text-anchor="start" >20.00</text><text transform="translate(1875.8,953.7) scale(0.938,1)" font-size="10.4" fill="#ccd0de" text-anchor="start" >0.00</text><text transform="translate(0.7,969) scale(0.96,1)" font-size="10.4" fill="#ccd0de" text-anchor="start" >11 Jul 2019</text><text transform="translate(102.5,969) scale(0.96,1)" font-size="10.4" fill="#ccd0de" text-anchor="start" >26 Aug 2019</text><text transform="translate(204.9,969) scale(0.96,1)" font-size="10.4" fill="#ccd0de" text-anchor="start" >9 Oct 2019</text><text transform="translate(307.3,969) scale(0.96,1)" font-size="10.4" fill="#ccd0de" text-anchor="start" >22 Nov 2019</text><text transform="translate(409.7,969) scale(0.96,1)" font-size="10.4" fill="#ccd0de" text-anchor="start" >9 Jan 2020</text><text transform="translate(512.1,969) scale(0.96,1)" font-size="10.4" fill="#ccd0de" text-anchor="start" >24 Feb 2020</text><text transform="translate(614.5,969) scale(0.96,1)" font-size="10.4" fill="#ccd0de" text-anchor="start" >8 Apr 2020</text><text transform="translate(716.9,969) scale(0.96,1)" font-size="10.4" fill="#ccd0de" text-anchor="start" >22 May 2020</text><text transform="translate(819.3,969) scale(0.96,1)" font-size="10.4" fill="#ccd0de" text-anchor="start" >7 Jul 2020</text><text transform="translate(921.7,969) scale(0.96,1)" font-size="10.4" fill="#ccd0de" text-anchor="start" >20 Aug 2020</text><text transform="translate(1024.1,969) scale(0.96,1)" font-size="10.4" fill="#ccd0de" text-anchor="start" >5 Oct 2020</text><text transform="translate(1126.5,969) scale(0.96,1)" font-size="10.4" fill="#ccd0de" text-anchor="start" >18 Nov 2020</text><text transform="translate(1228.9,969) scale(0.96,1)" font-size="10.4" fill="#ccd0de" text-anchor="start" >5 Jan 2021</text><text transform="translate(1331.3,969) scale(0.96,1)" font-size="10.4" fill="#ccd0de" text-anchor="start" >18 Feb 2021</text><text transform="translate(1433.7,969) scale(0.96,1)" font-size="10.4" fill="#ccd0de" text-anchor="start" >5 Apr 2021</text><text transform="translate(1536.1,969) scale(0.96,1)" font-size="10.4" fill="#ccd0de" text-anchor="start" >19 May 2021</text><text transform="translate(1638.5,969) scale(0.96,1)" font-size="10.4" fill="#ccd0de" text-anchor="start" >2 Jul 2021</text><text transform="translate(1740.9,969) scale(0.96,1)" font-size="10.4" fill="#ccd0de" text-anchor="start" >17 Aug 2021</text><text transform="translate(1843.3,969) scale(0.96,1)" font-size="10.4" fill="#ccd0de" text-anchor="start" >30 Sep 2021</text></svg></body></html>
